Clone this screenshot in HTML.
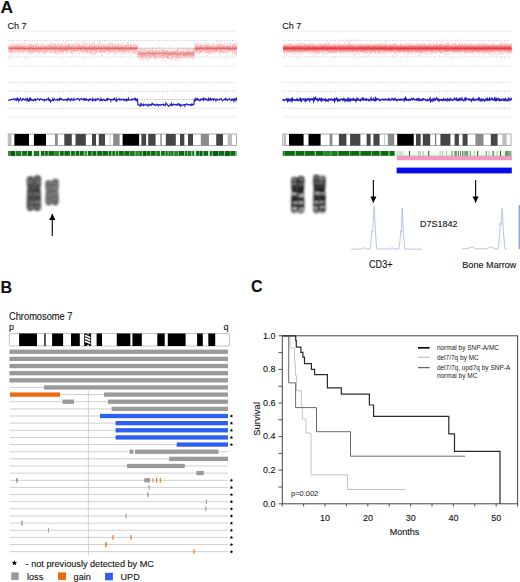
<!DOCTYPE html>
<html><head><meta charset="utf-8"><style>
html,body{margin:0;padding:0;background:#fff;}
svg{display:block;}
text{font-family:"Liberation Sans",sans-serif;stroke:#333;stroke-width:0.12px;paint-order:stroke;}
</style></head><body>
<svg width="520" height="582" viewBox="0 0 520 582">
<defs><linearGradient id="rg" x1="0" y1="0" x2="0" y2="1">
<stop offset="0" stop-color="#f27070" stop-opacity="0"/>
<stop offset="0.2" stop-color="#f29090" stop-opacity="0.12"/>
<stop offset="0.38" stop-color="#ec6060" stop-opacity="0.32"/>
<stop offset="0.5" stop-color="#e0303a" stop-opacity="0.72"/>
<stop offset="0.62" stop-color="#ec6060" stop-opacity="0.32"/>
<stop offset="0.8" stop-color="#f29090" stop-opacity="0.12"/>
<stop offset="1" stop-color="#f27070" stop-opacity="0"/>
</linearGradient>
<linearGradient id="rg2" x1="0" y1="0" x2="0" y2="1">
<stop offset="0" stop-color="#f27070" stop-opacity="0"/>
<stop offset="0.15" stop-color="#f28080" stop-opacity="0.15"/>
<stop offset="0.32" stop-color="#ec5050" stop-opacity="0.5"/>
<stop offset="0.5" stop-color="#e4202a" stop-opacity="0.9"/>
<stop offset="0.68" stop-color="#ec5050" stop-opacity="0.5"/>
<stop offset="0.85" stop-color="#f28080" stop-opacity="0.15"/>
<stop offset="1" stop-color="#f27070" stop-opacity="0"/>
</linearGradient>
<linearGradient id="rg3" x1="0" y1="0" x2="0" y2="1">
<stop offset="0" stop-color="#f27070" stop-opacity="0"/>
<stop offset="0.2" stop-color="#f29090" stop-opacity="0.15"/>
<stop offset="0.4" stop-color="#ec6a6a" stop-opacity="0.35"/>
<stop offset="0.5" stop-color="#e84a50" stop-opacity="0.5"/>
<stop offset="0.6" stop-color="#ec6a6a" stop-opacity="0.35"/>
<stop offset="0.8" stop-color="#f29090" stop-opacity="0.15"/>
<stop offset="1" stop-color="#f27070" stop-opacity="0"/>
</linearGradient>
<filter id="bl" x="-20%" y="-20%" width="140%" height="140%"><feGaussianBlur stdDeviation="0.85"/></filter>
</defs>
<rect width="520" height="582" fill="#fff"/>
<text x="0.5" y="13.3" font-size="17.4" font-weight="700" fill="#111" text-anchor="start" >A</text>
<line x1="8.4" y1="31" x2="237" y2="31" stroke="#e4e4ea" stroke-width="0.8" />
<line x1="8.4" y1="117" x2="237" y2="117" stroke="#e4e4ea" stroke-width="0.8" />
<line x1="8.4" y1="66" x2="237" y2="66" stroke="#dcdce4" stroke-width="0.8" stroke-dasharray="2 1"/>
<line x1="8.4" y1="82.5" x2="237" y2="82.5" stroke="#dcdce4" stroke-width="0.8" stroke-dasharray="2 1"/>
<line x1="8.4" y1="40.3" x2="237" y2="40.3" stroke="#b8b0c4" stroke-width="0.9" stroke-dasharray="1 1.6"/>
<line x1="8.4" y1="57" x2="237" y2="57" stroke="#c4b8c8" stroke-width="0.9" stroke-dasharray="1 1.6"/>
<line x1="8.4" y1="91.2" x2="237" y2="91.2" stroke="#b4b4c4" stroke-width="0.9" stroke-dasharray="1 1.6"/>
<line x1="8.4" y1="108.3" x2="237" y2="108.3" stroke="#c8c0b8" stroke-width="0.9" stroke-dasharray="1 1.6"/>
<rect x="8.4" y="42.3" width="129.1" height="12" fill="url(#rg)"/>
<rect x="137.5" y="47.6" width="56.8" height="12" fill="url(#rg3)"/>
<rect x="194.3" y="42.3" width="42.7" height="12" fill="url(#rg)"/>
<path d="M82.4 50.5h.8v.8h-.8zM25.0 51.4h.8v.8h-.8zM130.9 47.7h.8v.8h-.8zM124.4 49.0h.8v.8h-.8zM17.0 47.4h.8v.8h-.8zM29.1 48.7h.8v.8h-.8zM105.4 48.9h.8v.8h-.8zM59.4 47.1h.8v.8h-.8zM151.8 56.8h.8v.8h-.8zM99.1 47.2h.8v.8h-.8zM231.6 53.2h.8v.8h-.8zM74.6 49.8h.8v.8h-.8zM41.4 49.9h.8v.8h-.8zM195.0 49.8h.8v.8h-.8zM49.7 45.1h.8v.8h-.8zM93.5 46.5h.8v.8h-.8zM133.6 49.1h.8v.8h-.8zM55.5 48.7h.8v.8h-.8zM163.9 51.6h.8v.8h-.8zM142.3 54.6h.8v.8h-.8zM112.0 46.9h.8v.8h-.8zM168.2 58.0h.8v.8h-.8zM64.2 45.5h.8v.8h-.8zM208.5 46.9h.8v.8h-.8zM175.2 51.9h.8v.8h-.8zM35.4 55.4h.8v.8h-.8zM104.0 48.4h.8v.8h-.8zM120.2 46.8h.8v.8h-.8zM17.4 46.1h.8v.8h-.8zM139.4 49.7h.8v.8h-.8zM208.5 46.7h.8v.8h-.8zM144.3 57.3h.8v.8h-.8zM141.0 48.8h.8v.8h-.8zM224.4 49.7h.8v.8h-.8zM116.8 47.8h.8v.8h-.8zM168.8 52.8h.8v.8h-.8zM156.3 58.4h.8v.8h-.8zM73.5 48.1h.8v.8h-.8zM96.6 48.0h.8v.8h-.8zM113.9 47.8h.8v.8h-.8zM46.8 49.0h.8v.8h-.8zM184.0 54.2h.8v.8h-.8zM38.0 48.3h.8v.8h-.8zM207.6 50.9h.8v.8h-.8zM26.8 45.2h.8v.8h-.8zM210.3 49.3h.8v.8h-.8zM195.7 49.7h.8v.8h-.8zM103.3 46.7h.8v.8h-.8zM90.4 53.2h.8v.8h-.8zM42.9 44.0h.8v.8h-.8zM48.7 48.5h.8v.8h-.8zM119.3 50.2h.8v.8h-.8zM143.1 53.6h.8v.8h-.8zM104.2 48.5h.8v.8h-.8zM92.8 42.4h.8v.8h-.8zM166.2 51.0h.8v.8h-.8zM126.2 45.4h.8v.8h-.8zM20.7 45.7h.8v.8h-.8zM214.0 49.3h.8v.8h-.8zM190.8 48.4h.8v.8h-.8zM98.1 47.3h.8v.8h-.8zM153.4 54.3h.8v.8h-.8zM22.6 49.9h.8v.8h-.8zM45.5 49.0h.8v.8h-.8zM86.1 48.4h.8v.8h-.8zM43.0 48.3h.8v.8h-.8zM31.6 47.9h.8v.8h-.8zM208.3 48.7h.8v.8h-.8zM148.8 54.8h.8v.8h-.8zM87.8 49.9h.8v.8h-.8zM91.6 51.9h.8v.8h-.8zM235.4 51.8h.8v.8h-.8zM114.9 47.2h.8v.8h-.8zM31.8 48.4h.8v.8h-.8zM86.7 47.8h.8v.8h-.8zM45.3 53.2h.8v.8h-.8zM13.7 51.3h.8v.8h-.8zM41.9 47.3h.8v.8h-.8zM132.6 51.4h.8v.8h-.8zM232.1 48.8h.8v.8h-.8zM205.8 47.6h.8v.8h-.8zM92.2 46.4h.8v.8h-.8zM46.6 48.7h.8v.8h-.8zM186.5 50.4h.8v.8h-.8zM83.8 49.1h.8v.8h-.8zM233.6 53.0h.8v.8h-.8zM203.3 50.0h.8v.8h-.8zM177.5 49.1h.8v.8h-.8zM60.2 45.9h.8v.8h-.8zM15.0 48.0h.8v.8h-.8zM14.8 47.9h.8v.8h-.8zM166.7 55.6h.8v.8h-.8zM227.1 42.5h.8v.8h-.8zM234.3 50.3h.8v.8h-.8zM226.7 47.1h.8v.8h-.8zM60.3 49.7h.8v.8h-.8zM53.4 49.3h.8v.8h-.8zM214.2 51.8h.8v.8h-.8zM200.5 44.5h.8v.8h-.8zM191.2 54.1h.8v.8h-.8zM27.8 45.3h.8v.8h-.8zM187.2 48.8h.8v.8h-.8zM179.9 52.0h.8v.8h-.8zM188.8 53.8h.8v.8h-.8zM84.4 50.5h.8v.8h-.8zM98.9 41.7h.8v.8h-.8zM100.2 52.2h.8v.8h-.8zM47.3 46.9h.8v.8h-.8zM37.4 51.6h.8v.8h-.8zM192.8 58.2h.8v.8h-.8zM41.8 51.7h.8v.8h-.8zM158.7 47.1h.8v.8h-.8zM88.5 47.0h.8v.8h-.8zM11.7 47.9h.8v.8h-.8zM230.3 46.4h.8v.8h-.8zM221.8 45.7h.8v.8h-.8zM107.6 51.7h.8v.8h-.8zM56.6 44.8h.8v.8h-.8zM66.0 47.8h.8v.8h-.8zM142.5 55.5h.8v.8h-.8zM67.7 47.1h.8v.8h-.8zM216.4 49.0h.8v.8h-.8zM89.3 45.0h.8v.8h-.8zM215.1 49.2h.8v.8h-.8zM104.6 51.0h.8v.8h-.8zM130.0 46.8h.8v.8h-.8zM128.1 51.1h.8v.8h-.8zM50.3 48.6h.8v.8h-.8zM9.3 48.8h.8v.8h-.8zM116.6 46.8h.8v.8h-.8zM174.2 51.4h.8v.8h-.8zM126.9 47.5h.8v.8h-.8zM135.4 48.6h.8v.8h-.8zM136.5 47.1h.8v.8h-.8zM65.2 47.5h.8v.8h-.8zM124.5 52.7h.8v.8h-.8zM136.8 48.7h.8v.8h-.8zM109.7 42.6h.8v.8h-.8zM148.4 50.5h.8v.8h-.8zM166.8 53.5h.8v.8h-.8zM111.8 45.4h.8v.8h-.8zM223.6 47.7h.8v.8h-.8zM168.2 58.0h.8v.8h-.8zM67.7 44.0h.8v.8h-.8zM136.3 53.0h.8v.8h-.8zM39.7 46.6h.8v.8h-.8zM36.2 47.4h.8v.8h-.8zM63.4 48.7h.8v.8h-.8zM25.1 46.1h.8v.8h-.8zM213.5 44.3h.8v.8h-.8zM43.7 47.5h.8v.8h-.8zM41.1 44.6h.8v.8h-.8zM210.2 50.1h.8v.8h-.8zM226.1 47.9h.8v.8h-.8zM99.4 40.4h.8v.8h-.8zM198.7 48.9h.8v.8h-.8zM45.3 45.5h.8v.8h-.8zM85.9 49.6h.8v.8h-.8zM53.1 46.6h.8v.8h-.8zM12.9 52.1h.8v.8h-.8zM135.1 47.8h.8v.8h-.8zM84.2 48.5h.8v.8h-.8zM151.0 52.7h.8v.8h-.8zM233.6 48.2h.8v.8h-.8zM188.6 54.8h.8v.8h-.8zM69.1 48.1h.8v.8h-.8zM17.4 48.7h.8v.8h-.8zM38.0 46.3h.8v.8h-.8zM104.9 52.4h.8v.8h-.8zM67.5 45.8h.8v.8h-.8zM42.5 51.3h.8v.8h-.8zM168.5 52.0h.8v.8h-.8zM28.9 52.0h.8v.8h-.8zM105.6 49.7h.8v.8h-.8zM25.0 51.7h.8v.8h-.8zM191.7 52.2h.8v.8h-.8zM27.5 48.9h.8v.8h-.8zM205.6 47.5h.8v.8h-.8zM112.1 46.5h.8v.8h-.8zM220.2 51.1h.8v.8h-.8zM69.6 50.5h.8v.8h-.8zM62.9 50.6h.8v.8h-.8zM33.4 48.7h.8v.8h-.8zM54.5 49.0h.8v.8h-.8zM79.7 46.8h.8v.8h-.8zM74.7 52.4h.8v.8h-.8zM122.7 49.4h.8v.8h-.8zM12.6 50.5h.8v.8h-.8zM65.7 52.5h.8v.8h-.8zM134.4 48.7h.8v.8h-.8zM51.7 42.3h.8v.8h-.8zM32.7 49.3h.8v.8h-.8zM195.6 45.5h.8v.8h-.8zM199.2 49.6h.8v.8h-.8zM98.3 44.3h.8v.8h-.8zM233.0 48.1h.8v.8h-.8zM86.7 50.3h.8v.8h-.8zM153.8 50.1h.8v.8h-.8zM100.9 47.8h.8v.8h-.8zM38.1 49.0h.8v.8h-.8zM24.6 48.2h.8v.8h-.8zM45.7 46.3h.8v.8h-.8zM27.7 51.2h.8v.8h-.8zM161.7 49.2h.8v.8h-.8zM72.8 48.4h.8v.8h-.8zM113.4 50.5h.8v.8h-.8zM44.4 46.4h.8v.8h-.8zM228.3 49.0h.8v.8h-.8zM230.7 46.4h.8v.8h-.8zM229.2 47.7h.8v.8h-.8zM79.2 48.2h.8v.8h-.8zM95.6 48.4h.8v.8h-.8zM116.9 46.6h.8v.8h-.8zM123.8 48.3h.8v.8h-.8zM9.5 48.2h.8v.8h-.8zM99.7 49.4h.8v.8h-.8zM17.9 50.5h.8v.8h-.8zM61.6 48.6h.8v.8h-.8zM142.3 49.3h.8v.8h-.8zM158.7 52.8h.8v.8h-.8zM172.1 55.5h.8v.8h-.8zM83.0 46.5h.8v.8h-.8zM233.5 50.8h.8v.8h-.8zM155.4 57.0h.8v.8h-.8zM18.4 51.1h.8v.8h-.8zM151.8 48.9h.8v.8h-.8zM176.2 54.1h.8v.8h-.8zM128.1 47.0h.8v.8h-.8zM123.7 50.7h.8v.8h-.8zM197.3 44.3h.8v.8h-.8zM141.9 56.7h.8v.8h-.8zM166.9 51.1h.8v.8h-.8zM61.0 49.7h.8v.8h-.8zM90.9 48.6h.8v.8h-.8zM32.4 50.0h.8v.8h-.8zM151.9 50.7h.8v.8h-.8zM151.6 52.3h.8v.8h-.8zM9.2 45.6h.8v.8h-.8zM190.8 53.6h.8v.8h-.8zM130.7 45.2h.8v.8h-.8zM159.1 57.5h.8v.8h-.8zM66.1 50.0h.8v.8h-.8zM25.4 47.9h.8v.8h-.8zM55.3 52.5h.8v.8h-.8zM177.5 56.6h.8v.8h-.8zM95.9 47.8h.8v.8h-.8zM117.9 46.5h.8v.8h-.8zM149.4 49.5h.8v.8h-.8zM155.3 54.9h.8v.8h-.8zM66.5 49.0h.8v.8h-.8zM178.3 52.5h.8v.8h-.8zM11.3 51.5h.8v.8h-.8zM22.3 47.8h.8v.8h-.8zM166.6 57.5h.8v.8h-.8zM162.9 52.8h.8v.8h-.8zM114.6 51.3h.8v.8h-.8zM115.0 52.3h.8v.8h-.8zM53.9 52.0h.8v.8h-.8zM232.0 48.7h.8v.8h-.8zM113.3 48.1h.8v.8h-.8zM195.8 51.1h.8v.8h-.8zM69.8 47.7h.8v.8h-.8zM56.4 50.0h.8v.8h-.8zM141.3 53.0h.8v.8h-.8zM40.8 41.9h.8v.8h-.8zM38.7 47.3h.8v.8h-.8zM195.9 42.9h.8v.8h-.8zM169.2 53.3h.8v.8h-.8zM61.3 50.7h.8v.8h-.8zM14.1 46.5h.8v.8h-.8zM9.2 45.5h.8v.8h-.8zM77.4 48.4h.8v.8h-.8zM40.6 47.0h.8v.8h-.8zM200.5 50.2h.8v.8h-.8zM8.8 48.3h.8v.8h-.8zM35.8 43.3h.8v.8h-.8zM220.2 47.0h.8v.8h-.8zM74.7 42.9h.8v.8h-.8zM93.5 40.8h.8v.8h-.8zM143.1 59.5h.8v.8h-.8zM90.9 46.4h.8v.8h-.8zM19.4 49.2h.8v.8h-.8zM31.7 49.4h.8v.8h-.8zM222.3 46.5h.8v.8h-.8zM65.4 48.0h.8v.8h-.8zM51.8 51.4h.8v.8h-.8zM93.7 53.5h.8v.8h-.8zM194.0 52.1h.8v.8h-.8zM152.6 58.9h.8v.8h-.8zM134.0 45.1h.8v.8h-.8zM172.9 57.6h.8v.8h-.8zM111.5 49.6h.8v.8h-.8zM180.5 52.3h.8v.8h-.8zM19.6 46.6h.8v.8h-.8zM220.3 50.3h.8v.8h-.8zM87.0 50.4h.8v.8h-.8zM76.5 47.8h.8v.8h-.8zM67.9 41.2h.8v.8h-.8zM158.4 52.6h.8v.8h-.8zM98.6 51.5h.8v.8h-.8zM46.7 49.2h.8v.8h-.8zM215.5 49.8h.8v.8h-.8zM122.0 49.4h.8v.8h-.8zM236.2 53.9h.8v.8h-.8zM111.3 49.4h.8v.8h-.8zM29.1 49.6h.8v.8h-.8zM86.6 49.9h.8v.8h-.8zM67.5 49.3h.8v.8h-.8zM138.6 56.9h.8v.8h-.8zM102.8 45.5h.8v.8h-.8zM103.0 45.8h.8v.8h-.8zM85.7 47.9h.8v.8h-.8zM22.6 47.1h.8v.8h-.8zM37.2 55.0h.8v.8h-.8zM123.5 44.7h.8v.8h-.8zM57.8 44.5h.8v.8h-.8zM70.4 48.3h.8v.8h-.8zM110.3 50.9h.8v.8h-.8zM226.5 51.4h.8v.8h-.8zM13.4 44.0h.8v.8h-.8zM15.8 46.9h.8v.8h-.8zM116.6 42.9h.8v.8h-.8zM142.6 56.2h.8v.8h-.8zM220.3 48.3h.8v.8h-.8zM197.1 52.6h.8v.8h-.8zM65.2 42.8h.8v.8h-.8zM33.3 50.1h.8v.8h-.8zM164.3 56.2h.8v.8h-.8zM223.6 47.6h.8v.8h-.8zM183.2 49.9h.8v.8h-.8zM112.9 47.6h.8v.8h-.8zM187.2 53.4h.8v.8h-.8zM61.6 51.6h.8v.8h-.8zM77.8 46.5h.8v.8h-.8zM37.7 48.3h.8v.8h-.8zM168.1 57.3h.8v.8h-.8zM34.0 51.2h.8v.8h-.8zM141.6 55.0h.8v.8h-.8zM97.1 48.9h.8v.8h-.8zM10.8 51.8h.8v.8h-.8zM77.3 41.9h.8v.8h-.8zM155.7 55.2h.8v.8h-.8zM210.4 46.4h.8v.8h-.8zM64.9 48.6h.8v.8h-.8zM228.0 47.7h.8v.8h-.8zM13.4 46.2h.8v.8h-.8zM122.3 47.1h.8v.8h-.8zM67.2 45.9h.8v.8h-.8zM161.0 55.3h.8v.8h-.8zM16.2 47.5h.8v.8h-.8zM85.7 44.8h.8v.8h-.8zM53.7 50.2h.8v.8h-.8zM190.6 53.4h.8v.8h-.8zM55.3 45.2h.8v.8h-.8zM230.1 46.5h.8v.8h-.8zM61.2 52.8h.8v.8h-.8zM59.0 48.4h.8v.8h-.8zM226.0 46.1h.8v.8h-.8zM121.7 49.0h.8v.8h-.8zM103.7 50.0h.8v.8h-.8zM160.5 55.0h.8v.8h-.8zM98.3 47.8h.8v.8h-.8zM57.1 49.7h.8v.8h-.8zM20.3 48.1h.8v.8h-.8zM22.1 43.9h.8v.8h-.8zM210.4 51.8h.8v.8h-.8zM175.9 59.6h.8v.8h-.8zM83.7 48.2h.8v.8h-.8zM50.8 52.3h.8v.8h-.8zM15.7 46.6h.8v.8h-.8zM160.3 51.8h.8v.8h-.8zM84.2 50.0h.8v.8h-.8zM47.1 50.4h.8v.8h-.8zM88.7 48.3h.8v.8h-.8zM226.8 53.1h.8v.8h-.8zM55.8 53.0h.8v.8h-.8zM89.9 50.4h.8v.8h-.8zM107.3 43.9h.8v.8h-.8zM19.7 45.8h.8v.8h-.8zM218.6 48.7h.8v.8h-.8zM52.5 44.7h.8v.8h-.8zM15.3 52.5h.8v.8h-.8zM102.3 50.0h.8v.8h-.8zM17.7 44.2h.8v.8h-.8zM16.4 53.7h.8v.8h-.8zM67.2 50.5h.8v.8h-.8zM179.2 55.5h.8v.8h-.8zM70.7 46.9h.8v.8h-.8zM227.3 46.8h.8v.8h-.8zM172.2 52.2h.8v.8h-.8zM80.7 48.3h.8v.8h-.8zM181.1 53.8h.8v.8h-.8zM217.9 44.2h.8v.8h-.8zM13.9 43.7h.8v.8h-.8zM61.9 41.9h.8v.8h-.8zM226.5 49.3h.8v.8h-.8zM96.8 48.3h.8v.8h-.8zM121.2 51.1h.8v.8h-.8zM220.6 50.2h.8v.8h-.8zM177.2 57.9h.8v.8h-.8zM196.5 48.8h.8v.8h-.8zM83.3 44.8h.8v.8h-.8zM81.4 45.4h.8v.8h-.8zM26.5 51.8h.8v.8h-.8zM53.5 48.3h.8v.8h-.8zM23.2 46.3h.8v.8h-.8zM16.1 46.1h.8v.8h-.8zM232.5 47.6h.8v.8h-.8zM210.4 50.3h.8v.8h-.8zM27.6 48.1h.8v.8h-.8zM30.4 44.2h.8v.8h-.8zM110.6 48.3h.8v.8h-.8zM61.9 45.2h.8v.8h-.8zM162.5 55.4h.8v.8h-.8zM179.4 55.8h.8v.8h-.8zM36.1 45.1h.8v.8h-.8zM200.6 47.4h.8v.8h-.8zM93.7 51.5h.8v.8h-.8zM177.1 54.2h.8v.8h-.8zM64.5 50.2h.8v.8h-.8zM43.4 50.9h.8v.8h-.8zM83.0 46.0h.8v.8h-.8zM98.9 51.4h.8v.8h-.8zM61.3 48.2h.8v.8h-.8zM193.2 49.0h.8v.8h-.8zM31.8 41.8h.8v.8h-.8zM116.9 50.4h.8v.8h-.8zM217.4 43.8h.8v.8h-.8zM17.6 47.9h.8v.8h-.8zM51.7 49.6h.8v.8h-.8zM230.8 43.1h.8v.8h-.8zM93.5 45.3h.8v.8h-.8zM206.4 46.4h.8v.8h-.8zM186.2 54.2h.8v.8h-.8zM224.6 51.1h.8v.8h-.8zM150.1 55.8h.8v.8h-.8zM58.2 47.3h.8v.8h-.8zM55.0 49.4h.8v.8h-.8zM66.7 45.2h.8v.8h-.8zM54.9 46.1h.8v.8h-.8zM11.0 46.5h.8v.8h-.8zM50.7 51.8h.8v.8h-.8zM79.8 49.6h.8v.8h-.8zM133.7 52.7h.8v.8h-.8zM22.9 50.4h.8v.8h-.8zM134.2 49.9h.8v.8h-.8zM154.5 54.9h.8v.8h-.8zM167.4 54.4h.8v.8h-.8zM102.1 47.8h.8v.8h-.8zM226.3 50.5h.8v.8h-.8zM79.8 46.1h.8v.8h-.8zM103.6 47.3h.8v.8h-.8zM206.0 50.8h.8v.8h-.8zM53.5 48.2h.8v.8h-.8zM174.8 53.7h.8v.8h-.8zM214.5 48.6h.8v.8h-.8zM105.3 49.4h.8v.8h-.8zM210.2 45.9h.8v.8h-.8zM113.8 48.5h.8v.8h-.8zM134.5 48.7h.8v.8h-.8zM154.9 54.5h.8v.8h-.8zM150.6 53.0h.8v.8h-.8zM93.2 46.8h.8v.8h-.8zM73.2 48.3h.8v.8h-.8zM127.5 49.4h.8v.8h-.8zM120.5 47.7h.8v.8h-.8zM192.4 55.3h.8v.8h-.8zM37.4 47.9h.8v.8h-.8zM224.0 51.3h.8v.8h-.8zM20.6 47.8h.8v.8h-.8zM220.1 44.0h.8v.8h-.8zM150.2 57.2h.8v.8h-.8zM196.9 50.7h.8v.8h-.8zM59.2 52.2h.8v.8h-.8zM100.9 51.1h.8v.8h-.8zM50.2 44.3h.8v.8h-.8zM58.3 45.8h.8v.8h-.8zM96.1 50.2h.8v.8h-.8zM36.5 48.4h.8v.8h-.8zM213.5 52.5h.8v.8h-.8zM17.8 44.3h.8v.8h-.8zM17.1 46.6h.8v.8h-.8zM200.0 50.9h.8v.8h-.8zM134.1 50.7h.8v.8h-.8zM151.7 52.7h.8v.8h-.8zM141.6 56.1h.8v.8h-.8zM105.7 46.8h.8v.8h-.8zM108.6 45.9h.8v.8h-.8zM13.7 46.1h.8v.8h-.8zM62.2 46.3h.8v.8h-.8zM183.0 54.1h.8v.8h-.8zM49.4 45.5h.8v.8h-.8zM116.6 49.4h.8v.8h-.8zM106.8 49.1h.8v.8h-.8zM29.4 45.4h.8v.8h-.8zM17.7 49.4h.8v.8h-.8zM153.9 57.3h.8v.8h-.8zM186.2 55.7h.8v.8h-.8zM125.3 51.2h.8v.8h-.8zM94.8 49.3h.8v.8h-.8zM225.8 51.7h.8v.8h-.8zM236.1 52.2h.8v.8h-.8zM175.8 54.3h.8v.8h-.8zM232.8 46.7h.8v.8h-.8zM120.8 53.9h.8v.8h-.8zM46.1 46.7h.8v.8h-.8zM188.6 54.5h.8v.8h-.8zM88.6 47.9h.8v.8h-.8zM181.3 56.6h.8v.8h-.8zM71.3 53.0h.8v.8h-.8zM194.9 50.2h.8v.8h-.8zM218.7 50.7h.8v.8h-.8zM56.0 48.1h.8v.8h-.8zM81.3 51.4h.8v.8h-.8zM16.8 48.9h.8v.8h-.8zM222.5 49.7h.8v.8h-.8zM163.8 54.9h.8v.8h-.8zM187.8 52.6h.8v.8h-.8zM34.7 44.7h.8v.8h-.8zM90.6 47.6h.8v.8h-.8zM208.0 45.1h.8v.8h-.8zM210.1 47.1h.8v.8h-.8zM32.3 52.0h.8v.8h-.8zM98.5 48.1h.8v.8h-.8zM190.7 52.9h.8v.8h-.8zM140.4 61.5h.8v.8h-.8zM90.8 48.6h.8v.8h-.8zM48.8 45.5h.8v.8h-.8zM178.4 58.2h.8v.8h-.8zM66.4 49.7h.8v.8h-.8zM154.5 57.0h.8v.8h-.8zM160.1 53.3h.8v.8h-.8zM79.9 49.0h.8v.8h-.8zM42.5 48.3h.8v.8h-.8zM149.2 50.8h.8v.8h-.8zM213.1 49.6h.8v.8h-.8zM38.6 48.8h.8v.8h-.8zM13.5 52.0h.8v.8h-.8zM9.0 47.5h.8v.8h-.8zM90.0 49.3h.8v.8h-.8zM59.7 45.3h.8v.8h-.8zM55.1 46.6h.8v.8h-.8zM151.0 52.2h.8v.8h-.8zM222.5 48.5h.8v.8h-.8zM64.1 49.0h.8v.8h-.8zM154.3 54.5h.8v.8h-.8zM207.6 48.8h.8v.8h-.8zM68.8 45.7h.8v.8h-.8zM11.0 46.3h.8v.8h-.8zM88.5 45.7h.8v.8h-.8zM156.0 47.9h.8v.8h-.8zM176.1 55.7h.8v.8h-.8zM65.2 48.9h.8v.8h-.8zM129.9 47.9h.8v.8h-.8zM101.2 48.4h.8v.8h-.8zM186.5 54.5h.8v.8h-.8zM11.2 42.4h.8v.8h-.8zM40.9 46.4h.8v.8h-.8zM54.0 45.9h.8v.8h-.8zM155.1 51.7h.8v.8h-.8zM194.3 49.3h.8v.8h-.8zM77.0 50.3h.8v.8h-.8zM19.5 51.8h.8v.8h-.8zM171.9 50.7h.8v.8h-.8zM9.9 50.7h.8v.8h-.8zM114.8 44.7h.8v.8h-.8zM178.0 51.8h.8v.8h-.8zM32.5 48.8h.8v.8h-.8zM61.5 50.6h.8v.8h-.8zM179.8 54.2h.8v.8h-.8zM167.3 55.9h.8v.8h-.8zM69.2 44.9h.8v.8h-.8zM135.0 44.1h.8v.8h-.8zM128.0 50.1h.8v.8h-.8zM69.0 44.1h.8v.8h-.8zM58.0 43.1h.8v.8h-.8zM209.6 50.3h.8v.8h-.8zM62.4 48.5h.8v.8h-.8zM178.5 57.6h.8v.8h-.8zM83.1 46.8h.8v.8h-.8zM209.6 47.4h.8v.8h-.8zM215.9 50.0h.8v.8h-.8zM152.6 52.2h.8v.8h-.8zM232.2 44.7h.8v.8h-.8zM115.7 50.4h.8v.8h-.8zM204.4 44.9h.8v.8h-.8zM108.3 47.8h.8v.8h-.8zM78.8 45.0h.8v.8h-.8zM56.9 47.5h.8v.8h-.8zM216.6 47.6h.8v.8h-.8zM41.5 49.5h.8v.8h-.8zM220.8 48.5h.8v.8h-.8zM87.2 48.7h.8v.8h-.8zM17.9 48.8h.8v.8h-.8zM166.7 50.9h.8v.8h-.8zM176.8 50.6h.8v.8h-.8zM23.4 46.2h.8v.8h-.8zM195.3 47.0h.8v.8h-.8zM195.8 49.0h.8v.8h-.8zM206.8 47.7h.8v.8h-.8zM217.4 49.5h.8v.8h-.8zM55.4 47.9h.8v.8h-.8zM34.0 53.2h.8v.8h-.8zM194.0 54.7h.8v.8h-.8zM153.4 55.3h.8v.8h-.8zM74.1 45.0h.8v.8h-.8zM31.2 51.9h.8v.8h-.8zM55.3 50.8h.8v.8h-.8zM81.4 47.8h.8v.8h-.8zM67.1 48.5h.8v.8h-.8zM73.0 47.8h.8v.8h-.8zM81.7 45.9h.8v.8h-.8zM228.8 43.2h.8v.8h-.8zM149.7 53.5h.8v.8h-.8zM15.5 45.9h.8v.8h-.8zM185.1 55.0h.8v.8h-.8zM87.7 47.4h.8v.8h-.8zM57.9 45.2h.8v.8h-.8zM205.5 52.3h.8v.8h-.8zM47.3 50.9h.8v.8h-.8zM8.7 49.6h.8v.8h-.8zM231.9 52.5h.8v.8h-.8zM9.4 45.3h.8v.8h-.8zM190.5 53.8h.8v.8h-.8zM50.6 45.9h.8v.8h-.8zM198.6 48.4h.8v.8h-.8zM68.0 50.3h.8v.8h-.8zM57.5 47.6h.8v.8h-.8zM168.3 52.3h.8v.8h-.8zM153.9 53.6h.8v.8h-.8zM26.9 49.2h.8v.8h-.8zM188.3 49.7h.8v.8h-.8zM151.9 52.0h.8v.8h-.8zM98.6 50.4h.8v.8h-.8zM211.9 53.0h.8v.8h-.8zM14.2 51.1h.8v.8h-.8zM55.5 47.8h.8v.8h-.8zM123.0 53.9h.8v.8h-.8zM95.1 49.7h.8v.8h-.8zM113.8 47.0h.8v.8h-.8zM129.9 48.4h.8v.8h-.8zM156.1 49.3h.8v.8h-.8zM88.1 47.6h.8v.8h-.8zM201.1 49.6h.8v.8h-.8zM159.8 53.5h.8v.8h-.8zM108.7 46.7h.8v.8h-.8zM185.2 52.4h.8v.8h-.8zM114.0 47.7h.8v.8h-.8zM210.7 48.4h.8v.8h-.8zM77.3 50.0h.8v.8h-.8zM169.1 54.4h.8v.8h-.8zM44.1 47.0h.8v.8h-.8zM65.0 46.8h.8v.8h-.8zM45.2 51.1h.8v.8h-.8zM83.4 50.9h.8v.8h-.8zM175.0 60.2h.8v.8h-.8zM31.7 49.5h.8v.8h-.8zM96.2 48.0h.8v.8h-.8zM233.3 49.5h.8v.8h-.8zM107.8 44.2h.8v.8h-.8zM53.2 47.5h.8v.8h-.8zM55.6 47.4h.8v.8h-.8zM97.2 50.9h.8v.8h-.8zM189.2 54.2h.8v.8h-.8zM166.9 49.9h.8v.8h-.8zM114.3 48.3h.8v.8h-.8zM40.8 46.2h.8v.8h-.8zM177.8 52.0h.8v.8h-.8zM216.0 45.2h.8v.8h-.8zM179.6 55.0h.8v.8h-.8zM104.7 48.9h.8v.8h-.8zM209.6 52.4h.8v.8h-.8zM185.3 52.0h.8v.8h-.8zM163.8 48.8h.8v.8h-.8zM155.1 51.4h.8v.8h-.8zM152.0 54.2h.8v.8h-.8zM30.8 44.3h.8v.8h-.8zM171.4 55.8h.8v.8h-.8zM152.3 53.6h.8v.8h-.8zM112.5 51.0h.8v.8h-.8zM150.5 50.3h.8v.8h-.8zM221.0 50.4h.8v.8h-.8zM50.2 45.8h.8v.8h-.8zM97.3 44.6h.8v.8h-.8zM120.4 49.0h.8v.8h-.8zM132.6 48.2h.8v.8h-.8zM45.2 49.5h.8v.8h-.8zM127.1 42.2h.8v.8h-.8zM31.5 45.4h.8v.8h-.8zM172.4 52.1h.8v.8h-.8zM125.5 45.2h.8v.8h-.8zM127.7 44.5h.8v.8h-.8zM102.2 50.0h.8v.8h-.8zM164.8 53.0h.8v.8h-.8zM98.1 48.4h.8v.8h-.8zM233.4 47.0h.8v.8h-.8zM89.7 50.3h.8v.8h-.8zM99.8 49.0h.8v.8h-.8zM11.4 45.9h.8v.8h-.8zM168.0 54.9h.8v.8h-.8zM88.9 48.1h.8v.8h-.8zM177.9 55.4h.8v.8h-.8zM223.3 46.5h.8v.8h-.8zM191.6 53.3h.8v.8h-.8zM98.0 48.6h.8v.8h-.8zM185.9 54.9h.8v.8h-.8zM193.5 51.7h.8v.8h-.8zM136.9 46.1h.8v.8h-.8zM60.1 50.7h.8v.8h-.8zM154.4 53.1h.8v.8h-.8zM195.6 49.5h.8v.8h-.8zM75.7 45.6h.8v.8h-.8zM133.7 51.8h.8v.8h-.8zM89.5 51.8h.8v.8h-.8zM202.9 48.0h.8v.8h-.8zM66.4 50.8h.8v.8h-.8zM105.8 48.4h.8v.8h-.8zM173.4 53.8h.8v.8h-.8zM72.7 48.4h.8v.8h-.8zM118.0 50.5h.8v.8h-.8zM106.4 45.8h.8v.8h-.8zM91.3 45.4h.8v.8h-.8zM220.7 48.8h.8v.8h-.8zM197.7 47.6h.8v.8h-.8zM215.5 48.6h.8v.8h-.8zM198.4 46.9h.8v.8h-.8zM153.1 54.0h.8v.8h-.8zM226.0 48.3h.8v.8h-.8zM158.4 53.6h.8v.8h-.8zM41.0 49.5h.8v.8h-.8zM61.8 48.7h.8v.8h-.8zM43.3 45.9h.8v.8h-.8zM215.1 48.7h.8v.8h-.8zM212.1 46.8h.8v.8h-.8zM147.5 54.4h.8v.8h-.8zM212.7 44.5h.8v.8h-.8zM188.6 54.5h.8v.8h-.8zM166.8 52.1h.8v.8h-.8zM129.7 48.2h.8v.8h-.8zM210.2 45.5h.8v.8h-.8zM135.3 48.1h.8v.8h-.8zM40.3 50.2h.8v.8h-.8zM121.1 51.0h.8v.8h-.8zM41.4 49.3h.8v.8h-.8zM120.7 45.1h.8v.8h-.8zM205.7 48.3h.8v.8h-.8zM9.9 49.9h.8v.8h-.8zM137.0 45.8h.8v.8h-.8zM160.5 55.0h.8v.8h-.8zM104.1 46.2h.8v.8h-.8zM228.0 51.6h.8v.8h-.8zM153.8 55.3h.8v.8h-.8zM14.9 45.3h.8v.8h-.8zM221.3 45.8h.8v.8h-.8zM83.9 51.4h.8v.8h-.8zM119.2 47.9h.8v.8h-.8zM213.6 52.3h.8v.8h-.8zM151.3 54.5h.8v.8h-.8zM85.8 49.9h.8v.8h-.8zM116.9 46.4h.8v.8h-.8zM128.5 48.5h.8v.8h-.8zM107.9 46.5h.8v.8h-.8zM105.0 43.7h.8v.8h-.8zM75.4 46.7h.8v.8h-.8zM197.6 45.8h.8v.8h-.8zM70.5 50.1h.8v.8h-.8zM124.2 52.0h.8v.8h-.8zM189.4 53.0h.8v.8h-.8zM84.0 47.4h.8v.8h-.8zM142.5 55.6h.8v.8h-.8zM153.5 53.8h.8v.8h-.8zM173.6 52.9h.8v.8h-.8zM210.8 47.5h.8v.8h-.8zM77.1 48.1h.8v.8h-.8zM9.8 50.5h.8v.8h-.8zM147.5 59.1h.8v.8h-.8zM158.8 55.0h.8v.8h-.8zM148.2 48.1h.8v.8h-.8zM149.4 50.8h.8v.8h-.8zM144.7 50.7h.8v.8h-.8zM164.1 54.5h.8v.8h-.8zM113.1 52.0h.8v.8h-.8zM182.7 54.9h.8v.8h-.8zM16.9 49.3h.8v.8h-.8zM185.5 56.9h.8v.8h-.8zM92.7 46.3h.8v.8h-.8zM196.4 49.1h.8v.8h-.8zM67.4 45.0h.8v.8h-.8zM77.4 46.3h.8v.8h-.8zM106.9 49.4h.8v.8h-.8zM155.1 54.4h.8v.8h-.8zM138.1 53.2h.8v.8h-.8zM17.4 51.8h.8v.8h-.8zM139.9 56.8h.8v.8h-.8zM218.4 47.9h.8v.8h-.8zM96.9 48.4h.8v.8h-.8zM143.7 60.4h.8v.8h-.8zM117.1 45.5h.8v.8h-.8zM102.7 51.3h.8v.8h-.8zM56.9 50.5h.8v.8h-.8zM43.1 48.6h.8v.8h-.8zM164.7 53.6h.8v.8h-.8zM36.2 49.4h.8v.8h-.8zM207.2 48.1h.8v.8h-.8zM37.9 52.4h.8v.8h-.8zM63.8 48.8h.8v.8h-.8zM176.1 53.9h.8v.8h-.8zM185.3 54.4h.8v.8h-.8zM171.5 56.2h.8v.8h-.8zM27.7 45.0h.8v.8h-.8zM152.1 52.9h.8v.8h-.8zM221.5 45.5h.8v.8h-.8zM66.5 52.3h.8v.8h-.8zM11.0 47.4h.8v.8h-.8zM11.8 45.5h.8v.8h-.8zM26.6 44.4h.8v.8h-.8zM79.5 48.1h.8v.8h-.8zM205.2 46.7h.8v.8h-.8zM119.6 50.6h.8v.8h-.8zM139.8 54.5h.8v.8h-.8zM108.7 47.7h.8v.8h-.8zM190.7 52.3h.8v.8h-.8zM91.4 46.1h.8v.8h-.8zM103.9 45.4h.8v.8h-.8zM96.6 49.7h.8v.8h-.8zM187.8 47.5h.8v.8h-.8zM138.0 53.4h.8v.8h-.8zM231.0 49.2h.8v.8h-.8zM169.2 54.7h.8v.8h-.8zM146.9 51.5h.8v.8h-.8zM231.8 50.0h.8v.8h-.8zM78.9 45.2h.8v.8h-.8zM106.4 50.2h.8v.8h-.8zM165.0 52.0h.8v.8h-.8zM146.0 57.3h.8v.8h-.8zM73.2 45.4h.8v.8h-.8zM8.8 48.1h.8v.8h-.8zM142.5 56.3h.8v.8h-.8zM194.9 48.9h.8v.8h-.8zM198.9 47.8h.8v.8h-.8zM194.0 55.9h.8v.8h-.8zM71.0 45.8h.8v.8h-.8zM203.0 49.7h.8v.8h-.8zM217.3 44.6h.8v.8h-.8zM87.7 51.1h.8v.8h-.8zM190.7 55.3h.8v.8h-.8zM54.2 48.3h.8v.8h-.8zM61.9 42.3h.8v.8h-.8zM147.1 52.3h.8v.8h-.8zM55.6 45.7h.8v.8h-.8zM66.6 48.3h.8v.8h-.8zM113.5 43.7h.8v.8h-.8zM28.4 49.9h.8v.8h-.8zM61.6 44.1h.8v.8h-.8zM140.9 57.9h.8v.8h-.8zM127.7 45.0h.8v.8h-.8zM117.3 46.9h.8v.8h-.8zM52.4 47.4h.8v.8h-.8zM49.7 47.6h.8v.8h-.8zM137.4 45.9h.8v.8h-.8zM100.4 46.8h.8v.8h-.8zM18.6 48.1h.8v.8h-.8zM236.3 47.4h.8v.8h-.8zM153.0 54.5h.8v.8h-.8zM188.4 55.5h.8v.8h-.8zM87.2 51.2h.8v.8h-.8zM127.1 49.0h.8v.8h-.8zM234.8 48.4h.8v.8h-.8zM206.4 44.9h.8v.8h-.8zM68.2 48.6h.8v.8h-.8zM186.5 48.0h.8v.8h-.8zM183.8 56.4h.8v.8h-.8zM195.6 50.2h.8v.8h-.8zM17.1 47.8h.8v.8h-.8zM54.3 48.8h.8v.8h-.8zM20.1 49.3h.8v.8h-.8zM135.8 50.3h.8v.8h-.8zM224.9 46.2h.8v.8h-.8zM216.4 51.5h.8v.8h-.8zM99.2 49.7h.8v.8h-.8zM35.8 50.2h.8v.8h-.8zM137.4 47.8h.8v.8h-.8zM154.8 57.3h.8v.8h-.8zM98.3 47.3h.8v.8h-.8zM110.9 51.9h.8v.8h-.8zM235.1 54.0h.8v.8h-.8zM59.1 50.2h.8v.8h-.8zM88.9 48.8h.8v.8h-.8zM214.8 52.4h.8v.8h-.8zM19.2 45.5h.8v.8h-.8zM188.2 52.7h.8v.8h-.8zM233.7 44.7h.8v.8h-.8zM21.1 51.0h.8v.8h-.8zM223.1 51.7h.8v.8h-.8zM163.1 52.6h.8v.8h-.8zM181.7 56.9h.8v.8h-.8zM32.5 47.4h.8v.8h-.8zM36.8 50.1h.8v.8h-.8zM118.4 49.2h.8v.8h-.8zM41.1 50.0h.8v.8h-.8zM163.3 57.7h.8v.8h-.8zM53.0 48.6h.8v.8h-.8zM16.6 49.9h.8v.8h-.8zM221.9 47.5h.8v.8h-.8zM206.5 49.4h.8v.8h-.8zM110.6 47.4h.8v.8h-.8zM30.6 52.8h.8v.8h-.8zM152.0 51.4h.8v.8h-.8zM111.8 45.7h.8v.8h-.8zM117.6 52.4h.8v.8h-.8zM152.0 54.7h.8v.8h-.8zM21.4 49.7h.8v.8h-.8zM171.6 52.2h.8v.8h-.8zM207.4 47.8h.8v.8h-.8zM69.3 47.0h.8v.8h-.8zM70.4 49.1h.8v.8h-.8zM200.3 47.5h.8v.8h-.8zM120.6 49.7h.8v.8h-.8zM81.1 49.4h.8v.8h-.8zM232.1 47.6h.8v.8h-.8zM21.4 51.4h.8v.8h-.8zM56.7 45.9h.8v.8h-.8zM117.5 47.8h.8v.8h-.8zM54.5 50.3h.8v.8h-.8zM91.7 57.5h.8v.8h-.8zM219.9 47.8h.8v.8h-.8zM30.7 46.9h.8v.8h-.8zM21.5 53.7h.8v.8h-.8zM174.5 51.7h.8v.8h-.8zM12.1 55.2h.8v.8h-.8zM192.9 52.8h.8v.8h-.8zM8.8 49.5h.8v.8h-.8zM198.7 46.7h.8v.8h-.8zM107.9 48.0h.8v.8h-.8zM216.9 49.0h.8v.8h-.8zM40.0 51.6h.8v.8h-.8zM49.6 48.8h.8v.8h-.8zM53.4 44.2h.8v.8h-.8zM26.5 51.3h.8v.8h-.8zM121.7 50.2h.8v.8h-.8zM71.0 49.3h.8v.8h-.8zM170.2 57.0h.8v.8h-.8zM193.9 52.1h.8v.8h-.8zM23.4 47.4h.8v.8h-.8zM175.9 50.1h.8v.8h-.8zM21.1 50.6h.8v.8h-.8zM193.7 51.1h.8v.8h-.8zM206.0 52.6h.8v.8h-.8zM121.1 54.0h.8v.8h-.8zM117.4 48.9h.8v.8h-.8zM207.7 48.1h.8v.8h-.8zM198.5 50.0h.8v.8h-.8zM92.3 49.6h.8v.8h-.8zM144.4 55.7h.8v.8h-.8zM9.5 45.5h.8v.8h-.8zM126.3 47.9h.8v.8h-.8zM36.0 47.2h.8v.8h-.8zM206.2 43.6h.8v.8h-.8zM81.8 47.7h.8v.8h-.8zM180.2 51.1h.8v.8h-.8zM22.4 52.8h.8v.8h-.8zM121.5 43.7h.8v.8h-.8zM125.7 45.1h.8v.8h-.8zM13.1 47.7h.8v.8h-.8zM229.6 48.6h.8v.8h-.8zM31.9 49.9h.8v.8h-.8zM65.7 48.6h.8v.8h-.8zM30.5 47.7h.8v.8h-.8zM168.2 53.8h.8v.8h-.8zM145.4 54.1h.8v.8h-.8zM140.2 49.6h.8v.8h-.8zM31.9 47.7h.8v.8h-.8zM207.2 48.1h.8v.8h-.8zM36.5 47.5h.8v.8h-.8zM121.2 46.2h.8v.8h-.8zM36.3 48.3h.8v.8h-.8zM101.1 50.6h.8v.8h-.8zM205.2 50.9h.8v.8h-.8zM42.1 44.4h.8v.8h-.8zM46.0 46.4h.8v.8h-.8zM197.2 50.7h.8v.8h-.8zM104.5 47.3h.8v.8h-.8zM200.4 45.7h.8v.8h-.8zM223.6 47.9h.8v.8h-.8zM186.0 52.6h.8v.8h-.8zM85.0 49.9h.8v.8h-.8zM108.0 53.0h.8v.8h-.8zM217.1 47.7h.8v.8h-.8zM194.7 48.8h.8v.8h-.8zM126.7 47.6h.8v.8h-.8zM227.4 50.1h.8v.8h-.8zM104.9 47.5h.8v.8h-.8zM153.0 51.5h.8v.8h-.8zM24.2 50.7h.8v.8h-.8zM107.4 47.8h.8v.8h-.8zM40.3 48.3h.8v.8h-.8zM230.1 49.3h.8v.8h-.8zM153.2 47.6h.8v.8h-.8zM193.4 57.6h.8v.8h-.8zM16.3 44.7h.8v.8h-.8zM155.1 53.2h.8v.8h-.8zM70.9 52.2h.8v.8h-.8zM132.4 51.5h.8v.8h-.8zM65.7 46.6h.8v.8h-.8zM127.3 42.5h.8v.8h-.8zM74.1 50.9h.8v.8h-.8zM78.2 47.5h.8v.8h-.8zM144.3 52.5h.8v.8h-.8zM227.0 46.3h.8v.8h-.8zM115.0 48.1h.8v.8h-.8zM130.4 49.1h.8v.8h-.8zM38.4 49.4h.8v.8h-.8zM75.5 46.5h.8v.8h-.8zM64.0 49.5h.8v.8h-.8zM28.5 43.5h.8v.8h-.8zM147.8 52.2h.8v.8h-.8zM138.7 52.6h.8v.8h-.8zM170.8 52.2h.8v.8h-.8zM113.8 44.9h.8v.8h-.8zM115.6 47.2h.8v.8h-.8zM79.4 48.4h.8v.8h-.8zM125.5 50.1h.8v.8h-.8zM96.0 48.0h.8v.8h-.8zM89.0 48.1h.8v.8h-.8zM205.4 48.5h.8v.8h-.8zM120.7 51.6h.8v.8h-.8zM73.5 50.5h.8v.8h-.8zM184.9 53.4h.8v.8h-.8zM44.6 53.1h.8v.8h-.8zM109.0 50.4h.8v.8h-.8zM22.6 46.2h.8v.8h-.8zM176.5 55.4h.8v.8h-.8zM33.4 49.3h.8v.8h-.8zM177.3 60.1h.8v.8h-.8zM43.7 47.0h.8v.8h-.8zM162.8 55.7h.8v.8h-.8zM149.3 56.4h.8v.8h-.8zM126.8 44.4h.8v.8h-.8zM177.3 53.4h.8v.8h-.8zM117.0 43.9h.8v.8h-.8zM187.8 52.1h.8v.8h-.8zM37.5 42.7h.8v.8h-.8zM207.5 52.7h.8v.8h-.8zM142.3 53.7h.8v.8h-.8zM122.2 51.6h.8v.8h-.8zM103.9 47.5h.8v.8h-.8zM187.6 56.1h.8v.8h-.8zM95.2 45.8h.8v.8h-.8zM111.8 44.3h.8v.8h-.8zM75.4 49.4h.8v.8h-.8zM97.7 45.9h.8v.8h-.8zM82.0 47.4h.8v.8h-.8zM188.3 55.4h.8v.8h-.8zM109.9 45.8h.8v.8h-.8zM50.5 47.8h.8v.8h-.8zM139.9 55.0h.8v.8h-.8zM141.3 58.6h.8v.8h-.8zM82.4 51.4h.8v.8h-.8zM201.2 51.8h.8v.8h-.8zM55.1 42.7h.8v.8h-.8zM105.9 48.6h.8v.8h-.8zM19.2 48.1h.8v.8h-.8zM137.5 47.8h.8v.8h-.8zM185.2 53.7h.8v.8h-.8zM131.5 51.4h.8v.8h-.8zM126.6 48.3h.8v.8h-.8zM165.0 51.7h.8v.8h-.8zM144.4 55.2h.8v.8h-.8zM88.7 52.0h.8v.8h-.8zM128.5 47.0h.8v.8h-.8zM31.0 46.4h.8v.8h-.8zM136.7 50.2h.8v.8h-.8zM139.6 58.5h.8v.8h-.8zM119.7 43.7h.8v.8h-.8zM109.0 42.2h.8v.8h-.8zM86.9 42.2h.8v.8h-.8zM129.6 48.9h.8v.8h-.8zM81.1 46.8h.8v.8h-.8zM232.1 49.7h.8v.8h-.8zM33.7 45.5h.8v.8h-.8zM212.9 46.5h.8v.8h-.8zM234.8 43.8h.8v.8h-.8zM211.4 47.0h.8v.8h-.8zM74.7 49.0h.8v.8h-.8zM125.4 46.6h.8v.8h-.8zM50.1 48.2h.8v.8h-.8zM152.4 51.7h.8v.8h-.8zM235.6 46.8h.8v.8h-.8zM153.9 56.2h.8v.8h-.8zM188.5 54.3h.8v.8h-.8zM78.5 48.2h.8v.8h-.8zM78.0 48.1h.8v.8h-.8zM200.9 45.0h.8v.8h-.8zM53.4 46.3h.8v.8h-.8zM122.2 46.4h.8v.8h-.8zM156.3 52.9h.8v.8h-.8zM129.9 51.7h.8v.8h-.8zM102.4 48.2h.8v.8h-.8zM36.2 50.7h.8v.8h-.8zM32.8 52.0h.8v.8h-.8zM31.3 49.8h.8v.8h-.8zM196.6 51.1h.8v.8h-.8zM148.5 53.9h.8v.8h-.8zM11.3 47.4h.8v.8h-.8zM184.6 51.8h.8v.8h-.8zM89.3 52.0h.8v.8h-.8zM47.1 48.2h.8v.8h-.8zM215.0 49.5h.8v.8h-.8zM141.5 51.9h.8v.8h-.8zM96.6 50.6h.8v.8h-.8zM20.9 51.0h.8v.8h-.8zM227.8 46.1h.8v.8h-.8zM108.9 46.9h.8v.8h-.8zM18.5 47.0h.8v.8h-.8zM221.2 49.7h.8v.8h-.8zM213.9 46.5h.8v.8h-.8zM194.9 47.1h.8v.8h-.8zM227.9 51.6h.8v.8h-.8zM121.7 50.1h.8v.8h-.8zM97.5 47.7h.8v.8h-.8zM172.6 54.0h.8v.8h-.8zM208.5 50.5h.8v.8h-.8zM119.1 48.8h.8v.8h-.8zM48.1 46.4h.8v.8h-.8zM90.3 51.0h.8v.8h-.8zM74.9 54.7h.8v.8h-.8zM136.8 50.7h.8v.8h-.8zM96.5 50.4h.8v.8h-.8zM100.6 49.5h.8v.8h-.8zM197.2 48.8h.8v.8h-.8zM88.7 48.4h.8v.8h-.8zM73.2 50.0h.8v.8h-.8zM62.6 52.0h.8v.8h-.8zM86.4 49.1h.8v.8h-.8zM44.0 48.0h.8v.8h-.8zM70.0 47.2h.8v.8h-.8zM199.3 50.3h.8v.8h-.8zM199.6 50.3h.8v.8h-.8zM192.4 54.9h.8v.8h-.8zM173.6 55.6h.8v.8h-.8zM94.6 50.0h.8v.8h-.8zM225.8 47.8h.8v.8h-.8zM123.8 48.7h.8v.8h-.8zM38.3 51.1h.8v.8h-.8zM169.9 53.2h.8v.8h-.8zM142.7 59.2h.8v.8h-.8zM92.5 48.4h.8v.8h-.8zM57.0 51.9h.8v.8h-.8zM207.8 50.5h.8v.8h-.8zM132.4 50.5h.8v.8h-.8zM70.2 48.6h.8v.8h-.8zM158.7 51.1h.8v.8h-.8zM138.2 52.6h.8v.8h-.8zM28.1 50.7h.8v.8h-.8zM48.9 49.7h.8v.8h-.8zM159.9 51.8h.8v.8h-.8zM33.3 46.0h.8v.8h-.8zM122.8 47.4h.8v.8h-.8zM76.3 50.4h.8v.8h-.8zM60.2 49.2h.8v.8h-.8zM37.2 47.9h.8v.8h-.8zM100.6 46.2h.8v.8h-.8zM216.2 49.1h.8v.8h-.8zM205.3 43.0h.8v.8h-.8zM38.6 48.2h.8v.8h-.8zM163.8 54.2h.8v.8h-.8zM160.1 52.0h.8v.8h-.8zM159.1 55.8h.8v.8h-.8zM168.2 53.6h.8v.8h-.8zM88.9 53.3h.8v.8h-.8zM152.1 54.1h.8v.8h-.8zM217.0 49.5h.8v.8h-.8zM176.2 53.4h.8v.8h-.8zM17.5 47.6h.8v.8h-.8zM45.4 49.0h.8v.8h-.8zM95.4 50.4h.8v.8h-.8zM17.4 46.9h.8v.8h-.8zM49.5 51.7h.8v.8h-.8zM200.3 44.6h.8v.8h-.8zM66.6 46.5h.8v.8h-.8zM107.8 47.3h.8v.8h-.8zM8.6 46.1h.8v.8h-.8zM199.1 48.7h.8v.8h-.8zM18.2 46.2h.8v.8h-.8zM203.7 47.7h.8v.8h-.8zM64.3 47.8h.8v.8h-.8zM33.8 48.8h.8v.8h-.8zM217.5 46.6h.8v.8h-.8zM179.7 57.0h.8v.8h-.8zM98.4 50.4h.8v.8h-.8zM179.3 54.6h.8v.8h-.8zM29.0 46.4h.8v.8h-.8zM224.7 43.0h.8v.8h-.8zM166.5 56.4h.8v.8h-.8zM177.2 55.4h.8v.8h-.8zM111.9 45.1h.8v.8h-.8zM20.8 47.4h.8v.8h-.8zM125.4 45.7h.8v.8h-.8zM220.6 51.4h.8v.8h-.8zM18.4 51.5h.8v.8h-.8zM169.0 54.3h.8v.8h-.8zM133.3 46.4h.8v.8h-.8zM230.0 46.2h.8v.8h-.8zM65.5 45.8h.8v.8h-.8zM22.0 46.6h.8v.8h-.8zM54.4 50.4h.8v.8h-.8zM79.4 51.0h.8v.8h-.8zM161.6 56.7h.8v.8h-.8zM62.8 48.5h.8v.8h-.8zM110.1 51.4h.8v.8h-.8zM222.3 47.0h.8v.8h-.8zM210.6 50.1h.8v.8h-.8zM40.8 46.1h.8v.8h-.8zM194.8 47.4h.8v.8h-.8zM133.7 48.4h.8v.8h-.8zM160.8 52.0h.8v.8h-.8zM145.3 49.3h.8v.8h-.8zM198.4 49.4h.8v.8h-.8zM34.6 47.7h.8v.8h-.8zM55.6 50.7h.8v.8h-.8zM22.2 48.0h.8v.8h-.8zM168.8 55.3h.8v.8h-.8zM110.8 50.0h.8v.8h-.8zM115.5 49.8h.8v.8h-.8zM91.4 48.8h.8v.8h-.8zM10.9 49.2h.8v.8h-.8zM235.2 48.3h.8v.8h-.8zM172.3 52.5h.8v.8h-.8zM232.5 47.2h.8v.8h-.8zM120.2 47.8h.8v.8h-.8zM107.7 49.5h.8v.8h-.8zM10.3 51.3h.8v.8h-.8zM218.6 46.1h.8v.8h-.8zM222.2 45.4h.8v.8h-.8zM157.6 53.6h.8v.8h-.8zM40.1 50.3h.8v.8h-.8zM14.7 49.1h.8v.8h-.8zM76.1 43.4h.8v.8h-.8zM50.9 45.0h.8v.8h-.8zM220.2 44.5h.8v.8h-.8zM46.9 49.4h.8v.8h-.8zM178.1 48.8h.8v.8h-.8zM83.1 50.2h.8v.8h-.8zM81.6 52.8h.8v.8h-.8zM92.6 45.9h.8v.8h-.8zM198.5 47.5h.8v.8h-.8zM63.1 51.6h.8v.8h-.8zM152.0 54.5h.8v.8h-.8zM195.8 46.7h.8v.8h-.8zM224.4 42.9h.8v.8h-.8zM121.4 46.8h.8v.8h-.8zM76.9 48.3h.8v.8h-.8zM141.2 57.1h.8v.8h-.8zM45.8 50.2h.8v.8h-.8zM109.7 49.4h.8v.8h-.8zM17.5 48.1h.8v.8h-.8zM108.9 49.8h.8v.8h-.8zM9.0 52.2h.8v.8h-.8zM200.6 51.1h.8v.8h-.8zM105.7 44.7h.8v.8h-.8zM73.2 46.7h.8v.8h-.8zM104.7 45.6h.8v.8h-.8zM85.8 44.7h.8v.8h-.8zM197.2 49.7h.8v.8h-.8zM215.1 49.4h.8v.8h-.8zM109.7 50.2h.8v.8h-.8zM137.2 47.3h.8v.8h-.8zM27.8 49.7h.8v.8h-.8zM82.4 41.6h.8v.8h-.8zM216.1 50.0h.8v.8h-.8zM206.2 54.9h.8v.8h-.8zM150.1 52.5h.8v.8h-.8zM193.8 57.2h.8v.8h-.8zM147.7 55.0h.8v.8h-.8zM76.3 42.5h.8v.8h-.8zM118.3 45.5h.8v.8h-.8zM156.4 52.9h.8v.8h-.8zM210.7 50.6h.8v.8h-.8zM14.8 49.8h.8v.8h-.8zM110.7 51.9h.8v.8h-.8zM27.9 47.0h.8v.8h-.8zM141.2 51.5h.8v.8h-.8zM103.6 45.0h.8v.8h-.8zM99.0 47.7h.8v.8h-.8zM34.5 50.6h.8v.8h-.8zM133.7 53.3h.8v.8h-.8zM34.1 49.6h.8v.8h-.8zM30.1 46.8h.8v.8h-.8zM129.7 48.3h.8v.8h-.8zM135.0 51.3h.8v.8h-.8zM60.2 47.2h.8v.8h-.8zM125.7 47.7h.8v.8h-.8zM142.9 55.9h.8v.8h-.8zM25.2 49.6h.8v.8h-.8zM108.9 50.5h.8v.8h-.8zM171.8 51.1h.8v.8h-.8zM181.4 59.6h.8v.8h-.8zM173.4 58.8h.8v.8h-.8zM31.7 49.6h.8v.8h-.8zM47.5 46.0h.8v.8h-.8zM227.9 44.2h.8v.8h-.8zM39.7 46.6h.8v.8h-.8zM185.8 55.4h.8v.8h-.8zM93.5 49.0h.8v.8h-.8zM11.9 46.8h.8v.8h-.8zM77.0 47.3h.8v.8h-.8zM170.1 48.7h.8v.8h-.8zM150.4 56.0h.8v.8h-.8zM207.8 42.9h.8v.8h-.8zM207.5 46.1h.8v.8h-.8zM46.8 48.2h.8v.8h-.8zM183.0 51.2h.8v.8h-.8zM164.0 54.2h.8v.8h-.8zM93.7 47.1h.8v.8h-.8zM176.9 57.5h.8v.8h-.8zM18.3 47.0h.8v.8h-.8zM146.4 56.3h.8v.8h-.8zM192.0 55.5h.8v.8h-.8zM34.2 51.8h.8v.8h-.8zM66.6 46.5h.8v.8h-.8zM52.6 43.6h.8v.8h-.8zM141.3 55.2h.8v.8h-.8zM34.4 49.5h.8v.8h-.8zM191.4 53.8h.8v.8h-.8zM50.8 46.3h.8v.8h-.8zM165.5 52.9h.8v.8h-.8zM95.5 51.6h.8v.8h-.8zM131.5 52.5h.8v.8h-.8zM166.0 55.9h.8v.8h-.8zM11.6 42.4h.8v.8h-.8zM86.7 50.1h.8v.8h-.8zM208.0 50.8h.8v.8h-.8zM191.4 55.2h.8v.8h-.8zM195.5 48.7h.8v.8h-.8zM163.7 51.3h.8v.8h-.8zM44.6 50.1h.8v.8h-.8zM201.6 44.2h.8v.8h-.8zM148.0 56.9h.8v.8h-.8zM25.7 47.4h.8v.8h-.8zM212.8 49.9h.8v.8h-.8zM143.1 55.1h.8v.8h-.8zM90.9 48.7h.8v.8h-.8zM115.3 46.0h.8v.8h-.8zM89.3 47.1h.8v.8h-.8zM9.8 46.2h.8v.8h-.8zM13.1 47.2h.8v.8h-.8zM113.4 49.1h.8v.8h-.8zM41.7 48.2h.8v.8h-.8zM161.8 53.3h.8v.8h-.8zM122.7 50.4h.8v.8h-.8zM68.3 45.4h.8v.8h-.8zM227.2 47.0h.8v.8h-.8zM235.2 51.6h.8v.8h-.8zM184.6 54.3h.8v.8h-.8zM207.8 48.9h.8v.8h-.8zM153.5 50.0h.8v.8h-.8zM91.4 47.4h.8v.8h-.8zM207.9 52.8h.8v.8h-.8zM223.0 47.4h.8v.8h-.8zM182.9 51.6h.8v.8h-.8zM177.5 49.9h.8v.8h-.8zM88.5 48.1h.8v.8h-.8zM134.3 47.5h.8v.8h-.8zM85.5 48.8h.8v.8h-.8zM82.3 51.3h.8v.8h-.8zM92.4 48.1h.8v.8h-.8zM64.0 48.5h.8v.8h-.8zM39.4 50.7h.8v.8h-.8zM10.1 50.3h.8v.8h-.8zM110.2 46.2h.8v.8h-.8zM138.4 53.1h.8v.8h-.8zM23.6 49.8h.8v.8h-.8zM77.3 46.8h.8v.8h-.8zM134.4 52.2h.8v.8h-.8zM222.7 45.1h.8v.8h-.8zM141.8 58.5h.8v.8h-.8zM26.7 49.8h.8v.8h-.8zM234.1 51.4h.8v.8h-.8zM90.0 48.7h.8v.8h-.8zM206.9 45.6h.8v.8h-.8zM23.9 42.8h.8v.8h-.8zM71.5 48.8h.8v.8h-.8zM67.3 49.8h.8v.8h-.8zM69.7 48.5h.8v.8h-.8zM169.4 54.1h.8v.8h-.8zM54.2 50.9h.8v.8h-.8zM146.2 56.1h.8v.8h-.8zM53.4 45.5h.8v.8h-.8zM176.2 57.0h.8v.8h-.8zM26.5 47.5h.8v.8h-.8zM193.4 55.3h.8v.8h-.8zM39.6 46.6h.8v.8h-.8zM51.4 43.1h.8v.8h-.8zM154.7 52.4h.8v.8h-.8zM219.4 48.8h.8v.8h-.8zM179.7 55.8h.8v.8h-.8zM156.7 50.4h.8v.8h-.8zM85.6 50.5h.8v.8h-.8zM21.5 47.6h.8v.8h-.8zM151.6 54.0h.8v.8h-.8zM84.9 44.8h.8v.8h-.8zM67.2 48.4h.8v.8h-.8zM114.3 54.2h.8v.8h-.8zM137.4 48.8h.8v.8h-.8zM234.1 51.7h.8v.8h-.8zM173.9 54.8h.8v.8h-.8zM83.6 49.6h.8v.8h-.8zM41.0 49.1h.8v.8h-.8zM183.8 57.6h.8v.8h-.8zM105.2 50.9h.8v.8h-.8zM131.5 45.5h.8v.8h-.8zM158.7 51.9h.8v.8h-.8zM145.9 51.5h.8v.8h-.8zM67.3 52.0h.8v.8h-.8zM171.0 54.0h.8v.8h-.8zM79.1 43.8h.8v.8h-.8zM185.0 56.4h.8v.8h-.8zM72.0 47.9h.8v.8h-.8zM128.0 49.6h.8v.8h-.8zM10.5 47.8h.8v.8h-.8zM117.2 45.8h.8v.8h-.8zM91.3 44.6h.8v.8h-.8zM234.6 48.9h.8v.8h-.8zM29.0 52.6h.8v.8h-.8zM14.8 48.9h.8v.8h-.8zM123.1 49.0h.8v.8h-.8zM135.3 50.9h.8v.8h-.8zM92.0 53.9h.8v.8h-.8zM42.5 50.2h.8v.8h-.8zM219.0 52.1h.8v.8h-.8zM45.5 52.7h.8v.8h-.8zM63.9 49.1h.8v.8h-.8zM233.0 44.6h.8v.8h-.8zM87.1 48.3h.8v.8h-.8zM191.4 51.4h.8v.8h-.8zM214.9 48.9h.8v.8h-.8zM33.0 48.2h.8v.8h-.8zM156.0 52.6h.8v.8h-.8zM100.3 48.9h.8v.8h-.8zM137.4 47.6h.8v.8h-.8zM102.1 53.8h.8v.8h-.8zM151.8 50.6h.8v.8h-.8zM59.6 48.3h.8v.8h-.8zM107.6 50.3h.8v.8h-.8zM61.3 49.6h.8v.8h-.8zM155.3 57.8h.8v.8h-.8zM76.6 50.1h.8v.8h-.8zM138.6 53.5h.8v.8h-.8zM44.2 51.7h.8v.8h-.8zM69.5 44.3h.8v.8h-.8zM180.2 54.5h.8v.8h-.8zM84.2 46.4h.8v.8h-.8zM119.4 49.5h.8v.8h-.8zM164.5 52.6h.8v.8h-.8zM145.0 50.3h.8v.8h-.8zM210.2 49.3h.8v.8h-.8zM56.4 50.1h.8v.8h-.8zM186.7 52.0h.8v.8h-.8zM205.8 50.4h.8v.8h-.8zM235.8 53.0h.8v.8h-.8zM76.4 49.5h.8v.8h-.8zM231.1 48.5h.8v.8h-.8zM10.6 49.6h.8v.8h-.8zM176.7 52.8h.8v.8h-.8zM30.7 50.2h.8v.8h-.8zM29.0 51.7h.8v.8h-.8zM86.0 51.9h.8v.8h-.8zM210.0 46.3h.8v.8h-.8zM232.3 50.2h.8v.8h-.8zM189.5 54.0h.8v.8h-.8zM166.0 56.6h.8v.8h-.8zM61.4 49.0h.8v.8h-.8zM106.8 48.7h.8v.8h-.8zM234.9 48.6h.8v.8h-.8zM80.7 49.3h.8v.8h-.8zM119.8 47.4h.8v.8h-.8zM39.4 46.8h.8v.8h-.8zM165.1 54.3h.8v.8h-.8zM42.2 48.1h.8v.8h-.8zM34.1 45.2h.8v.8h-.8zM89.2 42.5h.8v.8h-.8zM88.3 48.4h.8v.8h-.8zM57.6 53.6h.8v.8h-.8zM175.6 52.5h.8v.8h-.8zM70.8 49.2h.8v.8h-.8zM24.2 50.1h.8v.8h-.8zM18.3 45.6h.8v.8h-.8zM135.6 48.2h.8v.8h-.8zM91.3 52.3h.8v.8h-.8zM157.7 53.9h.8v.8h-.8zM132.8 44.5h.8v.8h-.8zM233.0 47.1h.8v.8h-.8zM208.2 47.8h.8v.8h-.8zM81.2 45.7h.8v.8h-.8zM104.2 50.8h.8v.8h-.8zM96.5 47.9h.8v.8h-.8zM102.1 54.1h.8v.8h-.8zM9.6 55.6h.8v.8h-.8zM147.3 55.4h.8v.8h-.8zM148.1 52.7h.8v.8h-.8zM94.6 48.4h.8v.8h-.8zM35.0 50.0h.8v.8h-.8zM201.1 49.5h.8v.8h-.8zM19.7 42.7h.8v.8h-.8zM167.1 51.9h.8v.8h-.8zM133.9 51.6h.8v.8h-.8zM80.5 48.4h.8v.8h-.8zM179.0 53.6h.8v.8h-.8zM203.5 44.8h.8v.8h-.8zM235.8 48.1h.8v.8h-.8zM62.0 45.4h.8v.8h-.8zM95.0 45.2h.8v.8h-.8zM171.2 51.1h.8v.8h-.8zM148.5 55.6h.8v.8h-.8zM163.2 52.0h.8v.8h-.8zM132.5 51.6h.8v.8h-.8zM59.4 46.7h.8v.8h-.8zM216.1 47.0h.8v.8h-.8zM116.6 47.7h.8v.8h-.8zM117.4 45.2h.8v.8h-.8zM59.0 52.0h.8v.8h-.8zM129.3 52.9h.8v.8h-.8zM128.2 43.6h.8v.8h-.8zM63.0 47.5h.8v.8h-.8zM47.8 49.6h.8v.8h-.8zM154.8 51.0h.8v.8h-.8zM197.6 52.4h.8v.8h-.8zM18.3 45.1h.8v.8h-.8zM95.6 50.7h.8v.8h-.8zM36.5 44.1h.8v.8h-.8zM43.6 48.3h.8v.8h-.8zM89.9 49.5h.8v.8h-.8zM192.0 50.8h.8v.8h-.8zM28.5 47.9h.8v.8h-.8zM98.8 52.3h.8v.8h-.8zM111.1 48.2h.8v.8h-.8zM117.7 49.6h.8v.8h-.8zM42.7 44.1h.8v.8h-.8zM163.9 51.5h.8v.8h-.8zM62.7 50.6h.8v.8h-.8zM93.2 46.9h.8v.8h-.8zM12.5 50.4h.8v.8h-.8zM54.3 47.5h.8v.8h-.8zM49.2 47.9h.8v.8h-.8zM172.6 53.2h.8v.8h-.8zM63.7 50.6h.8v.8h-.8zM199.1 51.4h.8v.8h-.8zM204.7 50.3h.8v.8h-.8zM54.5 44.2h.8v.8h-.8zM149.6 55.7h.8v.8h-.8zM93.4 51.0h.8v.8h-.8zM92.3 49.1h.8v.8h-.8zM171.3 52.9h.8v.8h-.8zM156.6 56.2h.8v.8h-.8zM193.8 52.1h.8v.8h-.8zM140.7 55.7h.8v.8h-.8zM219.8 50.8h.8v.8h-.8zM171.1 60.1h.8v.8h-.8zM93.5 47.1h.8v.8h-.8zM24.6 46.3h.8v.8h-.8zM181.2 51.3h.8v.8h-.8zM121.9 50.5h.8v.8h-.8zM214.4 48.3h.8v.8h-.8zM143.9 53.0h.8v.8h-.8zM114.1 43.5h.8v.8h-.8zM103.2 49.5h.8v.8h-.8zM116.7 50.5h.8v.8h-.8zM120.7 46.5h.8v.8h-.8zM125.4 50.1h.8v.8h-.8zM177.7 50.1h.8v.8h-.8zM100.2 52.1h.8v.8h-.8zM135.0 49.3h.8v.8h-.8zM184.2 53.8h.8v.8h-.8zM58.9 47.0h.8v.8h-.8zM26.0 48.8h.8v.8h-.8zM28.6 47.2h.8v.8h-.8zM180.6 52.8h.8v.8h-.8zM164.1 53.3h.8v.8h-.8zM170.9 52.7h.8v.8h-.8zM166.4 53.7h.8v.8h-.8zM103.9 40.3h.8v.8h-.8zM195.1 43.7h.8v.8h-.8zM207.7 49.7h.8v.8h-.8zM126.9 50.2h.8v.8h-.8zM9.8 50.4h.8v.8h-.8zM68.4 48.2h.8v.8h-.8zM80.0 48.1h.8v.8h-.8zM135.4 53.4h.8v.8h-.8zM125.2 47.6h.8v.8h-.8zM78.0 48.7h.8v.8h-.8zM206.5 49.9h.8v.8h-.8zM67.2 43.4h.8v.8h-.8zM54.6 51.4h.8v.8h-.8zM93.9 49.3h.8v.8h-.8zM114.5 44.9h.8v.8h-.8zM92.0 48.5h.8v.8h-.8zM191.6 55.4h.8v.8h-.8zM135.5 53.9h.8v.8h-.8zM20.1 47.0h.8v.8h-.8zM101.9 51.3h.8v.8h-.8zM137.5 52.7h.8v.8h-.8zM190.4 55.5h.8v.8h-.8zM75.0 47.2h.8v.8h-.8zM143.8 49.1h.8v.8h-.8zM112.3 50.9h.8v.8h-.8zM209.1 47.2h.8v.8h-.8zM21.6 44.9h.8v.8h-.8zM19.6 49.8h.8v.8h-.8zM205.6 51.5h.8v.8h-.8zM49.6 49.8h.8v.8h-.8zM219.3 44.0h.8v.8h-.8zM122.3 46.6h.8v.8h-.8zM162.4 52.6h.8v.8h-.8zM56.6 46.4h.8v.8h-.8zM200.0 51.8h.8v.8h-.8zM55.7 52.9h.8v.8h-.8zM31.5 52.1h.8v.8h-.8zM225.8 50.9h.8v.8h-.8zM103.2 47.2h.8v.8h-.8zM215.5 46.6h.8v.8h-.8zM165.2 54.1h.8v.8h-.8zM167.4 54.3h.8v.8h-.8zM17.9 49.4h.8v.8h-.8zM61.6 46.4h.8v.8h-.8zM141.5 52.2h.8v.8h-.8zM43.6 51.3h.8v.8h-.8zM216.9 46.1h.8v.8h-.8zM43.1 52.8h.8v.8h-.8zM191.1 56.2h.8v.8h-.8zM15.9 48.0h.8v.8h-.8zM95.3 47.1h.8v.8h-.8zM133.2 46.9h.8v.8h-.8zM29.8 44.2h.8v.8h-.8zM106.7 49.2h.8v.8h-.8zM163.6 57.3h.8v.8h-.8zM36.3 51.5h.8v.8h-.8zM219.5 54.5h.8v.8h-.8zM128.7 48.2h.8v.8h-.8zM74.9 45.8h.8v.8h-.8zM121.9 51.8h.8v.8h-.8zM221.0 50.8h.8v.8h-.8zM205.9 50.0h.8v.8h-.8zM145.1 52.5h.8v.8h-.8zM40.3 48.0h.8v.8h-.8zM70.4 52.2h.8v.8h-.8zM60.3 45.2h.8v.8h-.8zM219.8 51.7h.8v.8h-.8zM229.5 49.0h.8v.8h-.8zM87.1 51.9h.8v.8h-.8zM19.8 47.0h.8v.8h-.8zM84.6 46.4h.8v.8h-.8zM178.1 54.2h.8v.8h-.8zM49.3 48.8h.8v.8h-.8zM24.3 46.2h.8v.8h-.8zM136.2 51.0h.8v.8h-.8zM188.5 55.5h.8v.8h-.8zM144.6 52.9h.8v.8h-.8zM125.8 48.5h.8v.8h-.8zM30.6 47.5h.8v.8h-.8zM140.5 52.5h.8v.8h-.8zM89.1 45.6h.8v.8h-.8zM45.9 51.0h.8v.8h-.8zM47.2 50.5h.8v.8h-.8zM200.9 47.5h.8v.8h-.8zM208.1 46.8h.8v.8h-.8zM29.9 48.5h.8v.8h-.8zM209.4 50.6h.8v.8h-.8zM130.9 50.3h.8v.8h-.8zM35.3 46.8h.8v.8h-.8zM130.8 48.6h.8v.8h-.8zM124.3 47.1h.8v.8h-.8zM100.7 49.6h.8v.8h-.8zM54.9 49.6h.8v.8h-.8zM207.6 49.7h.8v.8h-.8zM123.1 48.7h.8v.8h-.8zM224.0 48.0h.8v.8h-.8zM120.0 49.2h.8v.8h-.8zM165.9 50.3h.8v.8h-.8zM60.8 48.3h.8v.8h-.8zM68.8 46.8h.8v.8h-.8zM15.5 45.8h.8v.8h-.8zM75.1 50.3h.8v.8h-.8zM212.0 51.2h.8v.8h-.8zM61.9 50.0h.8v.8h-.8zM144.5 54.5h.8v.8h-.8zM22.6 44.3h.8v.8h-.8zM64.6 42.3h.8v.8h-.8zM17.8 44.0h.8v.8h-.8zM149.7 51.9h.8v.8h-.8zM86.6 43.8h.8v.8h-.8zM193.7 47.9h.8v.8h-.8zM10.9 49.7h.8v.8h-.8zM223.4 46.0h.8v.8h-.8zM28.5 49.7h.8v.8h-.8zM64.4 47.9h.8v.8h-.8zM43.0 44.4h.8v.8h-.8zM87.1 49.4h.8v.8h-.8zM58.6 49.6h.8v.8h-.8zM84.1 57.1h.8v.8h-.8zM189.4 52.3h.8v.8h-.8zM118.1 43.8h.8v.8h-.8zM216.0 48.4h.8v.8h-.8zM180.2 52.5h.8v.8h-.8zM151.3 52.3h.8v.8h-.8zM201.7 48.6h.8v.8h-.8zM172.4 52.5h.8v.8h-.8zM88.2 51.8h.8v.8h-.8zM162.2 59.4h.8v.8h-.8zM178.8 56.8h.8v.8h-.8zM222.6 52.0h.8v.8h-.8zM215.2 48.1h.8v.8h-.8zM191.8 48.7h.8v.8h-.8zM143.4 49.1h.8v.8h-.8zM187.7 55.5h.8v.8h-.8zM207.5 46.3h.8v.8h-.8zM129.9 54.6h.8v.8h-.8zM224.6 53.4h.8v.8h-.8zM188.4 58.1h.8v.8h-.8zM66.0 49.3h.8v.8h-.8zM53.7 46.7h.8v.8h-.8zM113.1 48.6h.8v.8h-.8zM216.0 51.3h.8v.8h-.8zM165.1 53.0h.8v.8h-.8zM187.6 51.1h.8v.8h-.8zM189.8 51.1h.8v.8h-.8zM197.2 42.6h.8v.8h-.8zM101.3 51.5h.8v.8h-.8zM199.6 50.3h.8v.8h-.8zM86.0 44.2h.8v.8h-.8zM189.7 50.8h.8v.8h-.8zM9.4 47.8h.8v.8h-.8zM33.7 48.3h.8v.8h-.8zM194.1 50.5h.8v.8h-.8zM113.0 50.0h.8v.8h-.8zM85.1 48.8h.8v.8h-.8zM201.5 50.7h.8v.8h-.8zM150.0 53.3h.8v.8h-.8zM70.4 49.4h.8v.8h-.8zM168.7 50.0h.8v.8h-.8zM192.9 55.0h.8v.8h-.8zM36.0 48.0h.8v.8h-.8zM196.5 47.6h.8v.8h-.8zM50.5 47.4h.8v.8h-.8zM91.2 54.8h.8v.8h-.8zM59.7 51.0h.8v.8h-.8zM212.7 46.0h.8v.8h-.8zM98.5 41.8h.8v.8h-.8zM124.2 48.3h.8v.8h-.8zM234.4 50.1h.8v.8h-.8zM45.5 52.8h.8v.8h-.8zM128.9 49.9h.8v.8h-.8zM224.4 48.3h.8v.8h-.8zM112.3 49.0h.8v.8h-.8zM88.9 46.5h.8v.8h-.8zM31.5 43.4h.8v.8h-.8zM125.9 46.6h.8v.8h-.8zM94.5 53.3h.8v.8h-.8zM160.7 51.2h.8v.8h-.8zM25.8 46.3h.8v.8h-.8zM227.4 46.3h.8v.8h-.8zM91.1 46.4h.8v.8h-.8zM94.3 45.2h.8v.8h-.8zM127.8 45.8h.8v.8h-.8zM122.3 43.2h.8v.8h-.8zM91.5 49.2h.8v.8h-.8zM199.2 48.2h.8v.8h-.8zM164.7 50.9h.8v.8h-.8zM180.1 52.6h.8v.8h-.8zM212.1 47.7h.8v.8h-.8zM16.4 44.0h.8v.8h-.8zM82.7 52.5h.8v.8h-.8zM212.2 53.2h.8v.8h-.8zM41.4 45.4h.8v.8h-.8zM19.1 46.5h.8v.8h-.8zM98.1 48.2h.8v.8h-.8zM72.6 44.6h.8v.8h-.8zM182.7 52.8h.8v.8h-.8zM104.6 51.5h.8v.8h-.8zM232.0 45.5h.8v.8h-.8zM163.0 49.8h.8v.8h-.8zM95.4 52.3h.8v.8h-.8zM166.3 52.7h.8v.8h-.8zM71.8 50.1h.8v.8h-.8zM197.2 51.2h.8v.8h-.8zM189.8 52.8h.8v.8h-.8zM126.4 49.5h.8v.8h-.8zM209.0 50.5h.8v.8h-.8zM47.4 51.9h.8v.8h-.8zM79.7 50.4h.8v.8h-.8zM95.9 49.0h.8v.8h-.8zM229.4 49.9h.8v.8h-.8zM79.1 47.9h.8v.8h-.8zM224.1 49.0h.8v.8h-.8zM108.6 50.5h.8v.8h-.8zM33.2 48.1h.8v.8h-.8zM96.5 50.9h.8v.8h-.8zM228.7 48.1h.8v.8h-.8zM216.1 50.0h.8v.8h-.8zM111.3 50.2h.8v.8h-.8zM186.4 50.4h.8v.8h-.8zM80.4 50.8h.8v.8h-.8zM115.9 51.9h.8v.8h-.8zM136.1 46.2h.8v.8h-.8zM71.4 44.5h.8v.8h-.8zM91.3 51.1h.8v.8h-.8zM74.3 46.7h.8v.8h-.8zM152.5 53.3h.8v.8h-.8zM17.8 52.8h.8v.8h-.8zM197.4 46.1h.8v.8h-.8zM223.3 47.3h.8v.8h-.8zM69.1 48.3h.8v.8h-.8zM133.8 49.3h.8v.8h-.8zM180.7 52.4h.8v.8h-.8zM193.1 51.2h.8v.8h-.8zM33.8 47.0h.8v.8h-.8zM229.5 51.8h.8v.8h-.8zM153.3 52.0h.8v.8h-.8zM98.6 44.1h.8v.8h-.8zM223.4 48.2h.8v.8h-.8zM98.1 45.9h.8v.8h-.8zM192.6 52.6h.8v.8h-.8zM207.7 49.7h.8v.8h-.8zM130.0 44.5h.8v.8h-.8zM214.5 47.8h.8v.8h-.8zM38.9 47.8h.8v.8h-.8zM102.9 49.1h.8v.8h-.8zM123.2 50.6h.8v.8h-.8zM140.5 50.5h.8v.8h-.8zM100.7 46.4h.8v.8h-.8zM201.5 47.4h.8v.8h-.8zM188.6 54.4h.8v.8h-.8zM161.9 52.3h.8v.8h-.8zM180.8 48.0h.8v.8h-.8zM213.9 48.3h.8v.8h-.8zM178.3 55.2h.8v.8h-.8zM209.3 44.9h.8v.8h-.8zM38.4 47.1h.8v.8h-.8zM148.4 49.7h.8v.8h-.8zM71.3 51.5h.8v.8h-.8zM196.8 49.8h.8v.8h-.8zM70.8 48.7h.8v.8h-.8zM29.9 50.1h.8v.8h-.8zM162.9 58.2h.8v.8h-.8zM90.6 47.6h.8v.8h-.8zM168.3 58.1h.8v.8h-.8zM82.7 50.5h.8v.8h-.8zM9.2 47.3h.8v.8h-.8zM71.3 47.3h.8v.8h-.8zM21.9 45.2h.8v.8h-.8zM193.0 54.7h.8v.8h-.8zM17.5 48.9h.8v.8h-.8zM59.7 47.2h.8v.8h-.8zM152.3 52.3h.8v.8h-.8zM138.3 55.6h.8v.8h-.8zM58.2 48.8h.8v.8h-.8zM200.3 46.6h.8v.8h-.8zM193.3 53.0h.8v.8h-.8zM186.3 53.5h.8v.8h-.8zM14.9 45.6h.8v.8h-.8zM22.8 48.2h.8v.8h-.8zM152.4 53.1h.8v.8h-.8zM99.9 44.9h.8v.8h-.8zM125.5 46.7h.8v.8h-.8zM206.7 47.3h.8v.8h-.8zM236.0 50.5h.8v.8h-.8zM83.7 42.0h.8v.8h-.8zM233.9 51.0h.8v.8h-.8zM39.0 49.6h.8v.8h-.8zM112.2 46.6h.8v.8h-.8zM112.3 44.6h.8v.8h-.8zM86.5 49.3h.8v.8h-.8zM73.0 50.8h.8v.8h-.8zM52.8 48.0h.8v.8h-.8zM108.7 45.2h.8v.8h-.8zM53.6 47.8h.8v.8h-.8zM69.1 46.7h.8v.8h-.8zM136.5 46.2h.8v.8h-.8zM179.3 46.9h.8v.8h-.8zM225.2 51.9h.8v.8h-.8zM172.9 51.6h.8v.8h-.8zM22.7 48.4h.8v.8h-.8zM205.8 48.7h.8v.8h-.8zM173.4 52.2h.8v.8h-.8zM89.6 46.8h.8v.8h-.8zM45.8 42.9h.8v.8h-.8zM78.3 42.4h.8v.8h-.8zM18.5 49.4h.8v.8h-.8zM213.9 50.5h.8v.8h-.8zM192.3 52.4h.8v.8h-.8zM32.8 48.6h.8v.8h-.8zM43.6 48.8h.8v.8h-.8zM234.8 45.4h.8v.8h-.8zM216.8 49.1h.8v.8h-.8zM196.3 45.5h.8v.8h-.8zM37.7 50.9h.8v.8h-.8zM124.5 50.4h.8v.8h-.8zM56.2 48.3h.8v.8h-.8zM216.2 48.8h.8v.8h-.8zM170.8 60.5h.8v.8h-.8zM108.2 45.8h.8v.8h-.8zM175.8 50.1h.8v.8h-.8zM200.7 51.5h.8v.8h-.8zM39.0 50.1h.8v.8h-.8zM142.2 53.7h.8v.8h-.8zM95.0 53.2h.8v.8h-.8zM188.1 53.9h.8v.8h-.8zM114.4 53.6h.8v.8h-.8zM130.5 49.8h.8v.8h-.8zM24.6 46.7h.8v.8h-.8zM210.8 51.6h.8v.8h-.8zM119.2 47.2h.8v.8h-.8zM64.0 46.9h.8v.8h-.8zM215.5 47.4h.8v.8h-.8zM143.6 54.4h.8v.8h-.8zM37.3 49.2h.8v.8h-.8zM142.3 56.3h.8v.8h-.8zM153.9 52.9h.8v.8h-.8zM23.8 45.6h.8v.8h-.8zM174.0 56.4h.8v.8h-.8zM99.9 49.3h.8v.8h-.8zM162.2 53.2h.8v.8h-.8zM156.9 51.7h.8v.8h-.8zM166.6 52.2h.8v.8h-.8zM216.2 48.6h.8v.8h-.8zM145.3 55.4h.8v.8h-.8zM234.0 49.0h.8v.8h-.8zM60.7 44.7h.8v.8h-.8zM196.7 51.2h.8v.8h-.8zM153.3 53.6h.8v.8h-.8zM29.8 47.6h.8v.8h-.8zM231.5 48.5h.8v.8h-.8zM19.5 47.6h.8v.8h-.8zM63.4 50.0h.8v.8h-.8zM162.0 52.8h.8v.8h-.8zM221.1 44.5h.8v.8h-.8zM68.5 43.8h.8v.8h-.8zM43.5 52.6h.8v.8h-.8zM32.1 48.8h.8v.8h-.8zM230.9 47.9h.8v.8h-.8zM192.9 52.0h.8v.8h-.8zM45.6 47.1h.8v.8h-.8zM188.3 53.5h.8v.8h-.8zM211.8 48.5h.8v.8h-.8zM203.0 48.2h.8v.8h-.8zM135.5 49.6h.8v.8h-.8zM150.1 50.8h.8v.8h-.8zM144.3 53.9h.8v.8h-.8zM20.8 47.3h.8v.8h-.8zM133.1 47.6h.8v.8h-.8zM10.1 50.8h.8v.8h-.8zM178.7 58.4h.8v.8h-.8zM193.9 54.3h.8v.8h-.8zM113.1 51.0h.8v.8h-.8zM55.8 50.9h.8v.8h-.8zM106.5 53.8h.8v.8h-.8zM133.2 52.9h.8v.8h-.8zM89.0 51.8h.8v.8h-.8zM202.6 50.6h.8v.8h-.8zM202.3 50.3h.8v.8h-.8zM77.6 49.8h.8v.8h-.8zM182.7 55.7h.8v.8h-.8zM232.1 51.1h.8v.8h-.8zM184.1 54.6h.8v.8h-.8zM34.4 48.3h.8v.8h-.8zM166.7 51.0h.8v.8h-.8zM112.6 46.5h.8v.8h-.8zM101.5 45.4h.8v.8h-.8zM217.9 45.9h.8v.8h-.8zM175.9 55.3h.8v.8h-.8zM199.8 42.8h.8v.8h-.8zM172.2 57.5h.8v.8h-.8zM202.7 49.1h.8v.8h-.8zM106.9 49.5h.8v.8h-.8zM223.9 47.2h.8v.8h-.8zM109.4 47.8h.8v.8h-.8zM77.1 46.4h.8v.8h-.8zM88.1 47.8h.8v.8h-.8zM109.6 49.3h.8v.8h-.8zM232.6 44.9h.8v.8h-.8zM182.7 48.6h.8v.8h-.8zM199.7 52.6h.8v.8h-.8zM71.1 48.1h.8v.8h-.8zM65.5 47.8h.8v.8h-.8zM61.2 48.6h.8v.8h-.8zM211.0 50.3h.8v.8h-.8zM184.5 52.5h.8v.8h-.8zM185.6 57.2h.8v.8h-.8zM130.0 45.3h.8v.8h-.8zM32.4 49.3h.8v.8h-.8zM151.7 51.6h.8v.8h-.8zM92.3 41.7h.8v.8h-.8zM45.2 46.7h.8v.8h-.8zM129.8 46.4h.8v.8h-.8zM222.8 45.7h.8v.8h-.8zM101.6 51.7h.8v.8h-.8zM229.6 46.2h.8v.8h-.8zM28.9 48.8h.8v.8h-.8zM215.6 50.4h.8v.8h-.8zM11.5 48.0h.8v.8h-.8zM234.6 52.4h.8v.8h-.8zM48.7 44.6h.8v.8h-.8zM166.3 55.1h.8v.8h-.8zM178.9 53.6h.8v.8h-.8zM67.2 46.3h.8v.8h-.8zM14.7 47.7h.8v.8h-.8zM67.7 46.6h.8v.8h-.8zM228.8 46.1h.8v.8h-.8zM158.4 50.9h.8v.8h-.8zM145.1 52.8h.8v.8h-.8zM23.0 46.2h.8v.8h-.8zM23.7 50.8h.8v.8h-.8zM40.9 48.5h.8v.8h-.8zM34.2 41.4h.8v.8h-.8zM165.6 53.9h.8v.8h-.8zM70.9 48.5h.8v.8h-.8zM31.3 46.7h.8v.8h-.8zM77.7 45.0h.8v.8h-.8zM110.1 50.5h.8v.8h-.8zM174.9 58.6h.8v.8h-.8zM86.7 51.7h.8v.8h-.8zM198.7 53.1h.8v.8h-.8zM60.1 49.2h.8v.8h-.8zM203.9 49.6h.8v.8h-.8zM71.9 44.6h.8v.8h-.8zM10.6 50.4h.8v.8h-.8zM44.5 53.5h.8v.8h-.8zM159.1 50.3h.8v.8h-.8zM49.7 46.3h.8v.8h-.8zM41.2 54.4h.8v.8h-.8zM96.0 52.5h.8v.8h-.8zM157.5 51.9h.8v.8h-.8zM23.2 47.5h.8v.8h-.8zM11.8 49.1h.8v.8h-.8zM228.6 47.2h.8v.8h-.8zM91.5 48.1h.8v.8h-.8zM188.5 52.2h.8v.8h-.8zM65.9 46.2h.8v.8h-.8zM33.9 50.7h.8v.8h-.8zM65.2 48.9h.8v.8h-.8zM95.4 46.3h.8v.8h-.8zM183.2 53.9h.8v.8h-.8zM58.5 50.0h.8v.8h-.8zM96.2 45.8h.8v.8h-.8zM116.3 51.1h.8v.8h-.8zM207.2 51.9h.8v.8h-.8zM199.6 49.5h.8v.8h-.8zM62.1 51.0h.8v.8h-.8zM34.9 48.8h.8v.8h-.8zM113.5 48.0h.8v.8h-.8zM35.3 47.2h.8v.8h-.8zM118.0 49.2h.8v.8h-.8zM109.0 50.0h.8v.8h-.8zM35.4 50.5h.8v.8h-.8zM115.7 49.3h.8v.8h-.8zM222.5 47.4h.8v.8h-.8zM59.2 48.0h.8v.8h-.8zM178.5 48.8h.8v.8h-.8zM228.4 46.3h.8v.8h-.8zM204.5 53.1h.8v.8h-.8zM128.4 52.3h.8v.8h-.8zM63.2 50.8h.8v.8h-.8zM57.0 52.9h.8v.8h-.8zM27.4 47.7h.8v.8h-.8zM113.8 54.2h.8v.8h-.8zM175.6 56.1h.8v.8h-.8zM81.1 49.6h.8v.8h-.8zM55.3 47.0h.8v.8h-.8zM35.8 46.2h.8v.8h-.8zM233.4 46.7h.8v.8h-.8zM10.9 48.5h.8v.8h-.8zM157.7 53.0h.8v.8h-.8zM115.9 48.2h.8v.8h-.8zM177.7 51.8h.8v.8h-.8zM122.5 47.9h.8v.8h-.8zM146.7 52.8h.8v.8h-.8zM192.1 52.4h.8v.8h-.8zM224.6 48.0h.8v.8h-.8zM92.5 43.2h.8v.8h-.8zM214.8 49.1h.8v.8h-.8zM145.1 55.3h.8v.8h-.8zM214.5 49.9h.8v.8h-.8zM16.6 49.2h.8v.8h-.8zM108.8 49.4h.8v.8h-.8zM179.6 54.9h.8v.8h-.8zM141.7 56.0h.8v.8h-.8zM163.6 52.6h.8v.8h-.8zM11.3 50.1h.8v.8h-.8zM117.5 47.7h.8v.8h-.8zM125.4 51.2h.8v.8h-.8zM235.1 47.3h.8v.8h-.8zM150.4 54.6h.8v.8h-.8zM54.6 53.1h.8v.8h-.8zM236.9 46.5h.8v.8h-.8zM228.1 48.8h.8v.8h-.8zM82.0 46.3h.8v.8h-.8zM161.3 54.9h.8v.8h-.8zM13.6 47.2h.8v.8h-.8zM197.7 49.4h.8v.8h-.8zM8.4 46.7h.8v.8h-.8zM112.2 47.0h.8v.8h-.8zM136.8 48.0h.8v.8h-.8zM63.4 46.9h.8v.8h-.8zM36.0 49.7h.8v.8h-.8zM39.7 47.9h.8v.8h-.8zM127.8 43.6h.8v.8h-.8zM21.4 45.6h.8v.8h-.8zM62.0 50.0h.8v.8h-.8zM111.8 51.3h.8v.8h-.8zM101.9 51.2h.8v.8h-.8zM205.0 45.8h.8v.8h-.8zM227.2 47.6h.8v.8h-.8zM101.6 54.5h.8v.8h-.8zM20.2 49.3h.8v.8h-.8zM12.4 47.7h.8v.8h-.8zM74.6 46.7h.8v.8h-.8zM207.4 54.9h.8v.8h-.8zM104.4 43.3h.8v.8h-.8zM192.9 52.7h.8v.8h-.8zM157.8 52.3h.8v.8h-.8zM64.1 48.2h.8v.8h-.8zM158.8 49.6h.8v.8h-.8zM213.9 45.9h.8v.8h-.8zM228.4 48.7h.8v.8h-.8zM213.6 49.3h.8v.8h-.8zM138.8 55.3h.8v.8h-.8zM66.8 51.9h.8v.8h-.8zM62.5 46.2h.8v.8h-.8zM163.3 56.0h.8v.8h-.8zM25.2 48.1h.8v.8h-.8zM116.2 44.7h.8v.8h-.8zM162.0 53.7h.8v.8h-.8zM117.1 48.0h.8v.8h-.8zM163.4 52.6h.8v.8h-.8zM49.6 44.7h.8v.8h-.8zM227.5 48.7h.8v.8h-.8zM106.8 46.5h.8v.8h-.8zM227.4 49.0h.8v.8h-.8zM228.2 50.9h.8v.8h-.8zM214.2 48.8h.8v.8h-.8zM90.6 52.5h.8v.8h-.8zM160.0 53.7h.8v.8h-.8zM59.3 46.9h.8v.8h-.8zM57.5 48.2h.8v.8h-.8zM39.5 49.0h.8v.8h-.8zM101.2 47.4h.8v.8h-.8zM141.5 54.1h.8v.8h-.8zM223.8 46.1h.8v.8h-.8zM169.4 52.5h.8v.8h-.8zM108.3 49.6h.8v.8h-.8zM12.4 51.0h.8v.8h-.8zM162.9 54.9h.8v.8h-.8zM228.4 50.4h.8v.8h-.8zM183.7 55.5h.8v.8h-.8zM153.5 50.4h.8v.8h-.8zM169.5 55.3h.8v.8h-.8zM183.6 53.2h.8v.8h-.8zM77.2 48.1h.8v.8h-.8zM145.8 58.4h.8v.8h-.8zM202.6 50.8h.8v.8h-.8zM53.7 45.9h.8v.8h-.8zM11.8 44.2h.8v.8h-.8zM70.7 47.4h.8v.8h-.8zM24.4 49.9h.8v.8h-.8zM167.5 53.6h.8v.8h-.8zM9.3 48.6h.8v.8h-.8zM171.0 55.6h.8v.8h-.8zM234.1 49.6h.8v.8h-.8zM222.1 48.5h.8v.8h-.8zM230.1 49.7h.8v.8h-.8zM127.8 50.2h.8v.8h-.8zM81.6 45.7h.8v.8h-.8zM67.5 49.8h.8v.8h-.8zM21.0 49.6h.8v.8h-.8zM29.3 49.1h.8v.8h-.8zM151.1 52.9h.8v.8h-.8zM189.4 51.7h.8v.8h-.8zM175.0 52.0h.8v.8h-.8zM51.5 50.8h.8v.8h-.8zM220.8 47.5h.8v.8h-.8zM43.6 48.0h.8v.8h-.8zM166.7 50.5h.8v.8h-.8zM60.8 51.0h.8v.8h-.8zM190.6 54.0h.8v.8h-.8zM142.4 52.5h.8v.8h-.8zM52.1 47.1h.8v.8h-.8zM189.3 49.1h.8v.8h-.8zM61.3 51.5h.8v.8h-.8zM137.6 55.7h.8v.8h-.8zM40.0 49.5h.8v.8h-.8zM33.1 51.5h.8v.8h-.8zM153.3 53.7h.8v.8h-.8zM105.2 50.3h.8v.8h-.8zM130.3 48.2h.8v.8h-.8zM174.0 53.0h.8v.8h-.8zM58.9 47.4h.8v.8h-.8zM166.4 57.2h.8v.8h-.8zM148.9 55.0h.8v.8h-.8zM79.5 47.3h.8v.8h-.8zM159.9 53.5h.8v.8h-.8zM60.1 49.8h.8v.8h-.8zM184.7 55.5h.8v.8h-.8zM227.6 44.6h.8v.8h-.8zM190.0 52.8h.8v.8h-.8zM173.3 55.7h.8v.8h-.8zM21.1 47.4h.8v.8h-.8zM19.6 47.6h.8v.8h-.8zM125.8 51.8h.8v.8h-.8zM208.9 53.2h.8v.8h-.8zM114.0 48.7h.8v.8h-.8zM124.3 49.5h.8v.8h-.8zM127.6 45.6h.8v.8h-.8zM129.4 51.4h.8v.8h-.8zM185.7 54.4h.8v.8h-.8zM96.9 48.9h.8v.8h-.8zM118.9 48.2h.8v.8h-.8zM59.1 52.2h.8v.8h-.8zM81.1 44.2h.8v.8h-.8zM184.5 54.2h.8v.8h-.8zM93.4 42.7h.8v.8h-.8zM221.9 50.3h.8v.8h-.8zM149.8 55.9h.8v.8h-.8zM154.0 55.4h.8v.8h-.8zM72.1 55.4h.8v.8h-.8zM216.3 50.0h.8v.8h-.8zM37.9 44.8h.8v.8h-.8zM77.0 49.1h.8v.8h-.8zM24.1 48.3h.8v.8h-.8zM108.4 43.8h.8v.8h-.8zM28.0 47.4h.8v.8h-.8zM228.7 49.0h.8v.8h-.8zM20.1 47.2h.8v.8h-.8zM39.3 52.6h.8v.8h-.8zM32.8 49.7h.8v.8h-.8zM130.0 49.0h.8v.8h-.8zM198.8 49.1h.8v.8h-.8zM183.3 55.0h.8v.8h-.8zM105.7 47.6h.8v.8h-.8zM63.9 49.4h.8v.8h-.8zM230.5 49.8h.8v.8h-.8zM177.7 55.0h.8v.8h-.8zM212.3 50.7h.8v.8h-.8zM227.0 46.6h.8v.8h-.8zM146.5 52.9h.8v.8h-.8zM172.1 56.4h.8v.8h-.8zM176.2 54.8h.8v.8h-.8zM227.5 49.5h.8v.8h-.8zM32.9 49.2h.8v.8h-.8zM65.1 46.1h.8v.8h-.8zM66.7 40.5h.8v.8h-.8zM42.4 49.8h.8v.8h-.8zM203.7 47.6h.8v.8h-.8zM178.6 55.0h.8v.8h-.8zM86.5 49.3h.8v.8h-.8zM196.2 50.8h.8v.8h-.8zM205.7 48.0h.8v.8h-.8zM182.9 53.4h.8v.8h-.8zM147.1 58.8h.8v.8h-.8zM83.2 44.5h.8v.8h-.8zM202.4 49.2h.8v.8h-.8zM92.0 46.4h.8v.8h-.8zM94.0 46.8h.8v.8h-.8zM33.6 50.3h.8v.8h-.8zM60.3 50.6h.8v.8h-.8zM153.7 52.2h.8v.8h-.8zM211.2 48.4h.8v.8h-.8zM218.6 46.4h.8v.8h-.8zM192.2 57.8h.8v.8h-.8zM181.0 53.4h.8v.8h-.8zM194.3 53.5h.8v.8h-.8zM95.4 52.1h.8v.8h-.8zM200.4 50.5h.8v.8h-.8zM85.3 50.7h.8v.8h-.8zM196.0 45.5h.8v.8h-.8zM202.2 52.4h.8v.8h-.8zM209.3 52.2h.8v.8h-.8zM178.5 58.3h.8v.8h-.8zM163.1 53.1h.8v.8h-.8zM207.3 47.6h.8v.8h-.8zM133.6 46.0h.8v.8h-.8zM187.4 54.3h.8v.8h-.8zM187.2 54.8h.8v.8h-.8zM86.2 47.0h.8v.8h-.8zM65.4 50.2h.8v.8h-.8zM14.3 49.7h.8v.8h-.8zM190.5 53.7h.8v.8h-.8zM23.9 49.3h.8v.8h-.8zM177.8 54.5h.8v.8h-.8zM100.3 51.0h.8v.8h-.8zM191.8 55.7h.8v.8h-.8zM152.9 53.0h.8v.8h-.8zM212.9 42.8h.8v.8h-.8zM176.1 54.6h.8v.8h-.8zM79.6 50.7h.8v.8h-.8zM32.6 45.9h.8v.8h-.8zM142.7 55.1h.8v.8h-.8zM119.0 45.5h.8v.8h-.8zM103.6 51.1h.8v.8h-.8zM55.9 45.7h.8v.8h-.8zM91.2 44.0h.8v.8h-.8zM167.5 58.6h.8v.8h-.8zM36.9 48.9h.8v.8h-.8zM143.5 53.2h.8v.8h-.8zM107.2 47.7h.8v.8h-.8zM29.5 45.6h.8v.8h-.8zM128.1 50.3h.8v.8h-.8zM89.9 44.2h.8v.8h-.8zM59.2 48.1h.8v.8h-.8zM58.5 43.6h.8v.8h-.8zM210.3 51.1h.8v.8h-.8zM95.4 48.2h.8v.8h-.8zM170.7 55.2h.8v.8h-.8zM77.4 47.6h.8v.8h-.8zM83.6 48.1h.8v.8h-.8zM133.4 46.6h.8v.8h-.8zM122.8 47.6h.8v.8h-.8zM227.1 47.0h.8v.8h-.8zM237.0 44.0h.8v.8h-.8zM50.3 46.6h.8v.8h-.8zM216.5 44.1h.8v.8h-.8zM206.9 46.9h.8v.8h-.8zM91.1 49.9h.8v.8h-.8zM13.8 47.5h.8v.8h-.8zM123.2 52.8h.8v.8h-.8zM226.7 45.0h.8v.8h-.8zM125.2 51.3h.8v.8h-.8zM41.2 46.9h.8v.8h-.8zM152.7 54.5h.8v.8h-.8zM146.0 51.0h.8v.8h-.8zM67.6 47.9h.8v.8h-.8zM125.7 51.0h.8v.8h-.8zM115.5 48.5h.8v.8h-.8zM86.2 48.5h.8v.8h-.8zM172.3 53.6h.8v.8h-.8zM66.8 46.4h.8v.8h-.8zM126.5 49.9h.8v.8h-.8zM215.1 51.5h.8v.8h-.8zM54.6 44.7h.8v.8h-.8zM179.7 51.5h.8v.8h-.8zM171.2 53.1h.8v.8h-.8zM200.0 46.3h.8v.8h-.8zM219.9 54.2h.8v.8h-.8zM109.6 50.3h.8v.8h-.8zM28.1 52.5h.8v.8h-.8zM163.3 55.6h.8v.8h-.8zM40.9 44.7h.8v.8h-.8zM236.5 49.2h.8v.8h-.8zM85.2 48.5h.8v.8h-.8zM53.9 46.4h.8v.8h-.8zM45.3 45.3h.8v.8h-.8zM77.7 50.2h.8v.8h-.8zM45.4 48.5h.8v.8h-.8zM52.5 49.4h.8v.8h-.8zM80.6 46.6h.8v.8h-.8zM118.1 48.3h.8v.8h-.8zM108.9 51.3h.8v.8h-.8zM224.4 47.8h.8v.8h-.8zM116.2 49.4h.8v.8h-.8zM41.5 51.6h.8v.8h-.8zM47.1 51.9h.8v.8h-.8zM229.5 50.1h.8v.8h-.8zM100.6 46.6h.8v.8h-.8zM88.9 50.5h.8v.8h-.8zM166.3 52.4h.8v.8h-.8zM206.0 49.2h.8v.8h-.8zM139.3 58.7h.8v.8h-.8zM174.9 53.8h.8v.8h-.8zM89.4 44.3h.8v.8h-.8zM100.2 44.0h.8v.8h-.8zM107.3 47.3h.8v.8h-.8zM159.9 56.8h.8v.8h-.8zM176.4 55.0h.8v.8h-.8zM92.0 47.8h.8v.8h-.8zM203.1 49.2h.8v.8h-.8zM163.2 50.2h.8v.8h-.8zM86.1 51.4h.8v.8h-.8zM100.4 47.2h.8v.8h-.8zM50.1 52.5h.8v.8h-.8zM191.4 57.3h.8v.8h-.8zM14.5 47.0h.8v.8h-.8zM121.7 51.0h.8v.8h-.8zM91.5 50.2h.8v.8h-.8zM130.0 46.8h.8v.8h-.8zM220.9 46.4h.8v.8h-.8zM84.4 46.0h.8v.8h-.8zM96.9 44.8h.8v.8h-.8zM68.0 45.4h.8v.8h-.8zM93.1 46.4h.8v.8h-.8zM217.1 49.9h.8v.8h-.8zM131.6 47.9h.8v.8h-.8zM196.2 50.6h.8v.8h-.8zM45.0 48.1h.8v.8h-.8zM52.6 47.8h.8v.8h-.8zM22.0 48.8h.8v.8h-.8zM60.5 46.9h.8v.8h-.8zM21.6 47.9h.8v.8h-.8zM173.0 57.8h.8v.8h-.8zM216.5 51.4h.8v.8h-.8zM219.2 47.2h.8v.8h-.8zM28.9 50.8h.8v.8h-.8zM52.5 47.0h.8v.8h-.8zM179.4 55.2h.8v.8h-.8zM29.7 46.3h.8v.8h-.8zM208.0 48.4h.8v.8h-.8zM231.7 44.8h.8v.8h-.8zM17.1 49.6h.8v.8h-.8zM13.4 48.8h.8v.8h-.8zM170.3 52.7h.8v.8h-.8zM45.4 47.4h.8v.8h-.8zM49.8 45.3h.8v.8h-.8zM230.0 45.8h.8v.8h-.8zM90.8 51.1h.8v.8h-.8zM97.8 47.9h.8v.8h-.8zM66.3 49.1h.8v.8h-.8zM235.8 55.3h.8v.8h-.8zM169.8 54.3h.8v.8h-.8zM43.2 49.8h.8v.8h-.8zM88.6 48.2h.8v.8h-.8zM129.6 47.4h.8v.8h-.8zM164.0 56.3h.8v.8h-.8zM189.2 54.2h.8v.8h-.8zM140.0 48.5h.8v.8h-.8zM145.8 55.2h.8v.8h-.8zM85.4 43.4h.8v.8h-.8zM204.9 52.1h.8v.8h-.8zM217.5 47.0h.8v.8h-.8zM48.4 47.8h.8v.8h-.8zM96.0 48.2h.8v.8h-.8zM191.8 53.4h.8v.8h-.8zM188.1 53.3h.8v.8h-.8zM190.8 53.6h.8v.8h-.8zM103.1 46.7h.8v.8h-.8zM174.9 50.6h.8v.8h-.8zM101.8 54.6h.8v.8h-.8zM220.8 46.7h.8v.8h-.8zM149.0 52.6h.8v.8h-.8zM69.9 50.6h.8v.8h-.8zM215.0 49.5h.8v.8h-.8zM196.1 43.9h.8v.8h-.8zM234.9 47.4h.8v.8h-.8zM181.6 51.5h.8v.8h-.8zM68.4 47.1h.8v.8h-.8zM204.5 47.3h.8v.8h-.8zM120.1 47.4h.8v.8h-.8zM27.4 54.1h.8v.8h-.8zM221.0 48.4h.8v.8h-.8zM182.4 52.1h.8v.8h-.8zM139.5 56.5h.8v.8h-.8zM106.1 46.4h.8v.8h-.8zM221.8 52.1h.8v.8h-.8zM31.9 50.6h.8v.8h-.8zM71.6 52.3h.8v.8h-.8zM109.4 51.7h.8v.8h-.8zM174.4 53.4h.8v.8h-.8zM156.7 57.8h.8v.8h-.8zM30.7 44.1h.8v.8h-.8zM57.4 48.5h.8v.8h-.8zM158.0 53.2h.8v.8h-.8zM218.7 50.8h.8v.8h-.8zM224.0 51.0h.8v.8h-.8zM139.1 53.6h.8v.8h-.8zM193.2 53.8h.8v.8h-.8zM205.8 45.4h.8v.8h-.8zM100.1 51.1h.8v.8h-.8zM35.5 47.4h.8v.8h-.8zM179.6 56.0h.8v.8h-.8zM20.6 51.4h.8v.8h-.8zM234.3 44.2h.8v.8h-.8zM38.4 47.2h.8v.8h-.8zM154.0 52.2h.8v.8h-.8zM194.7 49.7h.8v.8h-.8zM16.0 47.2h.8v.8h-.8zM203.0 48.5h.8v.8h-.8zM212.6 51.1h.8v.8h-.8zM115.6 48.9h.8v.8h-.8zM172.7 53.3h.8v.8h-.8zM221.6 45.9h.8v.8h-.8zM50.8 51.4h.8v.8h-.8zM35.9 51.9h.8v.8h-.8zM50.9 45.9h.8v.8h-.8zM45.8 48.3h.8v.8h-.8zM221.0 43.8h.8v.8h-.8zM65.6 49.0h.8v.8h-.8zM217.0 49.3h.8v.8h-.8zM148.5 59.2h.8v.8h-.8zM230.4 48.8h.8v.8h-.8zM130.2 44.7h.8v.8h-.8zM203.8 47.2h.8v.8h-.8zM217.3 48.7h.8v.8h-.8zM192.6 51.8h.8v.8h-.8zM61.4 44.4h.8v.8h-.8zM114.3 51.2h.8v.8h-.8zM219.5 42.3h.8v.8h-.8zM45.1 47.0h.8v.8h-.8zM101.0 45.3h.8v.8h-.8zM46.7 50.2h.8v.8h-.8zM121.1 50.5h.8v.8h-.8zM69.6 46.1h.8v.8h-.8zM182.6 56.0h.8v.8h-.8zM143.1 56.4h.8v.8h-.8zM92.5 52.9h.8v.8h-.8zM227.8 49.7h.8v.8h-.8zM141.5 53.4h.8v.8h-.8zM229.4 45.8h.8v.8h-.8zM80.1 50.5h.8v.8h-.8zM15.0 48.7h.8v.8h-.8zM73.4 49.6h.8v.8h-.8zM152.3 47.8h.8v.8h-.8zM165.1 51.2h.8v.8h-.8zM91.2 51.8h.8v.8h-.8zM132.6 47.1h.8v.8h-.8zM205.6 47.1h.8v.8h-.8zM146.7 51.4h.8v.8h-.8zM77.0 50.2h.8v.8h-.8zM230.8 47.9h.8v.8h-.8zM23.1 51.6h.8v.8h-.8zM55.4 48.5h.8v.8h-.8zM124.4 51.9h.8v.8h-.8zM161.3 56.9h.8v.8h-.8zM164.8 60.8h.8v.8h-.8zM163.4 50.0h.8v.8h-.8zM171.4 54.4h.8v.8h-.8zM105.9 48.3h.8v.8h-.8zM229.9 47.0h.8v.8h-.8zM10.4 51.4h.8v.8h-.8zM103.4 51.1h.8v.8h-.8zM196.8 46.3h.8v.8h-.8zM11.4 48.8h.8v.8h-.8zM198.7 49.9h.8v.8h-.8zM31.6 50.2h.8v.8h-.8zM209.7 47.5h.8v.8h-.8zM126.3 45.3h.8v.8h-.8zM101.0 54.4h.8v.8h-.8zM167.8 58.1h.8v.8h-.8zM232.7 50.3h.8v.8h-.8zM33.7 48.3h.8v.8h-.8zM42.2 46.2h.8v.8h-.8zM91.7 44.9h.8v.8h-.8zM235.6 42.8h.8v.8h-.8zM235.5 45.6h.8v.8h-.8zM45.2 45.7h.8v.8h-.8zM174.4 51.3h.8v.8h-.8zM214.2 47.5h.8v.8h-.8zM66.7 49.3h.8v.8h-.8zM42.5 49.5h.8v.8h-.8zM142.9 54.1h.8v.8h-.8zM123.3 46.8h.8v.8h-.8zM139.7 51.1h.8v.8h-.8zM132.7 47.3h.8v.8h-.8zM11.9 50.8h.8v.8h-.8zM62.5 49.3h.8v.8h-.8zM181.4 53.8h.8v.8h-.8zM63.6 53.1h.8v.8h-.8zM29.6 45.8h.8v.8h-.8zM85.1 48.7h.8v.8h-.8zM183.3 54.3h.8v.8h-.8zM199.2 52.1h.8v.8h-.8zM111.9 42.4h.8v.8h-.8zM146.5 53.5h.8v.8h-.8zM49.8 49.3h.8v.8h-.8zM84.2 48.8h.8v.8h-.8zM28.7 46.7h.8v.8h-.8zM78.9 46.1h.8v.8h-.8zM125.5 50.1h.8v.8h-.8zM43.8 47.5h.8v.8h-.8zM78.2 45.7h.8v.8h-.8zM169.8 58.7h.8v.8h-.8zM106.4 48.7h.8v.8h-.8zM36.4 49.0h.8v.8h-.8zM202.1 47.4h.8v.8h-.8zM151.3 52.4h.8v.8h-.8zM21.7 46.0h.8v.8h-.8zM31.8 48.2h.8v.8h-.8zM178.1 53.0h.8v.8h-.8zM46.8 45.3h.8v.8h-.8zM161.5 50.1h.8v.8h-.8zM29.3 49.9h.8v.8h-.8zM214.7 50.1h.8v.8h-.8zM99.5 48.3h.8v.8h-.8zM53.8 51.7h.8v.8h-.8zM235.6 50.4h.8v.8h-.8zM85.0 47.9h.8v.8h-.8zM59.3 52.2h.8v.8h-.8zM100.0 47.3h.8v.8h-.8zM44.0 45.7h.8v.8h-.8zM24.5 40.6h.8v.8h-.8zM218.7 46.2h.8v.8h-.8zM31.2 45.3h.8v.8h-.8zM52.8 48.3h.8v.8h-.8zM161.5 48.9h.8v.8h-.8zM75.1 48.4h.8v.8h-.8zM221.9 49.5h.8v.8h-.8zM40.7 45.6h.8v.8h-.8zM119.0 51.1h.8v.8h-.8zM167.8 56.4h.8v.8h-.8zM140.6 54.4h.8v.8h-.8zM171.9 53.5h.8v.8h-.8zM191.5 55.3h.8v.8h-.8zM20.7 49.8h.8v.8h-.8zM141.7 53.2h.8v.8h-.8zM167.4 51.2h.8v.8h-.8zM92.2 47.8h.8v.8h-.8zM232.0 46.3h.8v.8h-.8zM108.5 49.4h.8v.8h-.8zM174.4 53.6h.8v.8h-.8zM206.1 47.3h.8v.8h-.8zM207.8 47.2h.8v.8h-.8zM172.3 55.5h.8v.8h-.8zM161.9 55.3h.8v.8h-.8zM9.2 50.6h.8v.8h-.8zM208.3 48.9h.8v.8h-.8zM236.2 45.9h.8v.8h-.8zM188.1 58.8h.8v.8h-.8zM206.2 42.5h.8v.8h-.8zM155.6 50.0h.8v.8h-.8zM225.1 46.7h.8v.8h-.8zM127.0 47.6h.8v.8h-.8zM118.8 47.0h.8v.8h-.8zM125.1 50.4h.8v.8h-.8zM142.8 54.0h.8v.8h-.8zM123.4 50.4h.8v.8h-.8zM123.6 44.9h.8v.8h-.8zM50.8 50.2h.8v.8h-.8zM130.0 47.6h.8v.8h-.8zM169.3 58.0h.8v.8h-.8zM186.9 51.6h.8v.8h-.8zM220.0 48.1h.8v.8h-.8zM125.2 46.8h.8v.8h-.8zM100.3 49.8h.8v.8h-.8zM170.4 54.8h.8v.8h-.8zM175.5 50.9h.8v.8h-.8zM57.1 46.0h.8v.8h-.8zM78.4 49.0h.8v.8h-.8zM90.6 48.4h.8v.8h-.8zM55.8 44.1h.8v.8h-.8zM61.8 49.1h.8v.8h-.8zM163.0 49.9h.8v.8h-.8zM153.6 52.9h.8v.8h-.8zM22.3 46.4h.8v.8h-.8zM90.8 54.8h.8v.8h-.8zM128.4 49.6h.8v.8h-.8zM161.6 58.2h.8v.8h-.8zM60.8 47.3h.8v.8h-.8zM85.4 51.9h.8v.8h-.8zM176.9 56.5h.8v.8h-.8zM119.9 46.9h.8v.8h-.8zM119.8 49.8h.8v.8h-.8zM171.2 57.6h.8v.8h-.8zM206.7 45.2h.8v.8h-.8zM108.8 46.3h.8v.8h-.8zM231.1 49.4h.8v.8h-.8zM50.3 49.5h.8v.8h-.8zM219.2 50.1h.8v.8h-.8zM203.3 45.8h.8v.8h-.8zM212.0 52.7h.8v.8h-.8zM106.1 49.9h.8v.8h-.8zM94.0 52.5h.8v.8h-.8zM35.7 50.6h.8v.8h-.8zM99.3 46.7h.8v.8h-.8zM144.5 53.6h.8v.8h-.8zM97.6 48.8h.8v.8h-.8zM95.1 50.8h.8v.8h-.8zM182.4 53.8h.8v.8h-.8zM84.5 46.7h.8v.8h-.8zM51.5 45.0h.8v.8h-.8zM13.1 46.7h.8v.8h-.8zM75.6 45.1h.8v.8h-.8zM54.2 51.8h.8v.8h-.8zM61.7 43.8h.8v.8h-.8zM142.4 51.6h.8v.8h-.8zM16.7 47.3h.8v.8h-.8zM82.8 46.1h.8v.8h-.8zM125.0 45.5h.8v.8h-.8zM36.4 48.8h.8v.8h-.8zM103.6 50.5h.8v.8h-.8zM91.4 49.4h.8v.8h-.8zM233.9 47.6h.8v.8h-.8zM63.4 49.5h.8v.8h-.8zM142.6 52.1h.8v.8h-.8zM94.6 52.8h.8v.8h-.8zM193.7 54.7h.8v.8h-.8zM69.9 48.8h.8v.8h-.8zM234.0 45.4h.8v.8h-.8zM20.8 46.9h.8v.8h-.8zM151.3 54.9h.8v.8h-.8zM186.2 55.4h.8v.8h-.8zM96.9 45.6h.8v.8h-.8zM191.2 55.2h.8v.8h-.8zM180.5 54.8h.8v.8h-.8zM109.1 49.4h.8v.8h-.8zM114.0 48.3h.8v.8h-.8zM57.0 49.5h.8v.8h-.8zM29.2 48.3h.8v.8h-.8zM92.7 45.5h.8v.8h-.8zM74.5 49.6h.8v.8h-.8zM168.9 46.3h.8v.8h-.8zM47.1 47.6h.8v.8h-.8zM125.1 45.8h.8v.8h-.8zM205.3 48.4h.8v.8h-.8zM56.3 50.1h.8v.8h-.8zM85.1 46.6h.8v.8h-.8zM148.9 51.6h.8v.8h-.8zM27.7 47.5h.8v.8h-.8zM226.8 47.4h.8v.8h-.8zM158.5 54.5h.8v.8h-.8zM130.0 47.2h.8v.8h-.8zM201.6 50.4h.8v.8h-.8zM85.8 42.6h.8v.8h-.8zM90.9 51.5h.8v.8h-.8zM100.3 50.3h.8v.8h-.8zM160.4 56.9h.8v.8h-.8zM110.4 46.7h.8v.8h-.8zM189.0 54.7h.8v.8h-.8zM112.9 49.5h.8v.8h-.8zM176.1 51.4h.8v.8h-.8zM15.0 49.6h.8v.8h-.8zM164.4 60.1h.8v.8h-.8zM162.9 50.7h.8v.8h-.8zM53.6 48.4h.8v.8h-.8zM47.9 45.9h.8v.8h-.8zM67.5 45.1h.8v.8h-.8zM155.7 55.9h.8v.8h-.8zM47.6 51.0h.8v.8h-.8zM124.9 47.0h.8v.8h-.8zM39.0 51.3h.8v.8h-.8zM118.9 47.3h.8v.8h-.8zM79.0 47.4h.8v.8h-.8zM163.5 50.1h.8v.8h-.8zM186.7 52.6h.8v.8h-.8zM139.0 54.1h.8v.8h-.8zM198.2 51.1h.8v.8h-.8zM137.9 53.6h.8v.8h-.8zM110.9 45.8h.8v.8h-.8zM230.1 50.0h.8v.8h-.8zM32.7 44.9h.8v.8h-.8zM148.3 59.5h.8v.8h-.8zM230.6 49.6h.8v.8h-.8zM174.8 53.0h.8v.8h-.8zM48.9 53.3h.8v.8h-.8zM197.7 47.8h.8v.8h-.8zM211.9 48.2h.8v.8h-.8zM109.0 50.2h.8v.8h-.8zM130.2 44.8h.8v.8h-.8zM205.6 49.9h.8v.8h-.8zM85.9 53.6h.8v.8h-.8zM14.4 47.8h.8v.8h-.8zM24.9 49.1h.8v.8h-.8zM151.1 54.7h.8v.8h-.8zM75.3 49.4h.8v.8h-.8zM72.1 53.2h.8v.8h-.8zM207.3 45.6h.8v.8h-.8zM234.7 44.0h.8v.8h-.8zM72.6 50.0h.8v.8h-.8zM220.2 49.9h.8v.8h-.8zM60.4 44.4h.8v.8h-.8zM29.3 51.2h.8v.8h-.8zM148.4 52.1h.8v.8h-.8zM205.4 50.8h.8v.8h-.8zM114.5 51.5h.8v.8h-.8zM188.1 51.9h.8v.8h-.8zM227.0 48.8h.8v.8h-.8zM72.7 48.1h.8v.8h-.8zM65.0 43.4h.8v.8h-.8zM167.3 52.1h.8v.8h-.8zM58.1 49.4h.8v.8h-.8zM226.5 46.2h.8v.8h-.8zM123.0 50.6h.8v.8h-.8zM14.5 48.4h.8v.8h-.8zM208.6 44.0h.8v.8h-.8zM90.0 48.9h.8v.8h-.8zM175.8 55.9h.8v.8h-.8zM158.8 51.0h.8v.8h-.8zM43.6 50.1h.8v.8h-.8zM218.4 45.3h.8v.8h-.8zM188.3 54.1h.8v.8h-.8zM53.6 47.9h.8v.8h-.8zM194.1 51.2h.8v.8h-.8zM30.0 47.7h.8v.8h-.8zM118.7 51.9h.8v.8h-.8zM94.6 46.7h.8v.8h-.8zM108.4 47.4h.8v.8h-.8zM8.8 48.9h.8v.8h-.8zM198.3 46.4h.8v.8h-.8zM134.6 45.4h.8v.8h-.8zM37.1 46.1h.8v.8h-.8zM186.1 52.2h.8v.8h-.8zM188.2 58.6h.8v.8h-.8zM163.4 54.7h.8v.8h-.8zM162.3 51.0h.8v.8h-.8zM226.2 48.7h.8v.8h-.8zM102.6 49.4h.8v.8h-.8zM124.9 49.4h.8v.8h-.8zM206.5 49.8h.8v.8h-.8zM97.1 49.3h.8v.8h-.8zM140.4 54.9h.8v.8h-.8zM51.8 45.1h.8v.8h-.8zM108.9 48.8h.8v.8h-.8zM123.5 48.5h.8v.8h-.8zM221.0 47.9h.8v.8h-.8zM53.9 52.6h.8v.8h-.8zM138.7 54.7h.8v.8h-.8zM131.4 49.2h.8v.8h-.8zM78.4 52.7h.8v.8h-.8zM174.6 54.1h.8v.8h-.8zM156.6 57.0h.8v.8h-.8zM93.4 47.4h.8v.8h-.8zM155.5 53.7h.8v.8h-.8zM166.4 55.5h.8v.8h-.8zM176.0 56.3h.8v.8h-.8zM31.5 51.1h.8v.8h-.8zM19.9 43.8h.8v.8h-.8zM65.2 50.0h.8v.8h-.8zM28.1 49.3h.8v.8h-.8zM120.3 48.3h.8v.8h-.8zM113.9 50.5h.8v.8h-.8zM93.3 49.3h.8v.8h-.8zM34.5 44.3h.8v.8h-.8zM59.5 50.6h.8v.8h-.8zM33.1 48.4h.8v.8h-.8zM167.8 55.2h.8v.8h-.8zM56.2 39.9h.8v.8h-.8zM16.8 48.4h.8v.8h-.8zM221.2 45.6h.8v.8h-.8zM98.1 47.9h.8v.8h-.8zM225.1 49.2h.8v.8h-.8zM125.5 45.7h.8v.8h-.8zM184.1 54.6h.8v.8h-.8zM198.3 46.7h.8v.8h-.8zM101.3 48.5h.8v.8h-.8zM212.2 45.1h.8v.8h-.8zM136.3 50.4h.8v.8h-.8zM113.9 46.6h.8v.8h-.8zM135.8 47.4h.8v.8h-.8zM206.1 50.5h.8v.8h-.8zM209.7 49.5h.8v.8h-.8zM232.0 51.9h.8v.8h-.8zM152.9 53.9h.8v.8h-.8zM201.1 46.9h.8v.8h-.8zM77.0 48.6h.8v.8h-.8zM171.3 53.4h.8v.8h-.8zM155.3 51.9h.8v.8h-.8zM158.5 53.3h.8v.8h-.8zM109.4 47.8h.8v.8h-.8zM82.7 46.4h.8v.8h-.8zM37.7 46.9h.8v.8h-.8zM161.6 52.5h.8v.8h-.8zM78.3 52.8h.8v.8h-.8zM133.2 48.8h.8v.8h-.8zM175.5 52.4h.8v.8h-.8zM24.0 48.8h.8v.8h-.8zM173.9 53.4h.8v.8h-.8zM92.7 49.4h.8v.8h-.8zM123.0 50.7h.8v.8h-.8zM103.3 50.6h.8v.8h-.8zM77.0 50.5h.8v.8h-.8zM229.5 46.2h.8v.8h-.8zM60.5 50.2h.8v.8h-.8zM229.9 46.7h.8v.8h-.8zM198.7 51.7h.8v.8h-.8zM98.3 48.4h.8v.8h-.8zM33.4 46.2h.8v.8h-.8zM18.0 43.3h.8v.8h-.8zM54.8 50.0h.8v.8h-.8zM109.1 48.5h.8v.8h-.8zM43.3 46.2h.8v.8h-.8zM127.1 42.8h.8v.8h-.8zM213.5 51.1h.8v.8h-.8zM62.8 45.8h.8v.8h-.8zM16.1 47.3h.8v.8h-.8zM110.0 50.2h.8v.8h-.8zM142.4 52.5h.8v.8h-.8zM170.8 59.0h.8v.8h-.8zM33.4 50.6h.8v.8h-.8zM77.3 48.2h.8v.8h-.8zM94.2 47.8h.8v.8h-.8zM37.4 47.8h.8v.8h-.8zM42.9 48.4h.8v.8h-.8zM59.3 49.3h.8v.8h-.8zM52.9 48.9h.8v.8h-.8zM126.7 51.4h.8v.8h-.8zM103.7 52.0h.8v.8h-.8zM66.0 48.6h.8v.8h-.8zM19.1 53.3h.8v.8h-.8zM178.1 58.7h.8v.8h-.8zM101.7 51.9h.8v.8h-.8zM145.0 54.4h.8v.8h-.8zM23.0 47.4h.8v.8h-.8zM166.9 50.1h.8v.8h-.8zM71.9 46.1h.8v.8h-.8zM122.0 49.4h.8v.8h-.8zM72.8 50.9h.8v.8h-.8zM142.3 53.0h.8v.8h-.8zM155.3 55.6h.8v.8h-.8zM28.0 49.3h.8v.8h-.8zM60.7 45.4h.8v.8h-.8zM34.7 45.2h.8v.8h-.8zM172.9 53.4h.8v.8h-.8zM93.9 43.6h.8v.8h-.8zM71.0 51.2h.8v.8h-.8zM232.7 54.5h.8v.8h-.8zM224.0 43.4h.8v.8h-.8zM67.2 49.7h.8v.8h-.8zM55.0 45.0h.8v.8h-.8zM236.4 45.5h.8v.8h-.8zM136.0 44.5h.8v.8h-.8zM26.6 49.4h.8v.8h-.8zM67.6 47.1h.8v.8h-.8zM149.3 54.6h.8v.8h-.8zM171.5 56.3h.8v.8h-.8zM30.3 47.6h.8v.8h-.8zM117.1 47.3h.8v.8h-.8zM156.9 53.3h.8v.8h-.8zM52.1 47.6h.8v.8h-.8zM227.9 46.2h.8v.8h-.8zM94.0 50.0h.8v.8h-.8zM167.5 53.4h.8v.8h-.8zM100.4 44.5h.8v.8h-.8zM138.6 51.9h.8v.8h-.8zM225.4 48.1h.8v.8h-.8zM229.0 49.7h.8v.8h-.8zM114.8 40.3h.8v.8h-.8zM200.2 48.6h.8v.8h-.8zM171.8 57.9h.8v.8h-.8zM223.0 51.0h.8v.8h-.8zM69.6 43.7h.8v.8h-.8zM188.4 51.4h.8v.8h-.8zM92.6 48.6h.8v.8h-.8zM191.0 56.4h.8v.8h-.8zM161.4 49.4h.8v.8h-.8zM47.3 50.2h.8v.8h-.8zM56.9 51.1h.8v.8h-.8zM85.3 49.5h.8v.8h-.8zM172.3 54.5h.8v.8h-.8zM59.5 49.6h.8v.8h-.8zM202.4 46.4h.8v.8h-.8zM77.6 48.0h.8v.8h-.8zM11.2 50.9h.8v.8h-.8zM108.0 48.0h.8v.8h-.8zM205.3 48.6h.8v.8h-.8zM94.2 54.9h.8v.8h-.8zM60.6 48.3h.8v.8h-.8zM66.2 49.5h.8v.8h-.8zM170.7 53.8h.8v.8h-.8zM141.4 51.6h.8v.8h-.8zM73.9 48.3h.8v.8h-.8zM230.2 42.9h.8v.8h-.8zM211.1 53.9h.8v.8h-.8zM36.9 48.6h.8v.8h-.8zM170.9 53.2h.8v.8h-.8zM193.5 52.5h.8v.8h-.8zM194.2 50.5h.8v.8h-.8zM43.7 46.3h.8v.8h-.8zM99.6 47.8h.8v.8h-.8zM52.1 47.4h.8v.8h-.8zM186.5 50.3h.8v.8h-.8zM152.0 48.8h.8v.8h-.8zM194.1 50.2h.8v.8h-.8zM138.0 50.9h.8v.8h-.8zM93.2 53.6h.8v.8h-.8zM31.7 46.3h.8v.8h-.8zM221.3 51.8h.8v.8h-.8zM156.0 50.4h.8v.8h-.8zM186.2 48.4h.8v.8h-.8zM110.2 44.0h.8v.8h-.8zM81.0 49.3h.8v.8h-.8zM33.5 44.8h.8v.8h-.8zM65.1 45.1h.8v.8h-.8zM164.7 54.7h.8v.8h-.8zM39.4 47.5h.8v.8h-.8zM121.1 45.1h.8v.8h-.8zM236.2 53.8h.8v.8h-.8zM110.3 49.3h.8v.8h-.8zM48.0 44.8h.8v.8h-.8zM230.6 48.8h.8v.8h-.8zM111.9 49.2h.8v.8h-.8zM12.5 45.6h.8v.8h-.8zM226.6 48.6h.8v.8h-.8zM103.0 51.0h.8v.8h-.8zM142.4 49.9h.8v.8h-.8zM62.8 47.3h.8v.8h-.8zM98.7 51.1h.8v.8h-.8zM156.0 51.3h.8v.8h-.8zM147.1 53.5h.8v.8h-.8zM236.2 49.0h.8v.8h-.8zM11.2 50.5h.8v.8h-.8zM29.8 50.9h.8v.8h-.8zM199.6 49.2h.8v.8h-.8zM167.9 58.4h.8v.8h-.8zM142.3 52.6h.8v.8h-.8zM141.1 56.1h.8v.8h-.8zM68.2 48.5h.8v.8h-.8zM150.3 56.6h.8v.8h-.8zM94.3 49.6h.8v.8h-.8zM120.9 47.3h.8v.8h-.8zM175.6 54.3h.8v.8h-.8zM191.4 52.5h.8v.8h-.8zM145.4 52.9h.8v.8h-.8zM207.5 52.7h.8v.8h-.8zM18.9 47.9h.8v.8h-.8zM209.2 47.2h.8v.8h-.8zM218.7 46.5h.8v.8h-.8zM197.2 49.9h.8v.8h-.8zM140.3 52.4h.8v.8h-.8zM95.0 47.0h.8v.8h-.8zM149.3 57.8h.8v.8h-.8zM84.3 42.5h.8v.8h-.8zM138.0 52.0h.8v.8h-.8zM217.2 40.9h.8v.8h-.8zM15.1 45.0h.8v.8h-.8zM113.6 44.3h.8v.8h-.8zM229.9 46.9h.8v.8h-.8zM150.9 49.9h.8v.8h-.8zM130.3 48.8h.8v.8h-.8zM169.6 54.0h.8v.8h-.8zM81.6 48.2h.8v.8h-.8zM208.7 52.6h.8v.8h-.8zM15.5 50.0h.8v.8h-.8zM156.6 54.2h.8v.8h-.8zM95.5 46.5h.8v.8h-.8zM60.2 47.4h.8v.8h-.8zM146.8 50.5h.8v.8h-.8zM82.8 42.8h.8v.8h-.8zM186.5 50.3h.8v.8h-.8zM226.0 48.4h.8v.8h-.8zM96.6 51.4h.8v.8h-.8zM87.5 48.8h.8v.8h-.8zM136.1 46.8h.8v.8h-.8zM185.3 54.1h.8v.8h-.8zM70.3 48.1h.8v.8h-.8zM121.1 49.7h.8v.8h-.8zM200.6 47.7h.8v.8h-.8zM99.2 42.6h.8v.8h-.8zM23.1 46.5h.8v.8h-.8zM83.7 49.1h.8v.8h-.8zM77.8 49.5h.8v.8h-.8zM168.6 52.4h.8v.8h-.8zM191.6 53.0h.8v.8h-.8zM124.4 51.3h.8v.8h-.8zM196.0 52.1h.8v.8h-.8zM58.0 52.7h.8v.8h-.8zM60.8 46.5h.8v.8h-.8zM8.6 51.6h.8v.8h-.8zM30.7 44.7h.8v.8h-.8zM183.6 54.1h.8v.8h-.8zM198.7 44.7h.8v.8h-.8zM233.5 46.0h.8v.8h-.8zM218.9 52.7h.8v.8h-.8zM80.1 46.7h.8v.8h-.8zM202.4 44.7h.8v.8h-.8zM138.0 53.3h.8v.8h-.8zM132.5 50.3h.8v.8h-.8zM39.3 51.8h.8v.8h-.8zM63.8 44.1h.8v.8h-.8zM167.8 53.0h.8v.8h-.8zM186.3 52.4h.8v.8h-.8zM183.6 53.2h.8v.8h-.8zM72.8 49.4h.8v.8h-.8zM184.8 48.9h.8v.8h-.8zM44.9 49.3h.8v.8h-.8zM32.7 45.2h.8v.8h-.8zM45.4 52.6h.8v.8h-.8zM25.2 48.3h.8v.8h-.8zM161.1 52.5h.8v.8h-.8zM27.5 48.4h.8v.8h-.8zM208.1 52.1h.8v.8h-.8zM101.9 47.7h.8v.8h-.8zM86.3 48.5h.8v.8h-.8zM63.7 49.3h.8v.8h-.8zM187.7 49.6h.8v.8h-.8zM130.0 47.9h.8v.8h-.8zM96.4 47.0h.8v.8h-.8zM75.4 47.4h.8v.8h-.8zM57.4 52.5h.8v.8h-.8zM82.8 47.2h.8v.8h-.8zM154.4 58.7h.8v.8h-.8zM118.3 44.0h.8v.8h-.8zM223.1 52.3h.8v.8h-.8zM111.2 43.6h.8v.8h-.8zM67.0 46.2h.8v.8h-.8zM67.5 50.7h.8v.8h-.8zM184.1 55.5h.8v.8h-.8zM44.2 41.1h.8v.8h-.8zM118.4 51.6h.8v.8h-.8zM95.8 51.2h.8v.8h-.8zM94.4 43.7h.8v.8h-.8zM36.6 45.5h.8v.8h-.8zM219.4 45.1h.8v.8h-.8zM159.3 52.5h.8v.8h-.8zM74.2 51.2h.8v.8h-.8zM110.4 42.7h.8v.8h-.8zM215.5 49.4h.8v.8h-.8zM220.2 41.6h.8v.8h-.8zM40.2 49.2h.8v.8h-.8zM219.0 44.9h.8v.8h-.8zM102.9 44.2h.8v.8h-.8zM234.9 53.3h.8v.8h-.8zM195.7 49.1h.8v.8h-.8zM93.9 49.2h.8v.8h-.8zM180.4 52.0h.8v.8h-.8zM115.5 46.8h.8v.8h-.8zM191.3 54.5h.8v.8h-.8zM175.5 59.7h.8v.8h-.8zM59.0 52.1h.8v.8h-.8zM94.2 45.4h.8v.8h-.8zM211.9 50.0h.8v.8h-.8zM224.5 46.6h.8v.8h-.8zM33.0 46.5h.8v.8h-.8zM24.1 44.9h.8v.8h-.8zM110.6 47.9h.8v.8h-.8zM233.0 46.2h.8v.8h-.8zM104.0 49.5h.8v.8h-.8zM47.7 51.5h.8v.8h-.8zM132.5 47.0h.8v.8h-.8zM105.7 48.3h.8v.8h-.8zM121.2 50.6h.8v.8h-.8zM110.4 51.6h.8v.8h-.8zM55.7 47.9h.8v.8h-.8zM20.7 49.6h.8v.8h-.8zM187.3 55.6h.8v.8h-.8zM211.7 48.7h.8v.8h-.8zM109.4 52.8h.8v.8h-.8zM131.3 47.5h.8v.8h-.8zM23.5 48.1h.8v.8h-.8zM161.0 52.7h.8v.8h-.8zM218.5 45.9h.8v.8h-.8zM195.8 48.0h.8v.8h-.8zM134.9 49.2h.8v.8h-.8zM158.0 53.7h.8v.8h-.8zM119.7 49.1h.8v.8h-.8zM16.2 48.0h.8v.8h-.8zM72.2 44.7h.8v.8h-.8zM110.3 48.5h.8v.8h-.8zM49.9 50.0h.8v.8h-.8zM194.9 44.4h.8v.8h-.8zM87.9 49.5h.8v.8h-.8zM192.8 50.5h.8v.8h-.8zM98.2 46.2h.8v.8h-.8zM136.8 50.9h.8v.8h-.8zM162.1 60.1h.8v.8h-.8zM130.1 47.5h.8v.8h-.8zM84.9 47.4h.8v.8h-.8zM61.1 48.5h.8v.8h-.8zM110.0 48.0h.8v.8h-.8zM207.0 49.1h.8v.8h-.8zM77.3 44.2h.8v.8h-.8zM61.5 47.7h.8v.8h-.8zM173.7 51.5h.8v.8h-.8zM88.4 48.5h.8v.8h-.8zM194.8 44.9h.8v.8h-.8zM233.7 42.8h.8v.8h-.8zM10.7 53.6h.8v.8h-.8zM208.9 51.5h.8v.8h-.8zM97.2 48.9h.8v.8h-.8zM184.4 52.9h.8v.8h-.8zM187.6 55.2h.8v.8h-.8zM134.2 48.4h.8v.8h-.8zM16.8 45.3h.8v.8h-.8zM184.7 54.2h.8v.8h-.8zM8.5 51.2h.8v.8h-.8zM67.6 46.1h.8v.8h-.8zM153.9 49.8h.8v.8h-.8zM109.7 47.9h.8v.8h-.8zM55.5 44.5h.8v.8h-.8zM130.7 44.9h.8v.8h-.8zM53.6 45.9h.8v.8h-.8zM79.4 47.7h.8v.8h-.8zM88.1 49.3h.8v.8h-.8zM175.2 52.2h.8v.8h-.8zM175.7 52.8h.8v.8h-.8zM35.1 48.3h.8v.8h-.8zM30.4 46.8h.8v.8h-.8zM65.9 46.2h.8v.8h-.8zM210.5 48.1h.8v.8h-.8zM222.9 47.4h.8v.8h-.8zM167.4 57.8h.8v.8h-.8zM136.7 48.1h.8v.8h-.8zM227.1 54.7h.8v.8h-.8zM11.4 47.2h.8v.8h-.8zM53.8 50.3h.8v.8h-.8zM106.8 48.8h.8v.8h-.8zM199.5 48.0h.8v.8h-.8zM79.0 53.9h.8v.8h-.8zM70.7 48.8h.8v.8h-.8zM56.9 50.1h.8v.8h-.8zM35.7 50.0h.8v.8h-.8zM49.5 48.3h.8v.8h-.8zM110.4 51.7h.8v.8h-.8zM78.1 43.9h.8v.8h-.8zM173.9 52.9h.8v.8h-.8zM86.9 52.3h.8v.8h-.8zM136.8 46.0h.8v.8h-.8zM117.1 47.6h.8v.8h-.8zM210.8 49.5h.8v.8h-.8zM147.5 58.4h.8v.8h-.8zM211.2 51.7h.8v.8h-.8zM16.1 47.7h.8v.8h-.8zM130.8 46.5h.8v.8h-.8zM199.1 46.5h.8v.8h-.8zM160.5 56.1h.8v.8h-.8zM52.4 46.4h.8v.8h-.8zM233.0 46.3h.8v.8h-.8z" fill="#e02828" fill-opacity="0.3"/>
<line x1="137.5" y1="48.2" x2="194.3" y2="48.2" stroke="#999" stroke-width="0.7" stroke-dasharray="2 1"/>
<line x1="137.5" y1="99.6" x2="194.3" y2="99.6" stroke="#aaa" stroke-width="0.7" stroke-dasharray="2 1"/>
<path d="M8.4 99.99 L8.9 100.55 L9.4 100.10 L9.9 99.73 L10.4 99.87 L10.9 99.85 L11.4 99.20 L11.9 99.53 L12.4 99.68 L12.9 99.32 L13.4 98.68 L13.9 98.70 L14.4 99.92 L14.9 99.93 L15.4 99.67 L15.9 98.87 L16.4 100.14 L16.9 99.36 L17.4 98.29 L17.9 100.58 L18.4 98.66 L18.9 101.01 L19.4 99.94 L19.9 99.33 L20.4 98.12 L20.9 99.16 L21.4 100.54 L21.9 100.45 L22.4 99.76 L22.9 98.53 L23.4 99.36 L23.9 99.42 L24.4 99.89 L24.9 99.52 L25.4 99.82 L25.9 98.58 L26.4 99.19 L26.9 100.50 L27.4 98.68 L27.9 100.18 L28.4 101.06 L28.9 100.01 L29.4 98.72 L29.9 100.38 L30.4 98.43 L30.9 99.81 L31.4 99.34 L31.9 100.37 L32.4 100.34 L32.9 99.72 L33.4 100.73 L33.9 100.21 L34.4 99.30 L34.9 98.99 L35.4 101.15 L35.9 99.35 L36.4 99.86 L36.9 99.53 L37.4 99.30 L37.9 98.60 L38.4 99.51 L38.9 99.53 L39.4 100.22 L39.9 99.28 L40.4 98.61 L40.9 98.93 L41.4 99.58 L41.9 99.76 L42.4 100.06 L42.9 99.36 L43.4 99.94 L43.9 99.69 L44.4 100.67 L44.9 99.57 L45.4 99.69 L45.9 99.95 L46.4 100.37 L46.9 99.02 L47.4 99.30 L47.9 99.43 L48.4 98.25 L48.9 100.42 L49.4 100.28 L49.9 99.61 L50.4 101.73 L50.9 100.40 L51.4 100.88 L51.9 100.58 L52.4 100.17 L52.9 98.71 L53.4 100.57 L53.9 99.86 L54.4 98.85 L54.9 99.63 L55.4 100.08 L55.9 100.22 L56.4 99.71 L56.9 99.27 L57.4 100.08 L57.9 99.12 L58.4 99.55 L58.9 100.08 L59.4 98.69 L59.9 99.83 L60.4 98.36 L60.9 99.02 L61.4 98.82 L61.9 99.54 L62.4 100.05 L62.9 99.57 L63.4 100.18 L63.9 99.66 L64.4 99.47 L64.9 99.91 L65.4 99.45 L65.9 99.68 L66.4 100.26 L66.9 99.24 L67.4 100.33 L67.9 98.91 L68.4 99.46 L68.9 98.51 L69.4 99.27 L69.9 100.60 L70.4 99.83 L70.9 100.40 L71.4 98.67 L71.9 98.97 L72.4 99.89 L72.9 100.12 L73.4 100.13 L73.9 98.55 L74.4 99.92 L74.9 99.55 L75.4 99.68 L75.9 99.90 L76.4 99.42 L76.9 98.54 L77.4 98.92 L77.9 98.69 L78.4 98.77 L78.9 99.52 L79.4 100.43 L79.9 99.15 L80.4 99.12 L80.9 98.88 L81.4 98.51 L81.9 99.64 L82.4 99.29 L82.9 99.45 L83.4 98.99 L83.9 99.91 L84.4 98.84 L84.9 99.94 L85.4 99.18 L85.9 100.09 L86.4 99.04 L86.9 99.88 L87.4 99.88 L87.9 99.55 L88.4 100.63 L88.9 99.71 L89.4 99.04 L89.9 100.03 L90.4 99.08 L90.9 99.26 L91.4 99.61 L91.9 99.71 L92.4 100.68 L92.9 98.50 L93.4 99.44 L93.9 100.31 L94.4 99.50 L94.9 99.80 L95.4 100.57 L95.9 98.83 L96.4 99.63 L96.9 100.10 L97.4 99.23 L97.9 98.50 L98.4 98.97 L98.9 99.72 L99.4 99.72 L99.9 100.76 L100.4 100.44 L100.9 98.63 L101.4 100.26 L101.9 100.17 L102.4 100.63 L102.9 99.50 L103.4 99.25 L103.9 99.69 L104.4 100.58 L104.9 99.99 L105.4 100.67 L105.9 100.09 L106.4 99.23 L106.9 98.96 L107.4 100.77 L107.9 98.65 L108.4 99.38 L108.9 99.40 L109.4 99.02 L109.9 99.24 L110.4 99.60 L110.9 101.09 L111.4 99.56 L111.9 99.27 L112.4 99.68 L112.9 100.19 L113.4 99.08 L113.9 99.35 L114.4 98.49 L114.9 100.04 L115.4 100.03 L115.9 100.54 L116.4 98.84 L116.9 100.97 L117.4 100.15 L117.9 99.43 L118.4 99.35 L118.9 99.41 L119.4 98.83 L119.9 100.08 L120.4 99.22 L120.9 99.15 L121.4 99.93 L121.9 99.67 L122.4 99.23 L122.9 99.45 L123.4 99.29 L123.9 100.45 L124.4 100.23 L124.9 99.14 L125.4 99.57 L125.9 100.46 L126.4 99.42 L126.9 100.72 L127.4 99.88 L127.9 100.02 L128.4 98.28 L128.9 100.13 L129.4 99.82 L129.9 99.97 L130.4 99.91 L130.9 99.93 L131.4 99.28 L131.9 100.17 L132.4 99.64 L132.9 98.94 L133.4 98.95 L133.9 99.70 L134.4 99.81 L134.9 98.21 L135.4 98.29 L135.9 100.26 L136.4 99.59 L136.9 101.39 L137.4 98.63 L137.9 104.64 L138.4 104.42 L138.9 105.15 L139.4 105.69 L139.9 105.82 L140.4 104.16 L140.9 105.58 L141.4 104.03 L141.9 104.99 L142.4 104.91 L142.9 105.19 L143.4 104.29 L143.9 105.64 L144.4 104.76 L144.9 104.79 L145.4 104.63 L145.9 104.13 L146.4 105.26 L146.9 105.01 L147.4 105.09 L147.9 105.97 L148.4 104.25 L148.9 104.62 L149.4 104.80 L149.9 105.34 L150.4 104.69 L150.9 105.39 L151.4 105.09 L151.9 103.69 L152.4 104.37 L152.9 103.52 L153.4 104.62 L153.9 104.54 L154.4 105.17 L154.9 104.91 L155.4 104.76 L155.9 105.60 L156.4 105.18 L156.9 104.02 L157.4 104.36 L157.9 105.01 L158.4 105.88 L158.9 104.68 L159.4 104.69 L159.9 104.97 L160.4 105.30 L160.9 104.74 L161.4 104.99 L161.9 104.53 L162.4 104.45 L162.9 104.30 L163.4 105.22 L163.9 104.45 L164.4 105.15 L164.9 105.06 L165.4 105.42 L165.9 103.11 L166.4 104.19 L166.9 104.03 L167.4 104.70 L167.9 105.31 L168.4 106.41 L168.9 105.77 L169.4 105.66 L169.9 105.04 L170.4 104.55 L170.9 105.14 L171.4 103.42 L171.9 105.39 L172.4 104.81 L172.9 105.19 L173.4 104.15 L173.9 104.11 L174.4 104.39 L174.9 104.77 L175.4 105.02 L175.9 104.58 L176.4 105.02 L176.9 105.23 L177.4 104.06 L177.9 104.74 L178.4 103.81 L178.9 104.45 L179.4 105.37 L179.9 104.35 L180.4 105.98 L180.9 105.12 L181.4 105.36 L181.9 104.87 L182.4 105.35 L182.9 105.49 L183.4 104.87 L183.9 104.47 L184.4 104.45 L184.9 106.02 L185.4 104.68 L185.9 104.51 L186.4 104.35 L186.9 103.74 L187.4 104.48 L187.9 105.01 L188.4 104.49 L188.9 104.32 L189.4 105.06 L189.9 105.09 L190.4 104.52 L190.9 104.99 L191.4 104.18 L191.9 105.34 L192.4 104.17 L192.9 104.59 L193.4 104.89 L193.9 104.54 L194.4 98.87 L194.9 100.93 L195.4 100.56 L195.9 98.50 L196.4 99.68 L196.9 98.80 L197.4 99.80 L197.9 98.78 L198.4 99.97 L198.9 99.94 L199.4 100.69 L199.9 100.36 L200.4 99.31 L200.9 100.20 L201.4 99.31 L201.9 99.53 L202.4 99.28 L202.9 98.49 L203.4 99.98 L203.9 98.31 L204.4 99.45 L204.9 99.93 L205.4 99.67 L205.9 98.60 L206.4 99.19 L206.9 100.03 L207.4 100.30 L207.9 100.61 L208.4 98.45 L208.9 99.89 L209.4 99.29 L209.9 100.08 L210.4 98.53 L210.9 99.51 L211.4 100.05 L211.9 99.19 L212.4 99.37 L212.9 98.98 L213.4 100.31 L213.9 98.76 L214.4 99.02 L214.9 99.39 L215.4 99.40 L215.9 100.94 L216.4 99.77 L216.9 99.07 L217.4 99.97 L217.9 99.82 L218.4 99.78 L218.9 99.56 L219.4 99.89 L219.9 98.86 L220.4 98.84 L220.9 99.33 L221.4 98.90 L221.9 100.04 L222.4 100.83 L222.9 100.38 L223.4 99.88 L223.9 99.81 L224.4 99.16 L224.9 98.78 L225.4 99.95 L225.9 98.66 L226.4 99.79 L226.9 99.51 L227.4 100.08 L227.9 99.63 L228.4 99.67 L228.9 99.23 L229.4 98.51 L229.9 99.38 L230.4 100.04 L230.9 100.26 L231.4 100.48 L231.9 98.97 L232.4 99.01 L232.9 100.04 L233.4 99.31 L233.9 101.23 L234.4 99.80 L234.9 98.64 L235.4 99.25 L235.9 100.59 L236.4 98.44 L236.9 99.70" fill="none" stroke="#2222c4" stroke-width="1.15"/>
<line x1="283" y1="31" x2="511.6" y2="31" stroke="#e4e4ea" stroke-width="0.8" />
<line x1="283" y1="117" x2="511.6" y2="117" stroke="#e4e4ea" stroke-width="0.8" />
<line x1="283" y1="66" x2="511.6" y2="66" stroke="#dcdce4" stroke-width="0.8" stroke-dasharray="2 1"/>
<line x1="283" y1="82.5" x2="511.6" y2="82.5" stroke="#dcdce4" stroke-width="0.8" stroke-dasharray="2 1"/>
<line x1="283" y1="40.3" x2="511.6" y2="40.3" stroke="#b8b0c4" stroke-width="0.9" stroke-dasharray="1 1.6"/>
<line x1="283" y1="57" x2="511.6" y2="57" stroke="#c4b8c8" stroke-width="0.9" stroke-dasharray="1 1.6"/>
<line x1="283" y1="91.2" x2="511.6" y2="91.2" stroke="#b4b4c4" stroke-width="0.9" stroke-dasharray="1 1.6"/>
<line x1="283" y1="108.3" x2="511.6" y2="108.3" stroke="#c8c0b8" stroke-width="0.9" stroke-dasharray="1 1.6"/>
<rect x="283.0" y="42.3" width="228.6" height="12" fill="url(#rg2)"/>
<path d="M366.2 51.2h.8v.8h-.8zM386.0 45.6h.8v.8h-.8zM411.6 49.4h.8v.8h-.8zM502.5 45.3h.8v.8h-.8zM284.6 51.6h.8v.8h-.8zM394.9 45.8h.8v.8h-.8zM477.3 49.7h.8v.8h-.8zM446.2 50.2h.8v.8h-.8zM471.2 42.5h.8v.8h-.8zM431.3 54.3h.8v.8h-.8zM293.4 49.0h.8v.8h-.8zM413.3 49.0h.8v.8h-.8zM356.6 48.1h.8v.8h-.8zM300.9 51.1h.8v.8h-.8zM490.8 50.1h.8v.8h-.8zM384.6 45.5h.8v.8h-.8zM353.5 46.4h.8v.8h-.8zM506.0 46.9h.8v.8h-.8zM501.6 47.6h.8v.8h-.8zM300.2 43.5h.8v.8h-.8zM311.3 47.5h.8v.8h-.8zM379.6 49.4h.8v.8h-.8zM508.4 51.6h.8v.8h-.8zM333.7 42.6h.8v.8h-.8zM333.7 50.4h.8v.8h-.8zM295.9 48.6h.8v.8h-.8zM403.7 47.1h.8v.8h-.8zM411.3 52.0h.8v.8h-.8zM419.6 47.0h.8v.8h-.8zM440.5 52.3h.8v.8h-.8zM446.3 45.4h.8v.8h-.8zM348.4 48.8h.8v.8h-.8zM292.2 44.8h.8v.8h-.8zM325.5 49.1h.8v.8h-.8zM479.6 52.0h.8v.8h-.8zM469.6 44.8h.8v.8h-.8zM394.6 49.2h.8v.8h-.8zM451.6 50.1h.8v.8h-.8zM508.1 48.5h.8v.8h-.8zM363.8 48.5h.8v.8h-.8zM362.8 47.3h.8v.8h-.8zM475.9 47.6h.8v.8h-.8zM360.3 50.3h.8v.8h-.8zM352.8 47.0h.8v.8h-.8zM323.2 51.7h.8v.8h-.8zM471.7 47.6h.8v.8h-.8zM297.4 44.2h.8v.8h-.8zM507.9 47.2h.8v.8h-.8zM497.1 50.3h.8v.8h-.8zM511.3 49.8h.8v.8h-.8zM405.3 50.2h.8v.8h-.8zM288.8 47.8h.8v.8h-.8zM499.3 48.0h.8v.8h-.8zM365.4 51.6h.8v.8h-.8zM415.0 54.1h.8v.8h-.8zM483.5 45.8h.8v.8h-.8zM341.7 48.5h.8v.8h-.8zM378.2 47.8h.8v.8h-.8zM498.8 48.2h.8v.8h-.8zM416.0 50.8h.8v.8h-.8zM337.1 47.3h.8v.8h-.8zM304.7 44.6h.8v.8h-.8zM493.3 51.9h.8v.8h-.8zM362.6 50.0h.8v.8h-.8zM315.8 56.3h.8v.8h-.8zM465.8 52.6h.8v.8h-.8zM387.9 50.2h.8v.8h-.8zM494.8 41.7h.8v.8h-.8zM404.7 47.8h.8v.8h-.8zM507.3 51.4h.8v.8h-.8zM449.9 45.9h.8v.8h-.8zM376.5 43.9h.8v.8h-.8zM410.8 49.3h.8v.8h-.8zM479.3 46.9h.8v.8h-.8zM288.6 45.0h.8v.8h-.8zM316.4 47.5h.8v.8h-.8zM493.8 46.8h.8v.8h-.8zM377.1 48.9h.8v.8h-.8zM418.2 48.1h.8v.8h-.8zM304.1 48.4h.8v.8h-.8zM446.0 49.6h.8v.8h-.8zM467.6 49.8h.8v.8h-.8zM480.0 49.5h.8v.8h-.8zM284.2 47.2h.8v.8h-.8zM455.4 46.3h.8v.8h-.8zM287.2 46.9h.8v.8h-.8zM381.6 48.6h.8v.8h-.8zM507.2 51.8h.8v.8h-.8zM330.9 51.9h.8v.8h-.8zM307.6 50.1h.8v.8h-.8zM334.0 41.2h.8v.8h-.8zM357.1 51.1h.8v.8h-.8zM355.2 46.8h.8v.8h-.8zM375.0 48.5h.8v.8h-.8zM443.1 46.2h.8v.8h-.8zM325.1 52.4h.8v.8h-.8zM306.2 46.3h.8v.8h-.8zM492.9 46.3h.8v.8h-.8zM307.0 48.2h.8v.8h-.8zM367.7 44.4h.8v.8h-.8zM312.3 45.0h.8v.8h-.8zM391.0 45.5h.8v.8h-.8zM391.0 46.9h.8v.8h-.8zM379.8 45.0h.8v.8h-.8zM325.5 45.1h.8v.8h-.8zM487.9 49.0h.8v.8h-.8zM510.4 46.1h.8v.8h-.8zM333.9 47.5h.8v.8h-.8zM427.1 48.2h.8v.8h-.8zM440.8 46.3h.8v.8h-.8zM511.4 43.5h.8v.8h-.8zM382.8 52.2h.8v.8h-.8zM432.1 49.5h.8v.8h-.8zM362.0 47.0h.8v.8h-.8zM508.0 50.3h.8v.8h-.8zM391.9 49.2h.8v.8h-.8zM453.3 44.2h.8v.8h-.8zM436.1 43.9h.8v.8h-.8zM283.3 48.9h.8v.8h-.8zM381.7 48.6h.8v.8h-.8zM289.2 44.7h.8v.8h-.8zM329.2 47.7h.8v.8h-.8zM478.7 42.7h.8v.8h-.8zM364.8 51.7h.8v.8h-.8zM424.7 46.3h.8v.8h-.8zM461.3 47.8h.8v.8h-.8zM283.9 48.3h.8v.8h-.8zM484.7 50.6h.8v.8h-.8zM397.4 50.4h.8v.8h-.8zM422.3 48.8h.8v.8h-.8zM467.9 51.8h.8v.8h-.8zM372.3 51.2h.8v.8h-.8zM402.8 45.8h.8v.8h-.8zM509.4 49.6h.8v.8h-.8zM493.1 52.0h.8v.8h-.8zM443.1 46.2h.8v.8h-.8zM315.4 53.1h.8v.8h-.8zM436.9 49.4h.8v.8h-.8zM427.2 47.5h.8v.8h-.8zM493.5 50.2h.8v.8h-.8zM404.6 50.7h.8v.8h-.8zM362.8 48.6h.8v.8h-.8zM298.5 53.9h.8v.8h-.8zM469.3 47.5h.8v.8h-.8zM284.0 47.2h.8v.8h-.8zM448.9 48.9h.8v.8h-.8zM468.0 49.4h.8v.8h-.8zM310.6 43.8h.8v.8h-.8zM286.1 52.5h.8v.8h-.8zM472.6 51.1h.8v.8h-.8zM401.0 48.8h.8v.8h-.8zM310.5 53.4h.8v.8h-.8zM357.3 55.7h.8v.8h-.8zM377.9 48.4h.8v.8h-.8zM459.3 49.4h.8v.8h-.8zM508.6 45.0h.8v.8h-.8zM460.1 54.3h.8v.8h-.8zM301.8 45.3h.8v.8h-.8zM454.6 48.6h.8v.8h-.8zM361.1 50.6h.8v.8h-.8zM509.0 50.9h.8v.8h-.8zM312.3 49.3h.8v.8h-.8zM511.0 44.3h.8v.8h-.8zM401.9 48.4h.8v.8h-.8zM458.4 46.9h.8v.8h-.8zM453.2 50.6h.8v.8h-.8zM443.6 50.0h.8v.8h-.8zM476.9 46.8h.8v.8h-.8zM451.5 45.9h.8v.8h-.8zM412.6 47.1h.8v.8h-.8zM300.6 50.1h.8v.8h-.8zM311.2 49.6h.8v.8h-.8zM294.1 47.4h.8v.8h-.8zM423.8 44.2h.8v.8h-.8zM330.1 47.4h.8v.8h-.8zM424.5 43.5h.8v.8h-.8zM335.0 45.9h.8v.8h-.8zM344.5 47.3h.8v.8h-.8zM317.0 50.7h.8v.8h-.8zM496.2 45.5h.8v.8h-.8zM322.3 48.0h.8v.8h-.8zM296.5 51.4h.8v.8h-.8zM352.1 45.4h.8v.8h-.8zM490.9 47.6h.8v.8h-.8zM415.0 46.1h.8v.8h-.8zM462.5 45.7h.8v.8h-.8zM366.8 55.6h.8v.8h-.8zM464.1 48.3h.8v.8h-.8zM312.0 49.7h.8v.8h-.8zM433.4 49.5h.8v.8h-.8zM313.0 51.3h.8v.8h-.8zM284.4 48.7h.8v.8h-.8zM342.2 47.0h.8v.8h-.8zM283.6 49.5h.8v.8h-.8zM342.4 48.4h.8v.8h-.8zM377.8 50.6h.8v.8h-.8zM365.3 48.1h.8v.8h-.8zM474.4 48.8h.8v.8h-.8zM451.8 48.1h.8v.8h-.8zM336.3 48.3h.8v.8h-.8zM488.9 46.6h.8v.8h-.8zM470.4 48.8h.8v.8h-.8zM486.8 50.5h.8v.8h-.8zM411.3 50.4h.8v.8h-.8zM309.8 46.8h.8v.8h-.8zM437.0 51.6h.8v.8h-.8zM426.7 46.5h.8v.8h-.8zM298.7 46.6h.8v.8h-.8zM286.7 51.0h.8v.8h-.8zM489.9 43.9h.8v.8h-.8zM300.4 48.5h.8v.8h-.8zM362.2 46.7h.8v.8h-.8zM328.8 51.4h.8v.8h-.8zM473.3 44.6h.8v.8h-.8zM370.2 50.2h.8v.8h-.8zM414.3 47.5h.8v.8h-.8zM436.9 48.6h.8v.8h-.8zM305.9 50.8h.8v.8h-.8zM465.1 48.9h.8v.8h-.8zM346.5 49.6h.8v.8h-.8zM429.4 46.2h.8v.8h-.8zM478.1 45.9h.8v.8h-.8zM455.0 49.1h.8v.8h-.8zM321.7 51.4h.8v.8h-.8zM338.3 48.9h.8v.8h-.8zM363.1 49.1h.8v.8h-.8zM485.6 47.7h.8v.8h-.8zM333.1 47.4h.8v.8h-.8zM418.2 47.7h.8v.8h-.8zM304.5 48.2h.8v.8h-.8zM412.4 47.4h.8v.8h-.8zM459.7 47.7h.8v.8h-.8zM337.9 45.6h.8v.8h-.8zM360.7 46.6h.8v.8h-.8zM499.3 46.1h.8v.8h-.8zM406.5 50.0h.8v.8h-.8zM474.9 52.7h.8v.8h-.8zM406.1 48.0h.8v.8h-.8zM446.9 44.0h.8v.8h-.8zM504.9 43.3h.8v.8h-.8zM456.7 49.0h.8v.8h-.8zM383.5 51.6h.8v.8h-.8zM335.9 48.7h.8v.8h-.8zM445.2 46.5h.8v.8h-.8zM394.9 44.6h.8v.8h-.8zM448.7 50.1h.8v.8h-.8zM509.2 53.0h.8v.8h-.8zM343.3 48.3h.8v.8h-.8zM436.0 42.1h.8v.8h-.8zM385.2 48.5h.8v.8h-.8zM364.7 51.2h.8v.8h-.8zM404.7 48.8h.8v.8h-.8zM353.5 50.7h.8v.8h-.8zM299.1 50.1h.8v.8h-.8zM322.2 46.0h.8v.8h-.8zM397.3 49.1h.8v.8h-.8zM404.2 47.2h.8v.8h-.8zM287.2 49.2h.8v.8h-.8zM410.9 50.4h.8v.8h-.8zM363.4 47.9h.8v.8h-.8zM356.0 48.2h.8v.8h-.8zM465.0 45.3h.8v.8h-.8zM284.2 49.5h.8v.8h-.8zM367.3 49.6h.8v.8h-.8zM374.3 43.2h.8v.8h-.8zM383.4 52.8h.8v.8h-.8zM414.6 51.9h.8v.8h-.8zM418.9 47.5h.8v.8h-.8zM472.3 47.9h.8v.8h-.8zM501.9 48.9h.8v.8h-.8zM405.2 47.5h.8v.8h-.8zM453.3 47.8h.8v.8h-.8zM368.4 47.0h.8v.8h-.8zM492.9 46.6h.8v.8h-.8zM367.3 47.4h.8v.8h-.8zM333.9 53.7h.8v.8h-.8zM344.9 41.0h.8v.8h-.8zM309.4 48.9h.8v.8h-.8zM331.1 48.6h.8v.8h-.8zM377.7 47.3h.8v.8h-.8zM462.0 47.2h.8v.8h-.8zM309.8 43.8h.8v.8h-.8zM486.4 45.3h.8v.8h-.8zM390.8 52.0h.8v.8h-.8zM486.8 46.3h.8v.8h-.8zM317.4 48.6h.8v.8h-.8zM396.5 49.8h.8v.8h-.8zM482.9 48.8h.8v.8h-.8zM414.2 49.3h.8v.8h-.8zM392.8 47.2h.8v.8h-.8zM390.1 49.9h.8v.8h-.8zM493.7 49.6h.8v.8h-.8zM448.4 44.7h.8v.8h-.8zM479.8 48.1h.8v.8h-.8zM501.0 47.6h.8v.8h-.8zM482.3 47.8h.8v.8h-.8zM320.6 48.4h.8v.8h-.8zM400.1 49.7h.8v.8h-.8zM416.2 45.5h.8v.8h-.8zM315.2 49.0h.8v.8h-.8zM447.1 46.1h.8v.8h-.8zM473.6 47.8h.8v.8h-.8zM497.7 55.0h.8v.8h-.8zM298.8 44.8h.8v.8h-.8zM371.8 46.4h.8v.8h-.8zM453.0 48.9h.8v.8h-.8zM489.9 50.3h.8v.8h-.8zM504.2 50.7h.8v.8h-.8zM486.2 47.1h.8v.8h-.8zM387.3 48.7h.8v.8h-.8zM401.3 48.7h.8v.8h-.8zM346.9 46.7h.8v.8h-.8zM508.1 51.9h.8v.8h-.8zM304.7 48.6h.8v.8h-.8zM454.6 43.0h.8v.8h-.8zM334.1 51.0h.8v.8h-.8zM483.6 48.4h.8v.8h-.8zM302.7 49.1h.8v.8h-.8zM300.4 43.0h.8v.8h-.8zM364.1 52.8h.8v.8h-.8zM446.8 51.4h.8v.8h-.8zM406.3 49.0h.8v.8h-.8zM305.4 45.8h.8v.8h-.8zM357.9 46.9h.8v.8h-.8zM472.8 47.8h.8v.8h-.8zM307.3 47.1h.8v.8h-.8zM295.0 48.0h.8v.8h-.8zM504.4 52.0h.8v.8h-.8zM504.5 49.2h.8v.8h-.8zM464.0 47.3h.8v.8h-.8zM457.2 39.8h.8v.8h-.8zM419.9 49.8h.8v.8h-.8zM310.1 48.6h.8v.8h-.8zM422.6 49.6h.8v.8h-.8zM425.7 48.5h.8v.8h-.8zM285.2 48.0h.8v.8h-.8zM505.4 48.1h.8v.8h-.8zM481.1 50.3h.8v.8h-.8zM308.5 49.8h.8v.8h-.8zM411.5 43.0h.8v.8h-.8zM422.1 51.8h.8v.8h-.8zM423.3 48.4h.8v.8h-.8zM459.3 47.0h.8v.8h-.8zM333.9 48.2h.8v.8h-.8zM432.3 49.4h.8v.8h-.8zM340.3 48.9h.8v.8h-.8zM465.0 46.0h.8v.8h-.8zM503.3 47.6h.8v.8h-.8zM415.8 48.5h.8v.8h-.8zM478.6 51.6h.8v.8h-.8zM367.2 45.2h.8v.8h-.8zM508.7 49.7h.8v.8h-.8zM429.0 49.7h.8v.8h-.8zM356.5 51.4h.8v.8h-.8zM391.2 48.2h.8v.8h-.8zM399.0 47.8h.8v.8h-.8zM354.8 44.4h.8v.8h-.8zM389.8 45.5h.8v.8h-.8zM427.0 47.8h.8v.8h-.8zM399.6 50.2h.8v.8h-.8zM404.7 49.0h.8v.8h-.8zM397.2 52.7h.8v.8h-.8zM364.3 48.2h.8v.8h-.8zM489.2 53.2h.8v.8h-.8zM497.5 48.3h.8v.8h-.8zM427.4 49.3h.8v.8h-.8zM288.7 50.7h.8v.8h-.8zM360.0 45.2h.8v.8h-.8zM383.9 47.7h.8v.8h-.8zM366.4 46.9h.8v.8h-.8zM462.9 46.8h.8v.8h-.8zM306.6 45.2h.8v.8h-.8zM332.6 48.3h.8v.8h-.8zM429.3 49.0h.8v.8h-.8zM413.9 51.2h.8v.8h-.8zM492.9 46.8h.8v.8h-.8zM390.2 46.2h.8v.8h-.8zM389.1 48.1h.8v.8h-.8zM497.2 48.1h.8v.8h-.8zM363.9 48.3h.8v.8h-.8zM328.2 46.1h.8v.8h-.8zM391.7 46.1h.8v.8h-.8zM494.9 48.4h.8v.8h-.8zM290.0 47.2h.8v.8h-.8zM443.2 45.2h.8v.8h-.8zM397.4 46.1h.8v.8h-.8zM291.2 43.6h.8v.8h-.8zM420.6 49.8h.8v.8h-.8zM293.1 52.3h.8v.8h-.8zM407.6 52.3h.8v.8h-.8zM320.6 46.7h.8v.8h-.8zM480.8 42.6h.8v.8h-.8zM430.5 48.7h.8v.8h-.8zM388.9 47.3h.8v.8h-.8zM468.2 47.5h.8v.8h-.8zM480.9 49.5h.8v.8h-.8zM444.1 49.2h.8v.8h-.8zM410.4 48.3h.8v.8h-.8zM501.1 44.4h.8v.8h-.8zM307.0 44.7h.8v.8h-.8zM414.7 49.3h.8v.8h-.8zM317.1 50.4h.8v.8h-.8zM389.0 51.9h.8v.8h-.8zM430.8 49.4h.8v.8h-.8zM489.8 48.4h.8v.8h-.8zM481.6 47.3h.8v.8h-.8zM407.1 51.1h.8v.8h-.8zM301.6 47.1h.8v.8h-.8zM444.0 51.8h.8v.8h-.8zM406.3 54.9h.8v.8h-.8zM489.3 46.0h.8v.8h-.8zM434.4 48.4h.8v.8h-.8zM445.3 46.3h.8v.8h-.8zM379.1 48.8h.8v.8h-.8zM446.4 48.5h.8v.8h-.8zM393.6 49.8h.8v.8h-.8zM433.4 50.2h.8v.8h-.8zM505.1 49.1h.8v.8h-.8zM344.1 48.6h.8v.8h-.8zM302.6 46.1h.8v.8h-.8zM394.2 51.4h.8v.8h-.8zM294.0 45.0h.8v.8h-.8zM443.8 46.1h.8v.8h-.8zM435.0 46.2h.8v.8h-.8zM402.3 49.9h.8v.8h-.8zM312.5 52.0h.8v.8h-.8zM353.8 50.3h.8v.8h-.8zM399.8 45.6h.8v.8h-.8zM445.3 45.7h.8v.8h-.8zM409.2 48.4h.8v.8h-.8zM288.1 47.9h.8v.8h-.8zM510.6 48.9h.8v.8h-.8zM490.5 47.4h.8v.8h-.8zM478.5 47.0h.8v.8h-.8zM347.7 49.6h.8v.8h-.8zM421.3 44.7h.8v.8h-.8zM452.5 47.8h.8v.8h-.8zM407.0 53.2h.8v.8h-.8zM456.1 49.4h.8v.8h-.8zM376.9 46.6h.8v.8h-.8zM365.7 53.0h.8v.8h-.8zM439.7 50.8h.8v.8h-.8zM395.0 43.2h.8v.8h-.8zM299.0 46.8h.8v.8h-.8zM364.8 47.0h.8v.8h-.8zM396.7 45.3h.8v.8h-.8zM342.1 49.0h.8v.8h-.8zM360.9 52.1h.8v.8h-.8zM497.3 53.9h.8v.8h-.8zM346.2 44.3h.8v.8h-.8zM400.6 50.2h.8v.8h-.8zM300.0 49.8h.8v.8h-.8zM397.7 52.5h.8v.8h-.8zM366.2 47.1h.8v.8h-.8zM346.1 49.1h.8v.8h-.8zM476.2 47.9h.8v.8h-.8zM478.7 54.1h.8v.8h-.8zM430.7 51.0h.8v.8h-.8zM371.9 45.1h.8v.8h-.8zM403.5 49.9h.8v.8h-.8zM481.4 50.1h.8v.8h-.8zM285.0 46.9h.8v.8h-.8zM461.0 46.0h.8v.8h-.8zM300.0 45.3h.8v.8h-.8zM300.3 50.3h.8v.8h-.8zM391.1 46.8h.8v.8h-.8zM505.5 49.5h.8v.8h-.8zM297.1 51.8h.8v.8h-.8zM411.3 48.2h.8v.8h-.8zM456.7 46.8h.8v.8h-.8zM504.4 50.4h.8v.8h-.8zM499.6 44.2h.8v.8h-.8zM446.8 43.7h.8v.8h-.8zM467.3 46.9h.8v.8h-.8zM426.8 47.5h.8v.8h-.8zM360.4 46.9h.8v.8h-.8zM357.4 51.2h.8v.8h-.8zM349.4 44.8h.8v.8h-.8zM510.2 49.2h.8v.8h-.8zM357.9 48.6h.8v.8h-.8zM300.7 50.6h.8v.8h-.8zM371.8 47.5h.8v.8h-.8zM478.4 44.7h.8v.8h-.8zM383.6 47.5h.8v.8h-.8zM388.2 50.3h.8v.8h-.8zM403.1 47.7h.8v.8h-.8zM392.4 49.2h.8v.8h-.8zM398.8 49.4h.8v.8h-.8zM465.6 47.5h.8v.8h-.8zM496.7 48.7h.8v.8h-.8zM314.4 48.9h.8v.8h-.8zM431.5 47.8h.8v.8h-.8zM316.4 48.1h.8v.8h-.8zM455.7 51.0h.8v.8h-.8zM382.5 46.0h.8v.8h-.8zM402.0 49.6h.8v.8h-.8zM347.2 49.9h.8v.8h-.8zM313.3 47.8h.8v.8h-.8zM408.4 45.8h.8v.8h-.8zM292.0 51.6h.8v.8h-.8zM437.7 44.4h.8v.8h-.8zM351.6 52.8h.8v.8h-.8zM382.0 47.0h.8v.8h-.8zM347.2 51.2h.8v.8h-.8zM436.1 44.8h.8v.8h-.8zM349.6 50.5h.8v.8h-.8zM387.4 44.4h.8v.8h-.8zM432.1 46.8h.8v.8h-.8zM381.1 49.4h.8v.8h-.8zM316.5 49.0h.8v.8h-.8zM325.0 49.9h.8v.8h-.8zM360.9 51.8h.8v.8h-.8zM490.6 48.5h.8v.8h-.8zM324.8 50.2h.8v.8h-.8zM316.0 46.9h.8v.8h-.8zM340.4 45.2h.8v.8h-.8zM468.2 47.1h.8v.8h-.8zM421.9 45.8h.8v.8h-.8zM433.1 47.2h.8v.8h-.8zM366.3 48.7h.8v.8h-.8zM499.3 45.7h.8v.8h-.8zM303.2 50.9h.8v.8h-.8zM459.9 50.0h.8v.8h-.8zM368.0 46.4h.8v.8h-.8zM400.2 48.3h.8v.8h-.8zM312.4 50.1h.8v.8h-.8zM440.1 41.8h.8v.8h-.8zM503.0 47.9h.8v.8h-.8zM482.8 53.0h.8v.8h-.8zM288.6 46.6h.8v.8h-.8zM312.6 53.5h.8v.8h-.8zM423.8 47.5h.8v.8h-.8zM424.6 45.8h.8v.8h-.8zM316.3 49.4h.8v.8h-.8zM408.3 48.1h.8v.8h-.8zM482.0 49.6h.8v.8h-.8zM414.4 49.8h.8v.8h-.8zM414.9 46.8h.8v.8h-.8zM346.3 49.2h.8v.8h-.8zM431.1 46.7h.8v.8h-.8zM409.9 47.8h.8v.8h-.8zM394.3 49.2h.8v.8h-.8zM402.6 49.0h.8v.8h-.8zM325.4 46.7h.8v.8h-.8zM352.8 48.9h.8v.8h-.8zM427.9 46.5h.8v.8h-.8zM290.3 51.8h.8v.8h-.8zM396.6 50.3h.8v.8h-.8zM308.8 42.2h.8v.8h-.8zM372.4 49.3h.8v.8h-.8zM410.3 45.6h.8v.8h-.8zM292.9 49.8h.8v.8h-.8zM484.8 46.2h.8v.8h-.8zM348.0 47.1h.8v.8h-.8zM325.8 52.9h.8v.8h-.8zM369.5 46.3h.8v.8h-.8zM420.9 46.7h.8v.8h-.8zM290.6 47.7h.8v.8h-.8zM451.1 50.0h.8v.8h-.8zM286.9 51.2h.8v.8h-.8zM288.0 50.2h.8v.8h-.8zM423.1 51.5h.8v.8h-.8zM509.6 46.6h.8v.8h-.8zM286.0 45.6h.8v.8h-.8zM502.0 43.2h.8v.8h-.8zM292.6 48.7h.8v.8h-.8zM473.9 46.5h.8v.8h-.8zM375.8 48.6h.8v.8h-.8zM300.2 46.7h.8v.8h-.8zM443.4 47.4h.8v.8h-.8zM322.7 47.0h.8v.8h-.8zM445.7 44.9h.8v.8h-.8zM500.3 47.2h.8v.8h-.8zM373.8 52.1h.8v.8h-.8zM487.4 50.3h.8v.8h-.8zM420.2 44.4h.8v.8h-.8zM342.8 54.0h.8v.8h-.8zM500.2 44.6h.8v.8h-.8zM360.3 50.0h.8v.8h-.8zM475.0 44.8h.8v.8h-.8zM466.4 45.8h.8v.8h-.8zM464.9 49.0h.8v.8h-.8zM432.6 43.2h.8v.8h-.8zM290.3 47.0h.8v.8h-.8zM286.1 47.2h.8v.8h-.8zM475.5 48.6h.8v.8h-.8zM303.2 49.7h.8v.8h-.8zM313.6 47.0h.8v.8h-.8zM455.3 47.1h.8v.8h-.8zM419.3 45.9h.8v.8h-.8zM409.4 51.2h.8v.8h-.8zM406.4 47.3h.8v.8h-.8zM388.6 44.9h.8v.8h-.8zM308.5 50.4h.8v.8h-.8zM441.3 52.3h.8v.8h-.8zM407.1 46.4h.8v.8h-.8zM363.8 49.2h.8v.8h-.8zM406.3 49.0h.8v.8h-.8zM484.2 49.4h.8v.8h-.8zM454.3 47.1h.8v.8h-.8zM467.5 43.2h.8v.8h-.8zM325.7 48.9h.8v.8h-.8zM359.7 44.1h.8v.8h-.8zM385.6 47.9h.8v.8h-.8zM352.1 50.0h.8v.8h-.8zM378.9 46.4h.8v.8h-.8zM334.1 44.3h.8v.8h-.8zM365.7 48.7h.8v.8h-.8zM434.4 47.9h.8v.8h-.8zM503.0 48.3h.8v.8h-.8zM348.9 42.0h.8v.8h-.8zM330.3 46.4h.8v.8h-.8zM297.6 48.7h.8v.8h-.8zM477.6 49.7h.8v.8h-.8zM401.2 50.3h.8v.8h-.8zM399.8 48.8h.8v.8h-.8zM322.9 46.3h.8v.8h-.8zM384.6 53.6h.8v.8h-.8zM336.3 47.3h.8v.8h-.8zM401.9 47.6h.8v.8h-.8zM431.1 51.1h.8v.8h-.8zM353.7 50.0h.8v.8h-.8zM453.2 44.0h.8v.8h-.8zM421.8 44.5h.8v.8h-.8zM324.8 49.9h.8v.8h-.8zM468.2 52.0h.8v.8h-.8zM297.3 46.5h.8v.8h-.8zM389.8 49.4h.8v.8h-.8zM482.4 44.3h.8v.8h-.8zM457.8 46.7h.8v.8h-.8zM346.5 46.4h.8v.8h-.8zM391.4 46.6h.8v.8h-.8zM404.3 47.5h.8v.8h-.8zM474.6 46.9h.8v.8h-.8zM319.8 46.3h.8v.8h-.8zM508.2 53.0h.8v.8h-.8zM366.8 49.0h.8v.8h-.8zM501.4 48.1h.8v.8h-.8zM328.9 52.6h.8v.8h-.8zM319.9 49.3h.8v.8h-.8zM454.9 49.6h.8v.8h-.8zM364.7 48.4h.8v.8h-.8zM302.3 45.9h.8v.8h-.8zM451.8 48.7h.8v.8h-.8zM395.7 53.2h.8v.8h-.8zM322.1 47.2h.8v.8h-.8zM492.7 50.9h.8v.8h-.8zM403.4 46.2h.8v.8h-.8zM321.8 47.5h.8v.8h-.8zM327.8 50.0h.8v.8h-.8zM423.4 46.3h.8v.8h-.8zM414.0 52.3h.8v.8h-.8zM472.1 52.6h.8v.8h-.8zM399.1 50.9h.8v.8h-.8zM427.5 48.6h.8v.8h-.8zM375.8 52.3h.8v.8h-.8zM447.9 47.1h.8v.8h-.8zM351.7 47.6h.8v.8h-.8zM454.9 52.0h.8v.8h-.8zM407.7 48.7h.8v.8h-.8zM446.4 46.9h.8v.8h-.8zM392.0 50.9h.8v.8h-.8zM454.3 51.1h.8v.8h-.8zM342.3 49.7h.8v.8h-.8zM417.7 48.2h.8v.8h-.8zM335.9 50.1h.8v.8h-.8zM487.6 44.8h.8v.8h-.8zM451.1 52.3h.8v.8h-.8zM344.5 48.0h.8v.8h-.8zM496.3 48.2h.8v.8h-.8zM427.2 50.7h.8v.8h-.8zM396.2 50.3h.8v.8h-.8zM436.3 46.9h.8v.8h-.8zM425.3 53.8h.8v.8h-.8zM299.6 50.6h.8v.8h-.8zM352.6 43.4h.8v.8h-.8zM445.6 51.7h.8v.8h-.8zM299.1 44.2h.8v.8h-.8zM474.3 48.3h.8v.8h-.8zM440.0 53.0h.8v.8h-.8zM389.4 52.1h.8v.8h-.8zM510.3 45.6h.8v.8h-.8zM502.2 44.5h.8v.8h-.8zM436.3 46.4h.8v.8h-.8zM374.5 45.2h.8v.8h-.8zM332.3 48.3h.8v.8h-.8zM342.7 51.1h.8v.8h-.8zM442.4 44.1h.8v.8h-.8zM440.4 44.9h.8v.8h-.8zM435.3 48.1h.8v.8h-.8zM284.7 41.8h.8v.8h-.8zM330.0 50.7h.8v.8h-.8zM389.9 50.1h.8v.8h-.8zM471.4 49.2h.8v.8h-.8zM290.5 49.7h.8v.8h-.8zM481.5 43.9h.8v.8h-.8zM341.8 50.6h.8v.8h-.8zM386.0 47.3h.8v.8h-.8zM500.3 44.5h.8v.8h-.8zM308.2 47.2h.8v.8h-.8zM284.1 48.2h.8v.8h-.8zM471.4 49.5h.8v.8h-.8zM340.1 52.1h.8v.8h-.8zM326.8 47.3h.8v.8h-.8zM445.5 47.0h.8v.8h-.8zM300.4 51.2h.8v.8h-.8zM473.4 49.1h.8v.8h-.8zM440.9 45.0h.8v.8h-.8zM360.7 49.9h.8v.8h-.8zM452.1 50.0h.8v.8h-.8zM411.7 49.6h.8v.8h-.8zM391.6 49.7h.8v.8h-.8zM286.3 51.0h.8v.8h-.8zM313.6 49.1h.8v.8h-.8zM486.2 51.3h.8v.8h-.8zM464.7 51.4h.8v.8h-.8zM355.1 40.5h.8v.8h-.8zM424.1 46.2h.8v.8h-.8zM371.5 50.3h.8v.8h-.8zM501.4 48.0h.8v.8h-.8zM353.9 46.3h.8v.8h-.8zM432.0 49.4h.8v.8h-.8zM484.7 47.7h.8v.8h-.8zM509.4 46.8h.8v.8h-.8zM448.2 43.2h.8v.8h-.8zM307.5 48.1h.8v.8h-.8zM419.7 49.3h.8v.8h-.8zM436.8 43.9h.8v.8h-.8zM297.3 46.3h.8v.8h-.8zM422.0 48.6h.8v.8h-.8zM373.7 45.2h.8v.8h-.8zM417.5 49.2h.8v.8h-.8zM486.5 47.9h.8v.8h-.8zM325.2 50.3h.8v.8h-.8zM308.7 51.7h.8v.8h-.8zM311.8 43.6h.8v.8h-.8zM365.4 52.6h.8v.8h-.8zM506.7 45.4h.8v.8h-.8zM509.9 48.0h.8v.8h-.8zM340.1 49.2h.8v.8h-.8zM397.9 50.3h.8v.8h-.8zM391.1 48.5h.8v.8h-.8zM438.8 49.1h.8v.8h-.8zM358.5 49.4h.8v.8h-.8zM303.8 49.2h.8v.8h-.8zM465.8 49.1h.8v.8h-.8zM484.0 52.8h.8v.8h-.8zM475.8 49.5h.8v.8h-.8zM431.8 46.8h.8v.8h-.8zM301.6 52.9h.8v.8h-.8zM293.6 50.1h.8v.8h-.8zM492.2 47.8h.8v.8h-.8zM455.4 49.4h.8v.8h-.8zM430.7 48.6h.8v.8h-.8zM316.4 46.3h.8v.8h-.8zM335.9 44.9h.8v.8h-.8zM391.9 49.5h.8v.8h-.8zM427.2 53.4h.8v.8h-.8zM441.0 47.6h.8v.8h-.8zM485.6 47.7h.8v.8h-.8zM461.2 44.8h.8v.8h-.8zM395.5 48.0h.8v.8h-.8zM455.7 46.2h.8v.8h-.8zM401.0 47.9h.8v.8h-.8zM331.8 51.5h.8v.8h-.8zM482.0 48.4h.8v.8h-.8zM447.5 49.1h.8v.8h-.8zM416.4 51.3h.8v.8h-.8zM415.4 45.3h.8v.8h-.8zM440.3 49.1h.8v.8h-.8zM484.4 43.8h.8v.8h-.8zM438.5 47.9h.8v.8h-.8zM310.3 48.2h.8v.8h-.8zM364.0 50.6h.8v.8h-.8zM395.3 45.8h.8v.8h-.8zM450.8 57.1h.8v.8h-.8zM367.9 46.5h.8v.8h-.8zM319.5 42.7h.8v.8h-.8zM426.8 50.7h.8v.8h-.8zM483.6 47.7h.8v.8h-.8zM466.7 47.7h.8v.8h-.8zM467.3 49.6h.8v.8h-.8zM378.0 46.6h.8v.8h-.8zM449.5 50.6h.8v.8h-.8zM487.4 52.1h.8v.8h-.8zM323.2 46.1h.8v.8h-.8zM367.4 50.0h.8v.8h-.8zM360.8 48.4h.8v.8h-.8zM323.5 46.9h.8v.8h-.8zM432.3 48.5h.8v.8h-.8zM377.0 48.4h.8v.8h-.8zM358.0 52.3h.8v.8h-.8zM288.5 50.6h.8v.8h-.8zM483.8 44.6h.8v.8h-.8zM350.2 47.9h.8v.8h-.8zM316.5 52.3h.8v.8h-.8zM504.0 46.4h.8v.8h-.8zM294.8 45.6h.8v.8h-.8zM347.8 41.8h.8v.8h-.8zM316.1 51.7h.8v.8h-.8zM418.3 54.4h.8v.8h-.8zM453.8 51.6h.8v.8h-.8zM468.7 48.3h.8v.8h-.8zM338.2 46.7h.8v.8h-.8zM292.0 47.3h.8v.8h-.8zM326.1 48.0h.8v.8h-.8zM322.8 52.3h.8v.8h-.8zM348.3 46.1h.8v.8h-.8zM504.9 49.1h.8v.8h-.8zM370.2 49.5h.8v.8h-.8zM467.1 52.0h.8v.8h-.8zM407.4 51.0h.8v.8h-.8zM465.5 47.9h.8v.8h-.8zM305.6 49.0h.8v.8h-.8zM448.3 43.9h.8v.8h-.8zM328.4 48.1h.8v.8h-.8zM346.8 49.5h.8v.8h-.8zM443.7 53.2h.8v.8h-.8zM318.4 48.2h.8v.8h-.8zM389.6 47.6h.8v.8h-.8zM341.8 48.7h.8v.8h-.8zM439.3 44.2h.8v.8h-.8zM328.1 51.9h.8v.8h-.8zM441.8 49.3h.8v.8h-.8zM285.1 51.2h.8v.8h-.8zM365.6 43.6h.8v.8h-.8zM401.7 44.8h.8v.8h-.8zM431.5 43.5h.8v.8h-.8zM400.9 48.7h.8v.8h-.8zM290.5 45.3h.8v.8h-.8zM408.1 46.3h.8v.8h-.8zM373.1 49.5h.8v.8h-.8zM333.6 46.7h.8v.8h-.8zM485.4 52.3h.8v.8h-.8zM387.3 49.1h.8v.8h-.8zM400.9 47.2h.8v.8h-.8zM453.2 48.8h.8v.8h-.8zM321.4 45.8h.8v.8h-.8zM502.6 45.4h.8v.8h-.8zM362.1 45.9h.8v.8h-.8zM308.9 45.9h.8v.8h-.8zM486.5 47.2h.8v.8h-.8zM434.6 48.4h.8v.8h-.8zM455.1 44.9h.8v.8h-.8zM313.6 51.7h.8v.8h-.8zM419.6 48.2h.8v.8h-.8zM326.4 51.7h.8v.8h-.8zM449.0 50.5h.8v.8h-.8zM435.4 48.2h.8v.8h-.8zM458.6 51.3h.8v.8h-.8zM429.4 49.2h.8v.8h-.8zM460.2 47.7h.8v.8h-.8zM286.0 46.0h.8v.8h-.8zM299.9 46.0h.8v.8h-.8zM378.8 45.7h.8v.8h-.8zM300.6 43.8h.8v.8h-.8zM399.5 48.7h.8v.8h-.8zM487.0 47.1h.8v.8h-.8zM497.6 47.3h.8v.8h-.8zM316.2 49.8h.8v.8h-.8zM333.2 44.7h.8v.8h-.8zM497.2 50.3h.8v.8h-.8zM410.7 50.9h.8v.8h-.8zM433.3 47.5h.8v.8h-.8zM283.0 47.8h.8v.8h-.8zM313.2 48.6h.8v.8h-.8zM467.9 50.0h.8v.8h-.8zM403.2 49.7h.8v.8h-.8zM403.1 49.5h.8v.8h-.8zM437.7 48.5h.8v.8h-.8zM375.5 50.8h.8v.8h-.8zM368.1 49.9h.8v.8h-.8zM511.5 49.9h.8v.8h-.8zM300.1 48.8h.8v.8h-.8zM409.0 52.7h.8v.8h-.8zM308.6 47.2h.8v.8h-.8zM406.3 43.8h.8v.8h-.8zM444.6 53.9h.8v.8h-.8zM421.1 48.2h.8v.8h-.8zM403.4 51.1h.8v.8h-.8zM369.6 47.3h.8v.8h-.8zM379.2 47.9h.8v.8h-.8zM508.6 45.8h.8v.8h-.8zM455.3 50.1h.8v.8h-.8zM468.7 48.1h.8v.8h-.8zM445.7 45.8h.8v.8h-.8zM328.6 48.0h.8v.8h-.8zM327.0 48.0h.8v.8h-.8zM323.0 45.8h.8v.8h-.8zM287.8 51.7h.8v.8h-.8zM483.3 53.6h.8v.8h-.8zM499.9 51.8h.8v.8h-.8zM423.5 51.6h.8v.8h-.8zM385.4 43.1h.8v.8h-.8zM478.6 52.7h.8v.8h-.8zM431.2 49.3h.8v.8h-.8zM460.5 48.9h.8v.8h-.8zM402.6 49.2h.8v.8h-.8zM421.6 47.7h.8v.8h-.8zM412.8 46.8h.8v.8h-.8zM504.5 48.2h.8v.8h-.8zM502.6 53.1h.8v.8h-.8zM436.8 45.8h.8v.8h-.8zM389.9 49.3h.8v.8h-.8zM311.5 50.2h.8v.8h-.8zM322.7 49.3h.8v.8h-.8zM488.6 44.9h.8v.8h-.8zM411.7 52.3h.8v.8h-.8zM488.3 51.6h.8v.8h-.8zM385.5 45.8h.8v.8h-.8zM338.7 46.2h.8v.8h-.8zM472.4 47.4h.8v.8h-.8zM292.8 46.8h.8v.8h-.8zM379.0 46.5h.8v.8h-.8zM407.0 56.5h.8v.8h-.8zM364.7 47.4h.8v.8h-.8zM501.9 51.4h.8v.8h-.8zM411.8 47.4h.8v.8h-.8zM328.1 49.0h.8v.8h-.8zM457.2 45.4h.8v.8h-.8zM493.7 45.4h.8v.8h-.8zM408.5 45.5h.8v.8h-.8zM313.0 47.4h.8v.8h-.8zM324.3 48.5h.8v.8h-.8zM507.2 47.3h.8v.8h-.8zM382.5 49.3h.8v.8h-.8zM296.7 46.8h.8v.8h-.8zM332.7 47.1h.8v.8h-.8zM428.6 48.7h.8v.8h-.8zM446.5 48.1h.8v.8h-.8zM416.1 45.6h.8v.8h-.8zM285.5 48.5h.8v.8h-.8zM363.4 46.0h.8v.8h-.8zM510.2 48.0h.8v.8h-.8zM360.8 51.0h.8v.8h-.8zM464.6 44.4h.8v.8h-.8zM395.5 43.3h.8v.8h-.8zM309.9 48.3h.8v.8h-.8zM334.4 51.3h.8v.8h-.8zM386.6 48.5h.8v.8h-.8zM501.5 50.7h.8v.8h-.8zM396.4 47.2h.8v.8h-.8zM307.0 48.4h.8v.8h-.8zM321.4 45.2h.8v.8h-.8zM483.5 49.9h.8v.8h-.8zM392.1 48.7h.8v.8h-.8zM510.9 49.6h.8v.8h-.8zM463.9 49.9h.8v.8h-.8zM359.9 48.8h.8v.8h-.8zM337.4 48.1h.8v.8h-.8zM353.8 49.0h.8v.8h-.8zM437.1 47.3h.8v.8h-.8zM485.7 52.9h.8v.8h-.8zM294.6 47.5h.8v.8h-.8zM393.4 48.6h.8v.8h-.8zM338.6 49.6h.8v.8h-.8zM451.0 47.1h.8v.8h-.8zM348.3 47.7h.8v.8h-.8zM298.1 52.2h.8v.8h-.8zM391.0 46.4h.8v.8h-.8zM502.8 50.1h.8v.8h-.8zM341.1 48.1h.8v.8h-.8zM326.7 45.9h.8v.8h-.8zM401.5 45.8h.8v.8h-.8zM459.9 46.1h.8v.8h-.8zM435.8 47.9h.8v.8h-.8zM500.0 51.2h.8v.8h-.8zM314.9 49.2h.8v.8h-.8zM453.8 43.8h.8v.8h-.8zM436.1 50.4h.8v.8h-.8zM502.3 45.2h.8v.8h-.8zM505.7 46.6h.8v.8h-.8zM466.6 47.7h.8v.8h-.8zM493.7 49.3h.8v.8h-.8zM297.6 53.7h.8v.8h-.8zM434.2 45.5h.8v.8h-.8zM499.9 44.9h.8v.8h-.8zM419.2 45.6h.8v.8h-.8zM333.8 52.1h.8v.8h-.8zM386.2 50.3h.8v.8h-.8zM311.5 46.4h.8v.8h-.8zM343.0 47.6h.8v.8h-.8zM483.3 45.1h.8v.8h-.8zM469.8 45.4h.8v.8h-.8zM382.8 45.7h.8v.8h-.8zM364.7 49.1h.8v.8h-.8zM461.0 49.9h.8v.8h-.8zM445.6 46.8h.8v.8h-.8zM332.2 52.2h.8v.8h-.8zM460.5 48.5h.8v.8h-.8zM358.4 52.4h.8v.8h-.8zM356.4 48.2h.8v.8h-.8zM456.8 49.1h.8v.8h-.8zM491.4 47.1h.8v.8h-.8zM382.3 47.9h.8v.8h-.8zM403.8 50.8h.8v.8h-.8zM403.5 48.0h.8v.8h-.8zM427.2 49.2h.8v.8h-.8zM447.0 47.4h.8v.8h-.8zM479.1 45.8h.8v.8h-.8zM287.0 48.6h.8v.8h-.8zM409.7 48.7h.8v.8h-.8zM402.6 48.7h.8v.8h-.8zM283.8 51.4h.8v.8h-.8zM291.3 53.6h.8v.8h-.8zM298.9 47.0h.8v.8h-.8zM432.9 45.1h.8v.8h-.8zM475.2 48.1h.8v.8h-.8zM429.6 52.0h.8v.8h-.8zM492.2 46.9h.8v.8h-.8zM309.6 49.3h.8v.8h-.8zM493.5 46.2h.8v.8h-.8zM463.9 52.6h.8v.8h-.8zM372.3 47.4h.8v.8h-.8zM402.7 48.5h.8v.8h-.8zM406.3 47.4h.8v.8h-.8zM412.9 47.8h.8v.8h-.8zM421.6 46.0h.8v.8h-.8zM451.3 45.4h.8v.8h-.8zM489.5 51.0h.8v.8h-.8zM367.4 45.3h.8v.8h-.8zM474.7 47.8h.8v.8h-.8zM344.7 47.7h.8v.8h-.8zM432.1 50.8h.8v.8h-.8zM318.3 51.3h.8v.8h-.8zM450.0 47.9h.8v.8h-.8zM377.3 50.8h.8v.8h-.8zM413.6 48.7h.8v.8h-.8zM303.7 51.7h.8v.8h-.8zM387.9 47.9h.8v.8h-.8zM289.6 48.4h.8v.8h-.8zM431.5 50.7h.8v.8h-.8zM322.8 46.2h.8v.8h-.8zM412.1 48.5h.8v.8h-.8zM440.3 44.0h.8v.8h-.8zM425.4 47.8h.8v.8h-.8zM302.1 46.6h.8v.8h-.8zM456.5 45.8h.8v.8h-.8zM497.2 45.3h.8v.8h-.8zM335.6 52.4h.8v.8h-.8zM431.6 53.2h.8v.8h-.8zM385.0 48.5h.8v.8h-.8zM386.9 45.8h.8v.8h-.8zM335.6 48.3h.8v.8h-.8zM441.2 47.7h.8v.8h-.8zM344.8 47.7h.8v.8h-.8zM496.0 47.9h.8v.8h-.8zM415.2 50.4h.8v.8h-.8zM368.2 55.3h.8v.8h-.8zM312.5 45.9h.8v.8h-.8zM334.4 49.6h.8v.8h-.8zM347.9 50.8h.8v.8h-.8zM437.2 49.1h.8v.8h-.8zM289.0 47.6h.8v.8h-.8zM308.6 47.8h.8v.8h-.8zM381.7 49.6h.8v.8h-.8zM366.1 47.3h.8v.8h-.8zM506.5 41.6h.8v.8h-.8zM379.1 47.4h.8v.8h-.8zM422.6 47.2h.8v.8h-.8zM485.0 49.4h.8v.8h-.8zM321.0 47.4h.8v.8h-.8zM489.2 46.9h.8v.8h-.8zM298.4 44.1h.8v.8h-.8zM424.4 52.5h.8v.8h-.8zM464.7 48.9h.8v.8h-.8zM356.6 52.5h.8v.8h-.8zM511.2 48.4h.8v.8h-.8zM424.9 46.8h.8v.8h-.8zM468.6 50.0h.8v.8h-.8zM504.4 47.1h.8v.8h-.8zM510.8 49.7h.8v.8h-.8zM380.7 46.2h.8v.8h-.8zM448.7 49.1h.8v.8h-.8zM507.6 43.3h.8v.8h-.8zM374.5 49.3h.8v.8h-.8zM379.5 50.5h.8v.8h-.8zM455.6 41.8h.8v.8h-.8zM444.1 51.0h.8v.8h-.8zM500.9 43.1h.8v.8h-.8zM404.5 48.1h.8v.8h-.8zM403.4 48.5h.8v.8h-.8zM364.2 56.5h.8v.8h-.8zM353.3 48.3h.8v.8h-.8zM496.1 50.7h.8v.8h-.8zM462.2 48.5h.8v.8h-.8zM436.9 46.9h.8v.8h-.8zM303.9 45.6h.8v.8h-.8zM473.0 48.5h.8v.8h-.8zM411.5 45.3h.8v.8h-.8zM466.8 45.3h.8v.8h-.8zM393.8 48.4h.8v.8h-.8zM451.3 48.1h.8v.8h-.8zM460.5 46.0h.8v.8h-.8zM368.9 47.1h.8v.8h-.8zM488.6 46.1h.8v.8h-.8zM497.9 48.7h.8v.8h-.8zM363.3 45.8h.8v.8h-.8zM382.1 47.8h.8v.8h-.8zM407.7 47.9h.8v.8h-.8zM495.2 53.3h.8v.8h-.8zM413.8 50.4h.8v.8h-.8zM511.1 47.6h.8v.8h-.8zM455.1 44.2h.8v.8h-.8zM379.3 52.1h.8v.8h-.8zM483.5 51.7h.8v.8h-.8zM447.9 48.9h.8v.8h-.8zM400.6 51.3h.8v.8h-.8zM366.2 45.4h.8v.8h-.8zM507.2 48.5h.8v.8h-.8zM426.3 53.9h.8v.8h-.8zM323.6 47.5h.8v.8h-.8zM459.3 45.7h.8v.8h-.8zM411.7 50.7h.8v.8h-.8zM452.1 47.1h.8v.8h-.8zM367.5 52.0h.8v.8h-.8zM461.9 44.6h.8v.8h-.8zM510.8 48.5h.8v.8h-.8zM347.1 53.8h.8v.8h-.8zM403.0 48.5h.8v.8h-.8zM430.7 50.9h.8v.8h-.8zM371.2 43.5h.8v.8h-.8zM508.7 45.1h.8v.8h-.8zM473.2 51.0h.8v.8h-.8zM365.9 46.1h.8v.8h-.8zM361.2 49.5h.8v.8h-.8zM377.2 48.8h.8v.8h-.8zM509.2 47.5h.8v.8h-.8zM463.7 44.8h.8v.8h-.8zM351.5 46.9h.8v.8h-.8zM457.8 50.1h.8v.8h-.8zM397.1 46.5h.8v.8h-.8zM333.0 48.3h.8v.8h-.8zM429.8 53.4h.8v.8h-.8zM385.2 47.2h.8v.8h-.8zM283.9 47.0h.8v.8h-.8zM364.7 46.8h.8v.8h-.8zM406.9 47.5h.8v.8h-.8zM357.3 48.0h.8v.8h-.8zM365.5 52.6h.8v.8h-.8zM452.7 48.3h.8v.8h-.8zM290.2 45.8h.8v.8h-.8zM475.7 45.1h.8v.8h-.8zM439.7 47.2h.8v.8h-.8zM408.4 48.6h.8v.8h-.8zM504.4 48.1h.8v.8h-.8zM423.9 43.6h.8v.8h-.8zM487.7 51.4h.8v.8h-.8zM419.3 51.9h.8v.8h-.8zM377.2 48.5h.8v.8h-.8zM414.2 49.0h.8v.8h-.8zM476.0 47.1h.8v.8h-.8zM354.0 48.3h.8v.8h-.8zM307.4 49.0h.8v.8h-.8zM344.2 42.2h.8v.8h-.8zM322.3 47.2h.8v.8h-.8zM349.1 45.7h.8v.8h-.8zM363.9 51.0h.8v.8h-.8zM436.1 48.8h.8v.8h-.8zM415.5 48.9h.8v.8h-.8zM448.5 48.8h.8v.8h-.8zM435.9 48.9h.8v.8h-.8zM298.0 51.9h.8v.8h-.8zM319.7 46.5h.8v.8h-.8zM376.6 49.3h.8v.8h-.8zM363.4 48.7h.8v.8h-.8zM483.6 52.0h.8v.8h-.8zM428.7 46.0h.8v.8h-.8zM416.5 44.5h.8v.8h-.8zM396.5 48.0h.8v.8h-.8zM373.9 49.4h.8v.8h-.8zM375.8 46.4h.8v.8h-.8zM438.3 50.6h.8v.8h-.8zM382.0 47.8h.8v.8h-.8zM374.9 48.9h.8v.8h-.8zM463.5 50.7h.8v.8h-.8zM325.9 46.2h.8v.8h-.8zM415.2 48.6h.8v.8h-.8zM459.8 50.5h.8v.8h-.8zM325.9 50.3h.8v.8h-.8zM430.8 47.5h.8v.8h-.8zM335.7 46.6h.8v.8h-.8zM352.3 45.7h.8v.8h-.8zM482.8 53.1h.8v.8h-.8zM463.9 46.0h.8v.8h-.8zM329.0 50.1h.8v.8h-.8zM388.2 49.4h.8v.8h-.8zM373.1 48.0h.8v.8h-.8zM327.7 49.5h.8v.8h-.8zM394.4 46.5h.8v.8h-.8zM294.9 47.2h.8v.8h-.8zM466.1 45.4h.8v.8h-.8zM447.9 48.2h.8v.8h-.8zM340.4 46.3h.8v.8h-.8zM419.6 54.1h.8v.8h-.8zM447.7 50.2h.8v.8h-.8zM395.8 47.6h.8v.8h-.8zM409.7 49.1h.8v.8h-.8zM459.7 49.2h.8v.8h-.8zM439.7 49.1h.8v.8h-.8zM390.4 49.0h.8v.8h-.8zM507.5 45.7h.8v.8h-.8zM482.5 46.9h.8v.8h-.8zM417.2 51.2h.8v.8h-.8zM386.0 50.0h.8v.8h-.8zM470.1 44.6h.8v.8h-.8zM340.8 45.0h.8v.8h-.8zM416.4 48.2h.8v.8h-.8zM286.7 49.4h.8v.8h-.8zM319.3 45.7h.8v.8h-.8zM478.4 44.3h.8v.8h-.8zM452.1 46.8h.8v.8h-.8zM425.4 49.1h.8v.8h-.8zM359.2 47.8h.8v.8h-.8zM320.4 47.1h.8v.8h-.8zM289.5 46.9h.8v.8h-.8zM314.2 49.8h.8v.8h-.8zM387.1 51.2h.8v.8h-.8zM389.2 51.5h.8v.8h-.8zM341.0 48.5h.8v.8h-.8zM303.9 49.7h.8v.8h-.8zM374.6 48.8h.8v.8h-.8zM321.1 46.8h.8v.8h-.8zM451.0 48.7h.8v.8h-.8zM483.2 47.9h.8v.8h-.8zM503.6 49.2h.8v.8h-.8zM302.2 45.7h.8v.8h-.8zM393.4 44.8h.8v.8h-.8zM486.7 50.8h.8v.8h-.8zM490.4 51.6h.8v.8h-.8zM488.1 49.9h.8v.8h-.8zM400.0 46.0h.8v.8h-.8zM477.0 46.8h.8v.8h-.8zM290.2 49.7h.8v.8h-.8zM329.7 52.1h.8v.8h-.8zM353.7 52.9h.8v.8h-.8zM363.6 52.2h.8v.8h-.8zM382.2 47.7h.8v.8h-.8zM307.1 46.9h.8v.8h-.8zM499.8 49.9h.8v.8h-.8zM379.2 50.3h.8v.8h-.8zM293.8 47.9h.8v.8h-.8zM488.6 52.4h.8v.8h-.8zM419.1 50.4h.8v.8h-.8zM347.9 49.7h.8v.8h-.8zM507.8 45.9h.8v.8h-.8zM410.6 53.9h.8v.8h-.8zM369.0 46.2h.8v.8h-.8zM441.1 47.8h.8v.8h-.8zM288.3 44.5h.8v.8h-.8zM440.3 48.4h.8v.8h-.8zM304.8 46.6h.8v.8h-.8zM298.4 47.1h.8v.8h-.8zM476.8 48.0h.8v.8h-.8zM377.9 52.5h.8v.8h-.8zM380.9 48.2h.8v.8h-.8zM324.7 45.1h.8v.8h-.8zM479.9 49.9h.8v.8h-.8zM486.9 48.0h.8v.8h-.8zM434.9 48.8h.8v.8h-.8zM440.1 45.5h.8v.8h-.8zM468.6 44.6h.8v.8h-.8zM426.0 48.9h.8v.8h-.8zM499.3 47.1h.8v.8h-.8zM435.3 49.6h.8v.8h-.8zM429.6 49.2h.8v.8h-.8zM353.0 50.2h.8v.8h-.8zM394.1 47.5h.8v.8h-.8zM398.1 50.4h.8v.8h-.8zM486.9 47.5h.8v.8h-.8zM448.4 42.6h.8v.8h-.8zM485.0 45.7h.8v.8h-.8zM454.3 47.6h.8v.8h-.8zM333.4 48.1h.8v.8h-.8zM431.8 51.1h.8v.8h-.8zM362.3 50.8h.8v.8h-.8zM371.6 50.5h.8v.8h-.8zM453.9 43.8h.8v.8h-.8zM385.1 40.9h.8v.8h-.8zM494.7 46.6h.8v.8h-.8zM421.9 53.2h.8v.8h-.8zM293.4 51.0h.8v.8h-.8zM309.8 47.4h.8v.8h-.8zM455.3 46.9h.8v.8h-.8zM439.9 51.2h.8v.8h-.8zM511.2 53.2h.8v.8h-.8zM433.2 52.9h.8v.8h-.8zM391.2 47.8h.8v.8h-.8zM471.5 52.0h.8v.8h-.8zM302.1 46.8h.8v.8h-.8zM368.1 47.6h.8v.8h-.8zM321.1 45.9h.8v.8h-.8zM387.3 50.2h.8v.8h-.8zM305.6 50.6h.8v.8h-.8zM449.1 49.7h.8v.8h-.8zM307.5 54.2h.8v.8h-.8zM427.3 47.2h.8v.8h-.8zM426.4 46.9h.8v.8h-.8zM408.5 47.1h.8v.8h-.8zM392.0 47.2h.8v.8h-.8zM474.1 46.9h.8v.8h-.8zM359.4 47.0h.8v.8h-.8zM484.0 51.1h.8v.8h-.8zM400.3 49.3h.8v.8h-.8zM381.3 49.5h.8v.8h-.8zM475.5 48.3h.8v.8h-.8zM387.0 47.6h.8v.8h-.8zM295.0 51.1h.8v.8h-.8zM301.6 50.4h.8v.8h-.8zM328.0 44.4h.8v.8h-.8zM355.6 50.3h.8v.8h-.8zM402.1 49.4h.8v.8h-.8zM455.1 43.3h.8v.8h-.8zM511.2 48.1h.8v.8h-.8zM412.7 49.6h.8v.8h-.8zM436.8 48.7h.8v.8h-.8zM312.8 49.0h.8v.8h-.8zM295.7 47.8h.8v.8h-.8zM510.6 45.5h.8v.8h-.8zM419.3 50.1h.8v.8h-.8zM310.1 47.0h.8v.8h-.8zM451.7 50.4h.8v.8h-.8zM461.8 47.7h.8v.8h-.8zM388.5 46.8h.8v.8h-.8zM492.3 49.4h.8v.8h-.8zM423.8 50.4h.8v.8h-.8zM510.5 52.2h.8v.8h-.8zM388.5 48.9h.8v.8h-.8zM403.9 48.9h.8v.8h-.8zM419.8 47.3h.8v.8h-.8zM355.5 48.4h.8v.8h-.8zM378.0 44.2h.8v.8h-.8zM317.8 48.7h.8v.8h-.8zM411.8 44.3h.8v.8h-.8zM453.5 50.1h.8v.8h-.8zM440.6 47.7h.8v.8h-.8zM467.4 47.7h.8v.8h-.8zM354.7 53.9h.8v.8h-.8zM501.5 42.2h.8v.8h-.8zM485.2 44.8h.8v.8h-.8zM461.7 46.3h.8v.8h-.8zM417.2 50.4h.8v.8h-.8zM467.0 43.5h.8v.8h-.8zM332.5 51.1h.8v.8h-.8zM402.1 49.3h.8v.8h-.8zM349.5 49.6h.8v.8h-.8zM293.9 45.0h.8v.8h-.8zM373.5 46.8h.8v.8h-.8zM465.4 44.5h.8v.8h-.8zM302.5 47.2h.8v.8h-.8zM358.4 49.8h.8v.8h-.8zM477.3 48.5h.8v.8h-.8zM314.0 46.2h.8v.8h-.8zM436.7 46.9h.8v.8h-.8zM482.2 51.5h.8v.8h-.8zM503.8 42.4h.8v.8h-.8zM374.1 52.7h.8v.8h-.8zM346.5 48.0h.8v.8h-.8zM358.1 43.3h.8v.8h-.8zM305.7 47.6h.8v.8h-.8zM486.7 46.6h.8v.8h-.8zM376.0 45.2h.8v.8h-.8zM370.2 44.9h.8v.8h-.8zM384.2 50.6h.8v.8h-.8zM446.2 49.1h.8v.8h-.8zM287.3 47.5h.8v.8h-.8zM498.2 50.0h.8v.8h-.8zM375.5 52.8h.8v.8h-.8zM334.4 51.0h.8v.8h-.8zM420.1 48.5h.8v.8h-.8zM295.4 50.4h.8v.8h-.8zM484.4 48.5h.8v.8h-.8zM454.5 48.2h.8v.8h-.8zM378.2 50.9h.8v.8h-.8zM445.0 47.8h.8v.8h-.8zM398.2 50.7h.8v.8h-.8zM337.2 44.4h.8v.8h-.8zM398.4 50.2h.8v.8h-.8zM295.8 46.3h.8v.8h-.8zM336.0 51.0h.8v.8h-.8zM371.6 46.0h.8v.8h-.8zM324.8 47.4h.8v.8h-.8zM483.0 53.5h.8v.8h-.8zM304.7 50.6h.8v.8h-.8zM409.6 45.7h.8v.8h-.8zM426.1 47.6h.8v.8h-.8zM484.9 47.9h.8v.8h-.8zM328.7 49.1h.8v.8h-.8zM483.8 44.8h.8v.8h-.8zM372.0 45.8h.8v.8h-.8zM357.0 47.1h.8v.8h-.8zM491.8 45.2h.8v.8h-.8zM319.7 46.1h.8v.8h-.8zM490.3 51.6h.8v.8h-.8zM389.7 48.6h.8v.8h-.8zM429.2 47.1h.8v.8h-.8zM358.3 47.5h.8v.8h-.8zM325.7 46.3h.8v.8h-.8zM344.5 47.6h.8v.8h-.8zM491.7 44.3h.8v.8h-.8zM377.6 52.6h.8v.8h-.8zM341.6 50.2h.8v.8h-.8zM447.1 45.5h.8v.8h-.8zM290.0 48.5h.8v.8h-.8zM334.9 48.3h.8v.8h-.8zM484.6 45.4h.8v.8h-.8zM467.5 41.0h.8v.8h-.8zM283.6 46.7h.8v.8h-.8zM374.6 47.5h.8v.8h-.8zM482.1 48.1h.8v.8h-.8zM317.2 46.5h.8v.8h-.8zM370.3 47.3h.8v.8h-.8zM389.4 47.9h.8v.8h-.8zM435.5 49.8h.8v.8h-.8zM426.2 54.4h.8v.8h-.8zM307.3 51.7h.8v.8h-.8zM334.0 47.8h.8v.8h-.8zM395.1 50.7h.8v.8h-.8zM489.5 51.0h.8v.8h-.8zM425.7 50.3h.8v.8h-.8zM341.9 46.6h.8v.8h-.8zM485.8 50.5h.8v.8h-.8zM460.6 47.3h.8v.8h-.8zM364.8 48.4h.8v.8h-.8zM469.7 45.9h.8v.8h-.8zM429.0 49.3h.8v.8h-.8zM292.3 45.9h.8v.8h-.8zM308.8 45.1h.8v.8h-.8zM378.4 49.6h.8v.8h-.8zM404.2 46.7h.8v.8h-.8zM362.0 45.9h.8v.8h-.8zM361.7 47.5h.8v.8h-.8zM494.4 45.0h.8v.8h-.8zM359.5 39.4h.8v.8h-.8zM389.7 44.8h.8v.8h-.8zM366.9 52.2h.8v.8h-.8zM438.5 49.7h.8v.8h-.8zM344.7 51.2h.8v.8h-.8zM491.9 44.0h.8v.8h-.8zM412.6 53.1h.8v.8h-.8zM361.0 42.6h.8v.8h-.8zM441.5 46.4h.8v.8h-.8zM471.4 45.0h.8v.8h-.8zM315.0 46.8h.8v.8h-.8zM473.1 45.9h.8v.8h-.8zM352.5 45.4h.8v.8h-.8zM457.4 46.0h.8v.8h-.8zM509.7 47.9h.8v.8h-.8zM459.6 46.1h.8v.8h-.8zM442.1 43.8h.8v.8h-.8zM370.9 53.7h.8v.8h-.8zM436.5 46.7h.8v.8h-.8zM382.4 47.5h.8v.8h-.8zM486.2 48.3h.8v.8h-.8zM472.9 45.9h.8v.8h-.8zM466.7 46.7h.8v.8h-.8zM287.9 46.7h.8v.8h-.8zM422.0 49.5h.8v.8h-.8zM364.0 44.0h.8v.8h-.8zM376.9 44.8h.8v.8h-.8zM309.3 53.2h.8v.8h-.8zM390.1 48.7h.8v.8h-.8zM383.9 49.5h.8v.8h-.8zM283.1 48.5h.8v.8h-.8zM487.8 50.5h.8v.8h-.8zM391.2 49.0h.8v.8h-.8zM414.1 48.9h.8v.8h-.8zM429.1 52.0h.8v.8h-.8zM508.1 50.1h.8v.8h-.8zM306.5 49.5h.8v.8h-.8zM349.2 48.4h.8v.8h-.8zM467.5 48.9h.8v.8h-.8zM346.0 48.1h.8v.8h-.8zM465.0 43.5h.8v.8h-.8zM288.7 44.0h.8v.8h-.8zM427.5 45.7h.8v.8h-.8zM421.1 44.0h.8v.8h-.8zM405.0 50.5h.8v.8h-.8zM363.4 45.4h.8v.8h-.8zM325.8 48.4h.8v.8h-.8zM436.8 50.2h.8v.8h-.8zM285.4 45.0h.8v.8h-.8zM375.6 48.4h.8v.8h-.8zM398.5 46.9h.8v.8h-.8zM439.2 46.0h.8v.8h-.8zM286.9 47.8h.8v.8h-.8zM443.9 50.1h.8v.8h-.8zM402.9 51.4h.8v.8h-.8zM448.3 53.7h.8v.8h-.8zM454.0 52.8h.8v.8h-.8zM482.5 50.0h.8v.8h-.8zM369.5 52.1h.8v.8h-.8zM443.1 47.4h.8v.8h-.8zM499.6 45.8h.8v.8h-.8zM383.2 44.3h.8v.8h-.8zM317.6 49.1h.8v.8h-.8zM487.8 45.6h.8v.8h-.8zM316.1 53.0h.8v.8h-.8zM311.3 46.7h.8v.8h-.8zM383.6 47.3h.8v.8h-.8zM328.8 47.6h.8v.8h-.8zM439.9 44.1h.8v.8h-.8zM313.7 51.6h.8v.8h-.8zM301.6 49.3h.8v.8h-.8zM446.7 42.5h.8v.8h-.8zM470.0 46.5h.8v.8h-.8zM432.8 49.7h.8v.8h-.8zM349.5 45.6h.8v.8h-.8zM297.0 47.2h.8v.8h-.8zM427.6 44.6h.8v.8h-.8zM400.0 42.7h.8v.8h-.8zM369.0 49.9h.8v.8h-.8zM315.0 52.5h.8v.8h-.8zM487.9 47.0h.8v.8h-.8zM508.3 46.9h.8v.8h-.8zM395.6 48.9h.8v.8h-.8zM395.0 44.8h.8v.8h-.8zM340.2 51.3h.8v.8h-.8zM504.8 48.8h.8v.8h-.8zM472.7 50.4h.8v.8h-.8zM336.5 48.0h.8v.8h-.8zM376.5 46.2h.8v.8h-.8zM390.4 48.4h.8v.8h-.8zM498.1 53.1h.8v.8h-.8zM494.4 48.6h.8v.8h-.8zM383.6 48.8h.8v.8h-.8zM452.2 42.0h.8v.8h-.8zM508.8 46.4h.8v.8h-.8zM439.1 48.1h.8v.8h-.8zM297.9 50.9h.8v.8h-.8zM373.0 48.3h.8v.8h-.8zM325.3 46.0h.8v.8h-.8zM406.2 51.3h.8v.8h-.8zM308.1 46.0h.8v.8h-.8zM381.7 48.9h.8v.8h-.8zM378.6 53.0h.8v.8h-.8zM384.4 49.9h.8v.8h-.8zM385.6 46.8h.8v.8h-.8zM507.1 47.2h.8v.8h-.8zM431.2 51.3h.8v.8h-.8zM359.5 46.4h.8v.8h-.8zM473.0 46.3h.8v.8h-.8zM410.3 47.8h.8v.8h-.8zM442.4 44.9h.8v.8h-.8zM372.2 49.8h.8v.8h-.8zM357.4 50.3h.8v.8h-.8zM286.3 48.7h.8v.8h-.8zM392.8 45.2h.8v.8h-.8zM444.0 49.5h.8v.8h-.8zM446.9 48.8h.8v.8h-.8zM292.3 50.4h.8v.8h-.8zM504.0 46.0h.8v.8h-.8zM479.4 46.3h.8v.8h-.8zM382.2 49.6h.8v.8h-.8zM458.9 44.3h.8v.8h-.8zM509.6 49.3h.8v.8h-.8zM454.2 44.0h.8v.8h-.8zM395.9 47.9h.8v.8h-.8zM415.8 43.0h.8v.8h-.8zM508.7 51.2h.8v.8h-.8zM412.9 47.2h.8v.8h-.8zM412.3 47.9h.8v.8h-.8zM495.4 48.5h.8v.8h-.8zM341.2 52.8h.8v.8h-.8zM446.2 47.6h.8v.8h-.8zM460.2 51.7h.8v.8h-.8zM290.4 50.0h.8v.8h-.8zM338.8 45.6h.8v.8h-.8zM353.2 44.3h.8v.8h-.8zM323.7 46.9h.8v.8h-.8zM299.0 48.7h.8v.8h-.8zM375.1 52.0h.8v.8h-.8zM457.4 47.9h.8v.8h-.8zM417.8 45.8h.8v.8h-.8zM316.3 45.4h.8v.8h-.8zM337.1 45.9h.8v.8h-.8zM435.3 52.8h.8v.8h-.8zM408.2 53.6h.8v.8h-.8zM493.8 47.4h.8v.8h-.8zM450.4 46.7h.8v.8h-.8zM423.5 45.4h.8v.8h-.8zM456.8 51.1h.8v.8h-.8zM438.4 49.6h.8v.8h-.8zM490.9 54.9h.8v.8h-.8zM382.2 55.7h.8v.8h-.8zM361.8 44.6h.8v.8h-.8zM326.7 48.4h.8v.8h-.8zM316.0 51.3h.8v.8h-.8zM337.2 48.2h.8v.8h-.8zM422.9 47.8h.8v.8h-.8zM376.2 47.8h.8v.8h-.8zM392.4 46.4h.8v.8h-.8zM331.7 53.5h.8v.8h-.8zM366.8 48.8h.8v.8h-.8zM350.5 50.6h.8v.8h-.8zM406.7 47.3h.8v.8h-.8zM315.1 43.8h.8v.8h-.8zM471.5 51.1h.8v.8h-.8zM470.0 49.9h.8v.8h-.8zM295.0 47.3h.8v.8h-.8zM312.8 46.4h.8v.8h-.8zM367.4 45.7h.8v.8h-.8zM445.8 49.0h.8v.8h-.8zM378.4 51.8h.8v.8h-.8zM314.9 48.6h.8v.8h-.8zM465.9 46.7h.8v.8h-.8zM457.0 45.7h.8v.8h-.8zM329.9 49.4h.8v.8h-.8zM314.9 47.5h.8v.8h-.8zM411.6 45.9h.8v.8h-.8zM367.1 48.1h.8v.8h-.8zM457.3 49.8h.8v.8h-.8zM382.0 51.3h.8v.8h-.8zM318.2 52.6h.8v.8h-.8zM335.4 50.1h.8v.8h-.8zM460.8 51.1h.8v.8h-.8zM290.1 51.9h.8v.8h-.8zM473.0 46.5h.8v.8h-.8zM379.4 47.2h.8v.8h-.8zM343.0 48.7h.8v.8h-.8zM482.1 47.1h.8v.8h-.8zM473.5 53.8h.8v.8h-.8zM493.5 50.0h.8v.8h-.8zM473.6 50.4h.8v.8h-.8zM354.2 48.3h.8v.8h-.8zM404.9 48.8h.8v.8h-.8zM408.8 48.8h.8v.8h-.8zM427.7 50.3h.8v.8h-.8zM322.5 49.5h.8v.8h-.8zM379.0 43.2h.8v.8h-.8zM312.8 46.3h.8v.8h-.8zM307.0 47.4h.8v.8h-.8zM445.2 46.4h.8v.8h-.8zM339.5 47.5h.8v.8h-.8zM448.5 50.4h.8v.8h-.8zM416.8 47.1h.8v.8h-.8zM333.5 45.0h.8v.8h-.8zM352.8 49.0h.8v.8h-.8zM421.3 47.6h.8v.8h-.8zM310.1 48.1h.8v.8h-.8zM377.7 50.3h.8v.8h-.8zM418.6 50.9h.8v.8h-.8zM425.9 51.0h.8v.8h-.8zM459.4 46.0h.8v.8h-.8zM309.4 52.5h.8v.8h-.8zM418.2 44.0h.8v.8h-.8zM472.2 45.7h.8v.8h-.8zM319.7 47.4h.8v.8h-.8zM392.9 47.2h.8v.8h-.8zM487.3 43.8h.8v.8h-.8zM401.4 50.7h.8v.8h-.8zM287.3 47.5h.8v.8h-.8zM380.4 44.0h.8v.8h-.8zM336.4 47.2h.8v.8h-.8zM288.8 48.0h.8v.8h-.8zM477.7 46.6h.8v.8h-.8zM412.4 50.4h.8v.8h-.8zM459.5 50.7h.8v.8h-.8zM334.1 49.2h.8v.8h-.8zM316.9 48.1h.8v.8h-.8zM418.9 46.7h.8v.8h-.8zM494.1 45.1h.8v.8h-.8zM329.0 51.4h.8v.8h-.8zM363.3 49.2h.8v.8h-.8zM373.6 44.0h.8v.8h-.8zM348.2 51.6h.8v.8h-.8zM441.2 46.4h.8v.8h-.8zM491.5 47.4h.8v.8h-.8zM341.4 47.8h.8v.8h-.8zM443.2 49.9h.8v.8h-.8zM441.5 47.4h.8v.8h-.8zM419.1 49.3h.8v.8h-.8zM360.1 44.7h.8v.8h-.8zM283.3 47.1h.8v.8h-.8zM293.4 50.5h.8v.8h-.8zM303.0 43.6h.8v.8h-.8zM334.0 43.9h.8v.8h-.8zM353.6 50.5h.8v.8h-.8zM501.6 53.1h.8v.8h-.8zM296.0 51.4h.8v.8h-.8zM420.6 52.4h.8v.8h-.8zM491.9 47.6h.8v.8h-.8zM363.3 53.7h.8v.8h-.8zM345.7 46.7h.8v.8h-.8zM459.4 49.9h.8v.8h-.8zM372.5 47.4h.8v.8h-.8zM459.1 43.1h.8v.8h-.8zM382.1 45.7h.8v.8h-.8zM385.4 49.3h.8v.8h-.8zM483.0 50.1h.8v.8h-.8zM342.7 52.0h.8v.8h-.8zM413.4 45.5h.8v.8h-.8zM352.0 49.6h.8v.8h-.8zM472.3 48.3h.8v.8h-.8zM502.1 50.3h.8v.8h-.8zM497.1 47.8h.8v.8h-.8zM383.6 44.5h.8v.8h-.8zM470.4 52.5h.8v.8h-.8zM438.1 48.0h.8v.8h-.8zM324.8 49.5h.8v.8h-.8zM343.2 49.5h.8v.8h-.8zM354.9 51.5h.8v.8h-.8zM332.3 50.1h.8v.8h-.8zM283.7 46.6h.8v.8h-.8zM285.2 47.7h.8v.8h-.8zM410.4 48.1h.8v.8h-.8zM288.9 44.8h.8v.8h-.8zM406.4 49.0h.8v.8h-.8zM332.4 52.0h.8v.8h-.8zM469.0 42.4h.8v.8h-.8zM496.1 50.8h.8v.8h-.8zM407.2 47.9h.8v.8h-.8zM377.6 48.7h.8v.8h-.8zM334.8 46.8h.8v.8h-.8zM386.1 40.6h.8v.8h-.8zM359.8 46.1h.8v.8h-.8zM283.9 44.2h.8v.8h-.8zM304.9 51.7h.8v.8h-.8zM401.6 44.3h.8v.8h-.8zM357.8 45.4h.8v.8h-.8zM421.8 55.0h.8v.8h-.8zM412.1 46.3h.8v.8h-.8zM360.4 45.8h.8v.8h-.8zM438.5 44.9h.8v.8h-.8zM437.3 45.2h.8v.8h-.8zM363.4 51.0h.8v.8h-.8zM336.2 51.0h.8v.8h-.8zM321.9 50.2h.8v.8h-.8zM347.5 47.6h.8v.8h-.8zM378.2 50.7h.8v.8h-.8zM505.8 45.1h.8v.8h-.8zM374.6 47.8h.8v.8h-.8zM408.2 49.5h.8v.8h-.8zM400.1 45.4h.8v.8h-.8zM363.3 49.0h.8v.8h-.8zM303.4 50.0h.8v.8h-.8zM348.0 50.9h.8v.8h-.8zM414.0 49.0h.8v.8h-.8zM309.2 48.4h.8v.8h-.8zM425.6 45.5h.8v.8h-.8zM381.3 49.4h.8v.8h-.8zM310.6 44.5h.8v.8h-.8zM408.5 47.9h.8v.8h-.8zM367.7 52.6h.8v.8h-.8zM334.2 55.7h.8v.8h-.8zM310.2 49.9h.8v.8h-.8zM340.5 49.1h.8v.8h-.8zM376.9 47.9h.8v.8h-.8zM381.9 46.4h.8v.8h-.8zM505.8 44.2h.8v.8h-.8zM355.9 49.9h.8v.8h-.8zM284.1 49.2h.8v.8h-.8zM344.5 44.3h.8v.8h-.8zM305.7 44.5h.8v.8h-.8zM344.3 51.0h.8v.8h-.8zM374.3 46.1h.8v.8h-.8zM299.5 50.0h.8v.8h-.8zM423.9 48.9h.8v.8h-.8zM296.2 43.5h.8v.8h-.8zM283.5 48.2h.8v.8h-.8zM348.7 45.2h.8v.8h-.8zM451.2 50.1h.8v.8h-.8zM438.1 46.1h.8v.8h-.8zM426.2 49.3h.8v.8h-.8zM388.1 51.2h.8v.8h-.8zM416.9 46.9h.8v.8h-.8zM435.2 45.3h.8v.8h-.8zM434.7 48.6h.8v.8h-.8zM420.1 50.5h.8v.8h-.8zM396.0 48.3h.8v.8h-.8zM505.8 49.6h.8v.8h-.8zM352.6 45.3h.8v.8h-.8zM323.8 45.9h.8v.8h-.8zM381.8 49.7h.8v.8h-.8zM341.5 44.9h.8v.8h-.8zM306.3 48.7h.8v.8h-.8zM433.6 47.9h.8v.8h-.8zM339.9 46.6h.8v.8h-.8zM291.7 44.5h.8v.8h-.8zM377.1 49.0h.8v.8h-.8zM417.6 47.7h.8v.8h-.8zM295.3 47.8h.8v.8h-.8zM398.9 51.9h.8v.8h-.8zM384.9 46.4h.8v.8h-.8zM342.4 50.8h.8v.8h-.8zM457.8 51.1h.8v.8h-.8zM372.8 50.1h.8v.8h-.8zM444.7 49.4h.8v.8h-.8zM459.2 43.9h.8v.8h-.8zM372.1 51.5h.8v.8h-.8zM288.4 49.8h.8v.8h-.8zM444.3 53.5h.8v.8h-.8zM302.8 47.7h.8v.8h-.8zM393.0 50.8h.8v.8h-.8zM288.8 51.1h.8v.8h-.8zM343.3 46.8h.8v.8h-.8zM290.2 42.9h.8v.8h-.8zM447.3 45.7h.8v.8h-.8zM479.3 51.0h.8v.8h-.8zM296.1 45.6h.8v.8h-.8zM354.1 46.0h.8v.8h-.8zM332.6 47.0h.8v.8h-.8zM298.5 50.9h.8v.8h-.8zM351.3 45.4h.8v.8h-.8zM390.5 49.3h.8v.8h-.8zM426.8 47.3h.8v.8h-.8zM336.3 52.2h.8v.8h-.8zM499.7 45.7h.8v.8h-.8zM370.5 46.0h.8v.8h-.8zM363.3 48.2h.8v.8h-.8zM501.0 56.5h.8v.8h-.8zM490.6 46.7h.8v.8h-.8zM394.9 45.3h.8v.8h-.8zM381.5 43.5h.8v.8h-.8zM493.0 48.9h.8v.8h-.8zM365.2 46.3h.8v.8h-.8zM440.9 49.3h.8v.8h-.8zM327.3 50.0h.8v.8h-.8zM307.4 55.9h.8v.8h-.8zM470.5 43.4h.8v.8h-.8zM398.2 48.2h.8v.8h-.8zM383.9 44.3h.8v.8h-.8zM402.0 49.6h.8v.8h-.8zM361.6 49.7h.8v.8h-.8zM364.6 47.3h.8v.8h-.8zM337.3 46.7h.8v.8h-.8zM482.9 49.5h.8v.8h-.8zM461.1 42.4h.8v.8h-.8zM327.6 43.4h.8v.8h-.8zM467.3 48.7h.8v.8h-.8zM335.2 44.9h.8v.8h-.8zM285.5 48.7h.8v.8h-.8zM338.7 48.1h.8v.8h-.8zM385.2 44.5h.8v.8h-.8zM413.5 45.9h.8v.8h-.8zM302.5 47.9h.8v.8h-.8zM452.6 48.7h.8v.8h-.8zM458.9 45.6h.8v.8h-.8zM472.2 46.6h.8v.8h-.8zM503.9 43.9h.8v.8h-.8zM292.1 51.0h.8v.8h-.8zM460.8 47.3h.8v.8h-.8zM451.5 51.1h.8v.8h-.8zM303.4 50.3h.8v.8h-.8zM450.3 47.0h.8v.8h-.8zM345.4 50.4h.8v.8h-.8zM468.1 46.9h.8v.8h-.8zM452.4 46.6h.8v.8h-.8zM325.4 49.4h.8v.8h-.8zM458.1 44.9h.8v.8h-.8zM423.9 52.3h.8v.8h-.8zM389.0 47.9h.8v.8h-.8zM418.0 46.4h.8v.8h-.8zM353.0 47.4h.8v.8h-.8zM465.6 51.1h.8v.8h-.8zM439.9 42.2h.8v.8h-.8zM398.4 45.1h.8v.8h-.8zM431.4 50.8h.8v.8h-.8zM498.6 48.3h.8v.8h-.8zM346.7 45.7h.8v.8h-.8zM293.3 48.8h.8v.8h-.8zM373.1 45.6h.8v.8h-.8zM295.1 42.7h.8v.8h-.8zM346.4 48.5h.8v.8h-.8zM452.9 48.5h.8v.8h-.8zM419.2 44.5h.8v.8h-.8zM340.0 46.7h.8v.8h-.8zM504.0 45.2h.8v.8h-.8zM400.8 44.8h.8v.8h-.8zM425.8 52.8h.8v.8h-.8zM361.0 47.4h.8v.8h-.8zM326.1 47.1h.8v.8h-.8zM485.1 43.7h.8v.8h-.8zM332.1 49.4h.8v.8h-.8zM390.6 48.7h.8v.8h-.8zM419.5 53.0h.8v.8h-.8zM372.9 47.0h.8v.8h-.8zM331.1 49.5h.8v.8h-.8zM440.8 47.8h.8v.8h-.8zM371.2 49.4h.8v.8h-.8zM386.5 50.9h.8v.8h-.8zM375.2 48.1h.8v.8h-.8zM505.2 47.8h.8v.8h-.8zM374.0 45.5h.8v.8h-.8zM334.5 50.0h.8v.8h-.8zM429.4 50.7h.8v.8h-.8zM307.2 46.7h.8v.8h-.8zM420.6 48.5h.8v.8h-.8zM361.8 46.0h.8v.8h-.8zM375.5 44.4h.8v.8h-.8zM370.5 49.9h.8v.8h-.8zM425.1 49.2h.8v.8h-.8zM467.5 52.9h.8v.8h-.8zM492.0 53.7h.8v.8h-.8zM366.6 44.5h.8v.8h-.8zM358.3 47.4h.8v.8h-.8zM366.7 47.8h.8v.8h-.8zM382.9 45.4h.8v.8h-.8zM411.7 50.5h.8v.8h-.8zM350.3 50.3h.8v.8h-.8zM321.2 44.3h.8v.8h-.8zM403.2 47.7h.8v.8h-.8zM397.1 47.0h.8v.8h-.8zM507.4 45.9h.8v.8h-.8zM331.9 51.7h.8v.8h-.8zM441.9 48.5h.8v.8h-.8zM370.4 46.4h.8v.8h-.8zM338.6 49.7h.8v.8h-.8zM464.0 49.7h.8v.8h-.8zM412.1 46.7h.8v.8h-.8zM388.1 51.2h.8v.8h-.8zM404.6 51.4h.8v.8h-.8zM509.5 53.0h.8v.8h-.8zM342.9 45.3h.8v.8h-.8zM308.1 48.8h.8v.8h-.8zM440.1 47.1h.8v.8h-.8zM323.1 48.1h.8v.8h-.8zM303.0 47.5h.8v.8h-.8zM481.4 45.5h.8v.8h-.8zM505.2 48.0h.8v.8h-.8zM462.3 48.9h.8v.8h-.8zM371.1 52.3h.8v.8h-.8zM389.1 47.6h.8v.8h-.8zM352.2 50.0h.8v.8h-.8zM345.4 50.3h.8v.8h-.8zM369.6 53.2h.8v.8h-.8zM411.2 49.8h.8v.8h-.8zM318.8 44.7h.8v.8h-.8zM500.8 52.8h.8v.8h-.8zM358.3 46.2h.8v.8h-.8zM472.8 47.9h.8v.8h-.8zM369.3 47.8h.8v.8h-.8zM442.6 42.2h.8v.8h-.8zM463.7 46.6h.8v.8h-.8zM474.2 50.7h.8v.8h-.8zM490.5 48.0h.8v.8h-.8zM283.6 48.6h.8v.8h-.8zM397.2 47.2h.8v.8h-.8zM383.8 51.6h.8v.8h-.8zM463.0 49.9h.8v.8h-.8zM334.1 48.4h.8v.8h-.8zM403.8 52.8h.8v.8h-.8zM287.2 46.1h.8v.8h-.8zM346.1 54.1h.8v.8h-.8zM349.1 43.1h.8v.8h-.8zM468.0 49.9h.8v.8h-.8zM371.0 48.0h.8v.8h-.8zM297.8 47.8h.8v.8h-.8zM368.0 47.3h.8v.8h-.8zM292.8 47.2h.8v.8h-.8zM478.1 48.6h.8v.8h-.8zM302.6 49.1h.8v.8h-.8zM301.1 47.5h.8v.8h-.8zM433.1 51.6h.8v.8h-.8zM348.3 46.0h.8v.8h-.8zM415.6 48.1h.8v.8h-.8zM307.9 48.3h.8v.8h-.8zM493.9 48.3h.8v.8h-.8zM330.8 46.7h.8v.8h-.8zM384.6 47.7h.8v.8h-.8zM343.5 45.4h.8v.8h-.8zM476.1 44.8h.8v.8h-.8zM505.7 45.1h.8v.8h-.8zM363.3 49.2h.8v.8h-.8zM348.9 41.3h.8v.8h-.8zM295.7 47.9h.8v.8h-.8zM453.8 46.7h.8v.8h-.8zM343.7 51.4h.8v.8h-.8zM447.3 46.1h.8v.8h-.8zM385.4 48.4h.8v.8h-.8zM284.1 52.9h.8v.8h-.8zM301.8 51.6h.8v.8h-.8zM373.9 48.0h.8v.8h-.8zM495.8 47.7h.8v.8h-.8zM330.2 51.0h.8v.8h-.8zM417.0 47.6h.8v.8h-.8zM421.0 50.9h.8v.8h-.8zM454.3 49.9h.8v.8h-.8zM463.5 47.9h.8v.8h-.8zM312.3 44.4h.8v.8h-.8zM376.5 47.6h.8v.8h-.8zM458.1 48.3h.8v.8h-.8zM306.3 46.4h.8v.8h-.8zM320.3 47.5h.8v.8h-.8zM500.8 45.2h.8v.8h-.8zM421.6 45.4h.8v.8h-.8zM412.0 49.0h.8v.8h-.8zM369.5 47.6h.8v.8h-.8zM333.0 46.2h.8v.8h-.8zM493.5 46.8h.8v.8h-.8zM336.3 47.6h.8v.8h-.8zM447.8 54.1h.8v.8h-.8zM381.1 45.3h.8v.8h-.8zM317.0 51.3h.8v.8h-.8zM448.0 49.0h.8v.8h-.8zM299.9 53.0h.8v.8h-.8zM492.0 48.7h.8v.8h-.8zM319.5 47.9h.8v.8h-.8zM492.0 49.2h.8v.8h-.8zM466.1 46.3h.8v.8h-.8zM415.6 48.4h.8v.8h-.8zM377.8 52.3h.8v.8h-.8zM315.5 50.8h.8v.8h-.8zM338.7 45.0h.8v.8h-.8zM380.6 47.3h.8v.8h-.8zM341.9 46.0h.8v.8h-.8zM403.3 49.4h.8v.8h-.8zM340.6 47.9h.8v.8h-.8zM393.4 56.4h.8v.8h-.8zM284.9 47.5h.8v.8h-.8zM429.7 49.4h.8v.8h-.8zM314.0 49.7h.8v.8h-.8zM397.3 55.0h.8v.8h-.8zM366.9 48.0h.8v.8h-.8zM488.3 47.9h.8v.8h-.8zM488.9 47.4h.8v.8h-.8zM345.5 49.7h.8v.8h-.8zM488.7 48.1h.8v.8h-.8zM400.2 46.7h.8v.8h-.8zM394.6 48.1h.8v.8h-.8zM456.6 41.5h.8v.8h-.8zM405.2 45.8h.8v.8h-.8zM489.7 51.1h.8v.8h-.8zM420.1 51.5h.8v.8h-.8zM484.8 46.8h.8v.8h-.8zM468.8 50.8h.8v.8h-.8zM341.5 44.8h.8v.8h-.8zM431.2 51.9h.8v.8h-.8zM394.9 52.7h.8v.8h-.8zM377.9 48.7h.8v.8h-.8zM337.3 47.2h.8v.8h-.8zM475.2 49.2h.8v.8h-.8zM465.3 52.1h.8v.8h-.8zM319.8 47.5h.8v.8h-.8zM379.6 48.4h.8v.8h-.8zM361.2 48.3h.8v.8h-.8zM317.1 49.3h.8v.8h-.8zM424.5 50.1h.8v.8h-.8zM298.4 50.2h.8v.8h-.8zM322.6 46.3h.8v.8h-.8zM306.1 45.9h.8v.8h-.8zM397.5 47.9h.8v.8h-.8zM307.7 46.4h.8v.8h-.8zM302.3 50.7h.8v.8h-.8zM397.6 50.2h.8v.8h-.8zM312.5 45.4h.8v.8h-.8zM427.3 49.5h.8v.8h-.8zM285.2 49.0h.8v.8h-.8zM404.3 49.2h.8v.8h-.8zM310.6 50.2h.8v.8h-.8zM487.6 50.7h.8v.8h-.8zM467.3 51.4h.8v.8h-.8zM385.7 46.3h.8v.8h-.8zM470.1 47.1h.8v.8h-.8zM439.7 51.9h.8v.8h-.8zM315.2 50.2h.8v.8h-.8zM393.0 49.5h.8v.8h-.8zM432.8 51.0h.8v.8h-.8zM450.6 47.9h.8v.8h-.8zM385.9 49.1h.8v.8h-.8zM492.0 44.9h.8v.8h-.8zM458.0 47.1h.8v.8h-.8zM428.9 54.4h.8v.8h-.8zM451.8 46.3h.8v.8h-.8zM467.5 49.6h.8v.8h-.8zM445.5 49.9h.8v.8h-.8zM415.7 51.2h.8v.8h-.8zM358.8 44.9h.8v.8h-.8zM322.2 47.6h.8v.8h-.8zM396.1 47.2h.8v.8h-.8zM346.0 45.2h.8v.8h-.8zM427.8 50.5h.8v.8h-.8zM424.2 53.4h.8v.8h-.8zM444.1 50.3h.8v.8h-.8zM490.4 45.4h.8v.8h-.8zM486.1 45.9h.8v.8h-.8zM453.6 47.8h.8v.8h-.8zM288.5 47.7h.8v.8h-.8zM446.9 49.8h.8v.8h-.8zM331.1 46.2h.8v.8h-.8zM383.9 50.7h.8v.8h-.8zM312.8 44.6h.8v.8h-.8zM329.1 49.4h.8v.8h-.8zM340.3 52.5h.8v.8h-.8zM486.1 46.9h.8v.8h-.8zM378.0 49.2h.8v.8h-.8zM315.0 48.7h.8v.8h-.8zM378.3 47.9h.8v.8h-.8zM369.6 50.1h.8v.8h-.8zM509.1 48.7h.8v.8h-.8zM479.4 43.7h.8v.8h-.8zM490.6 50.8h.8v.8h-.8zM479.0 47.8h.8v.8h-.8zM399.9 45.0h.8v.8h-.8zM446.8 42.7h.8v.8h-.8zM324.2 44.1h.8v.8h-.8zM488.4 48.4h.8v.8h-.8zM476.9 45.5h.8v.8h-.8zM348.4 45.7h.8v.8h-.8zM504.7 50.5h.8v.8h-.8zM338.4 50.5h.8v.8h-.8zM493.3 45.2h.8v.8h-.8zM351.6 45.5h.8v.8h-.8zM485.1 43.6h.8v.8h-.8zM442.6 50.3h.8v.8h-.8zM409.3 45.2h.8v.8h-.8zM327.0 41.2h.8v.8h-.8zM499.3 47.5h.8v.8h-.8zM292.6 47.7h.8v.8h-.8zM475.5 50.1h.8v.8h-.8zM324.6 48.5h.8v.8h-.8zM360.7 46.6h.8v.8h-.8zM505.3 50.7h.8v.8h-.8zM345.8 50.7h.8v.8h-.8zM455.8 51.9h.8v.8h-.8zM341.9 49.9h.8v.8h-.8zM501.8 46.5h.8v.8h-.8zM289.6 51.7h.8v.8h-.8zM497.8 44.5h.8v.8h-.8zM453.0 44.0h.8v.8h-.8zM296.8 48.2h.8v.8h-.8zM328.9 45.8h.8v.8h-.8zM486.6 47.1h.8v.8h-.8zM299.4 46.2h.8v.8h-.8zM431.4 50.1h.8v.8h-.8zM294.1 49.0h.8v.8h-.8zM322.4 48.3h.8v.8h-.8zM508.4 46.2h.8v.8h-.8zM346.8 49.6h.8v.8h-.8zM430.1 44.3h.8v.8h-.8zM421.3 51.4h.8v.8h-.8zM493.9 52.1h.8v.8h-.8zM404.4 48.7h.8v.8h-.8zM341.5 49.3h.8v.8h-.8zM505.2 47.4h.8v.8h-.8zM403.1 50.2h.8v.8h-.8zM290.9 49.4h.8v.8h-.8zM353.3 43.9h.8v.8h-.8zM289.8 52.1h.8v.8h-.8zM457.6 45.5h.8v.8h-.8zM331.1 51.9h.8v.8h-.8zM290.3 47.2h.8v.8h-.8zM507.4 47.8h.8v.8h-.8zM486.6 46.7h.8v.8h-.8zM419.5 47.9h.8v.8h-.8zM331.8 47.8h.8v.8h-.8zM464.1 50.0h.8v.8h-.8zM298.9 48.4h.8v.8h-.8zM416.2 51.3h.8v.8h-.8zM386.3 51.8h.8v.8h-.8zM461.8 54.2h.8v.8h-.8zM326.8 44.7h.8v.8h-.8zM366.3 48.9h.8v.8h-.8zM497.4 46.1h.8v.8h-.8zM359.9 46.9h.8v.8h-.8zM448.3 46.9h.8v.8h-.8zM347.8 44.6h.8v.8h-.8zM472.3 50.3h.8v.8h-.8zM315.0 49.1h.8v.8h-.8zM458.4 49.9h.8v.8h-.8zM437.1 47.3h.8v.8h-.8zM336.5 43.7h.8v.8h-.8zM396.5 50.7h.8v.8h-.8zM420.4 48.4h.8v.8h-.8zM342.5 48.8h.8v.8h-.8zM384.0 46.6h.8v.8h-.8zM439.4 49.0h.8v.8h-.8zM374.5 52.1h.8v.8h-.8zM294.1 51.3h.8v.8h-.8zM471.0 50.6h.8v.8h-.8zM438.4 50.8h.8v.8h-.8zM461.0 45.4h.8v.8h-.8zM474.6 45.7h.8v.8h-.8zM319.9 46.5h.8v.8h-.8zM337.0 49.4h.8v.8h-.8zM372.6 48.9h.8v.8h-.8zM349.8 43.8h.8v.8h-.8zM344.5 46.4h.8v.8h-.8zM487.5 49.2h.8v.8h-.8zM417.8 46.8h.8v.8h-.8zM328.1 50.0h.8v.8h-.8zM329.7 49.0h.8v.8h-.8zM284.7 53.0h.8v.8h-.8zM480.8 49.1h.8v.8h-.8zM480.4 48.8h.8v.8h-.8zM479.0 48.6h.8v.8h-.8zM368.6 46.0h.8v.8h-.8zM404.3 51.6h.8v.8h-.8zM358.3 49.1h.8v.8h-.8zM445.8 49.3h.8v.8h-.8zM490.0 50.1h.8v.8h-.8zM403.0 48.7h.8v.8h-.8zM343.9 45.2h.8v.8h-.8zM343.3 48.5h.8v.8h-.8zM309.8 44.2h.8v.8h-.8zM314.6 50.6h.8v.8h-.8zM406.0 49.6h.8v.8h-.8zM362.3 45.2h.8v.8h-.8zM495.2 50.0h.8v.8h-.8zM351.5 39.6h.8v.8h-.8zM393.6 43.6h.8v.8h-.8zM424.7 49.8h.8v.8h-.8zM408.8 42.9h.8v.8h-.8zM363.7 47.8h.8v.8h-.8zM313.0 49.2h.8v.8h-.8zM304.9 50.0h.8v.8h-.8zM506.2 43.9h.8v.8h-.8zM386.8 46.7h.8v.8h-.8zM402.2 49.1h.8v.8h-.8zM379.1 53.7h.8v.8h-.8zM375.8 48.0h.8v.8h-.8zM511.0 43.1h.8v.8h-.8zM393.0 44.0h.8v.8h-.8zM380.1 50.5h.8v.8h-.8zM329.3 46.1h.8v.8h-.8zM341.9 48.6h.8v.8h-.8zM459.6 46.2h.8v.8h-.8zM352.2 51.3h.8v.8h-.8zM309.1 49.2h.8v.8h-.8zM444.1 43.9h.8v.8h-.8zM422.4 49.7h.8v.8h-.8zM473.4 51.0h.8v.8h-.8zM462.3 45.2h.8v.8h-.8zM322.0 46.3h.8v.8h-.8zM295.6 48.6h.8v.8h-.8zM341.0 47.9h.8v.8h-.8zM374.4 47.1h.8v.8h-.8zM481.1 44.5h.8v.8h-.8zM495.6 48.0h.8v.8h-.8zM310.9 50.2h.8v.8h-.8zM358.4 53.6h.8v.8h-.8zM414.4 52.3h.8v.8h-.8zM395.3 53.7h.8v.8h-.8zM339.0 50.3h.8v.8h-.8zM458.9 48.9h.8v.8h-.8zM314.3 50.3h.8v.8h-.8zM405.3 47.6h.8v.8h-.8zM446.5 51.6h.8v.8h-.8zM334.6 50.4h.8v.8h-.8zM374.4 50.6h.8v.8h-.8zM385.1 47.2h.8v.8h-.8zM311.0 49.4h.8v.8h-.8zM449.2 45.7h.8v.8h-.8zM429.0 45.3h.8v.8h-.8zM400.3 50.2h.8v.8h-.8zM404.8 53.7h.8v.8h-.8zM387.7 48.1h.8v.8h-.8zM507.2 50.8h.8v.8h-.8zM375.9 48.7h.8v.8h-.8zM420.0 47.0h.8v.8h-.8zM345.1 48.5h.8v.8h-.8zM373.6 50.5h.8v.8h-.8zM430.1 44.0h.8v.8h-.8zM318.4 51.1h.8v.8h-.8zM478.5 44.0h.8v.8h-.8zM373.2 50.1h.8v.8h-.8zM341.8 51.2h.8v.8h-.8zM448.1 46.0h.8v.8h-.8zM402.4 46.7h.8v.8h-.8zM452.3 42.0h.8v.8h-.8zM504.5 47.0h.8v.8h-.8zM484.9 50.1h.8v.8h-.8zM473.6 50.4h.8v.8h-.8zM377.6 46.5h.8v.8h-.8zM499.6 48.8h.8v.8h-.8zM322.3 49.8h.8v.8h-.8zM352.2 46.1h.8v.8h-.8zM388.2 49.6h.8v.8h-.8zM291.1 46.6h.8v.8h-.8zM295.4 50.9h.8v.8h-.8zM393.1 51.4h.8v.8h-.8zM499.3 46.2h.8v.8h-.8zM479.6 47.8h.8v.8h-.8zM296.6 48.3h.8v.8h-.8zM414.7 49.6h.8v.8h-.8zM313.1 46.4h.8v.8h-.8zM456.5 45.5h.8v.8h-.8zM312.2 47.6h.8v.8h-.8zM409.6 44.6h.8v.8h-.8zM489.2 46.5h.8v.8h-.8zM300.3 49.4h.8v.8h-.8zM378.0 46.3h.8v.8h-.8zM361.6 49.3h.8v.8h-.8zM299.3 45.7h.8v.8h-.8zM391.4 48.6h.8v.8h-.8zM294.6 48.7h.8v.8h-.8zM370.0 48.2h.8v.8h-.8zM314.3 48.3h.8v.8h-.8zM489.2 41.3h.8v.8h-.8zM407.0 46.3h.8v.8h-.8zM501.1 47.4h.8v.8h-.8zM294.5 45.9h.8v.8h-.8zM316.8 49.3h.8v.8h-.8zM351.0 44.6h.8v.8h-.8zM320.3 44.5h.8v.8h-.8zM339.8 43.7h.8v.8h-.8zM510.9 46.6h.8v.8h-.8zM324.7 47.9h.8v.8h-.8zM445.7 49.9h.8v.8h-.8zM337.4 47.5h.8v.8h-.8zM315.7 48.8h.8v.8h-.8zM378.4 50.1h.8v.8h-.8zM337.4 47.3h.8v.8h-.8zM343.9 46.7h.8v.8h-.8zM378.7 48.7h.8v.8h-.8zM303.7 49.0h.8v.8h-.8zM284.1 47.9h.8v.8h-.8zM392.6 47.6h.8v.8h-.8zM486.2 46.6h.8v.8h-.8zM374.9 46.8h.8v.8h-.8zM380.7 47.9h.8v.8h-.8zM318.8 49.1h.8v.8h-.8zM315.7 48.9h.8v.8h-.8zM306.5 50.5h.8v.8h-.8zM423.8 49.3h.8v.8h-.8zM441.5 51.3h.8v.8h-.8zM396.7 48.0h.8v.8h-.8zM385.3 43.8h.8v.8h-.8zM331.5 52.2h.8v.8h-.8zM367.0 49.4h.8v.8h-.8zM349.5 49.7h.8v.8h-.8zM486.8 49.1h.8v.8h-.8zM390.9 51.2h.8v.8h-.8zM339.7 44.2h.8v.8h-.8zM334.7 49.7h.8v.8h-.8zM419.8 47.1h.8v.8h-.8zM497.1 45.6h.8v.8h-.8zM501.9 48.9h.8v.8h-.8zM480.3 52.0h.8v.8h-.8zM334.2 46.5h.8v.8h-.8zM294.0 54.1h.8v.8h-.8zM407.1 49.1h.8v.8h-.8zM484.9 50.1h.8v.8h-.8zM504.8 47.8h.8v.8h-.8zM345.6 49.2h.8v.8h-.8zM510.6 50.2h.8v.8h-.8zM497.8 46.5h.8v.8h-.8zM471.3 50.7h.8v.8h-.8zM466.8 50.3h.8v.8h-.8zM336.1 46.8h.8v.8h-.8zM400.2 51.6h.8v.8h-.8zM482.3 46.9h.8v.8h-.8zM327.9 42.5h.8v.8h-.8zM413.5 48.0h.8v.8h-.8zM464.5 49.3h.8v.8h-.8zM440.6 45.7h.8v.8h-.8zM441.2 45.4h.8v.8h-.8zM468.2 49.5h.8v.8h-.8zM484.5 50.8h.8v.8h-.8zM437.6 48.1h.8v.8h-.8zM408.9 49.5h.8v.8h-.8zM389.7 46.8h.8v.8h-.8zM341.6 49.6h.8v.8h-.8zM284.5 44.4h.8v.8h-.8zM307.8 50.5h.8v.8h-.8zM460.2 51.0h.8v.8h-.8zM361.6 51.3h.8v.8h-.8zM423.5 50.0h.8v.8h-.8zM381.4 48.0h.8v.8h-.8zM336.1 50.7h.8v.8h-.8zM468.8 45.3h.8v.8h-.8zM408.5 51.1h.8v.8h-.8zM335.4 47.6h.8v.8h-.8zM480.3 52.1h.8v.8h-.8zM492.7 49.4h.8v.8h-.8zM305.7 50.0h.8v.8h-.8zM326.3 45.2h.8v.8h-.8zM492.4 51.0h.8v.8h-.8zM418.1 49.8h.8v.8h-.8zM315.8 50.3h.8v.8h-.8zM346.9 45.6h.8v.8h-.8zM322.3 46.9h.8v.8h-.8zM346.1 51.2h.8v.8h-.8zM420.5 46.1h.8v.8h-.8zM356.6 47.0h.8v.8h-.8zM286.4 52.5h.8v.8h-.8zM432.5 51.9h.8v.8h-.8zM294.0 47.3h.8v.8h-.8zM290.7 48.7h.8v.8h-.8zM379.5 46.7h.8v.8h-.8zM431.9 47.3h.8v.8h-.8zM439.0 46.4h.8v.8h-.8zM491.9 45.7h.8v.8h-.8zM439.7 48.8h.8v.8h-.8zM482.6 46.0h.8v.8h-.8zM461.7 42.8h.8v.8h-.8zM501.7 48.3h.8v.8h-.8zM330.9 52.2h.8v.8h-.8zM309.8 44.9h.8v.8h-.8zM350.3 53.6h.8v.8h-.8zM353.6 54.9h.8v.8h-.8zM456.2 45.0h.8v.8h-.8zM363.6 48.7h.8v.8h-.8zM285.3 47.4h.8v.8h-.8zM297.4 47.3h.8v.8h-.8zM479.4 50.0h.8v.8h-.8zM385.1 50.1h.8v.8h-.8zM368.1 45.9h.8v.8h-.8zM360.6 51.0h.8v.8h-.8zM500.4 49.1h.8v.8h-.8zM505.1 49.4h.8v.8h-.8zM384.1 47.8h.8v.8h-.8zM473.6 48.8h.8v.8h-.8zM330.0 49.1h.8v.8h-.8zM302.2 48.0h.8v.8h-.8zM509.0 44.2h.8v.8h-.8zM294.6 46.9h.8v.8h-.8zM323.8 43.9h.8v.8h-.8zM301.1 52.9h.8v.8h-.8zM298.8 47.7h.8v.8h-.8zM325.8 47.4h.8v.8h-.8zM382.7 47.0h.8v.8h-.8zM317.3 50.8h.8v.8h-.8zM407.0 49.9h.8v.8h-.8zM476.6 50.7h.8v.8h-.8zM299.5 48.4h.8v.8h-.8zM409.3 49.5h.8v.8h-.8zM504.6 50.3h.8v.8h-.8zM431.5 46.6h.8v.8h-.8zM329.1 45.2h.8v.8h-.8zM439.5 49.4h.8v.8h-.8zM474.8 48.1h.8v.8h-.8zM361.6 49.4h.8v.8h-.8zM477.5 51.9h.8v.8h-.8zM321.2 49.3h.8v.8h-.8zM329.8 51.2h.8v.8h-.8zM398.9 48.9h.8v.8h-.8zM380.8 48.3h.8v.8h-.8zM329.2 50.0h.8v.8h-.8zM499.6 51.3h.8v.8h-.8zM390.4 44.5h.8v.8h-.8zM479.4 46.9h.8v.8h-.8zM504.0 47.5h.8v.8h-.8zM492.5 49.7h.8v.8h-.8zM421.3 49.4h.8v.8h-.8zM463.4 47.3h.8v.8h-.8zM310.0 49.2h.8v.8h-.8zM365.7 49.3h.8v.8h-.8zM377.9 44.9h.8v.8h-.8zM381.2 43.2h.8v.8h-.8zM415.2 46.1h.8v.8h-.8zM343.6 49.7h.8v.8h-.8zM284.2 48.1h.8v.8h-.8zM465.6 52.5h.8v.8h-.8zM439.8 45.8h.8v.8h-.8zM326.2 49.3h.8v.8h-.8zM338.5 51.8h.8v.8h-.8zM375.4 48.3h.8v.8h-.8zM405.3 46.1h.8v.8h-.8zM378.5 48.4h.8v.8h-.8zM381.4 52.7h.8v.8h-.8zM348.9 45.0h.8v.8h-.8zM387.1 49.4h.8v.8h-.8zM314.1 54.6h.8v.8h-.8zM393.1 51.2h.8v.8h-.8zM388.1 48.5h.8v.8h-.8zM286.3 50.1h.8v.8h-.8zM391.3 50.8h.8v.8h-.8zM352.4 50.5h.8v.8h-.8zM362.5 49.1h.8v.8h-.8zM306.7 46.8h.8v.8h-.8zM404.6 47.2h.8v.8h-.8zM445.3 51.3h.8v.8h-.8zM428.6 48.6h.8v.8h-.8zM487.4 46.5h.8v.8h-.8zM434.5 43.7h.8v.8h-.8zM334.3 50.0h.8v.8h-.8zM394.3 44.3h.8v.8h-.8zM494.5 53.7h.8v.8h-.8zM364.7 50.0h.8v.8h-.8zM407.0 48.8h.8v.8h-.8zM396.4 46.8h.8v.8h-.8zM286.5 54.6h.8v.8h-.8zM333.2 49.8h.8v.8h-.8zM380.6 52.7h.8v.8h-.8zM398.9 52.4h.8v.8h-.8zM478.5 47.9h.8v.8h-.8zM339.5 51.2h.8v.8h-.8zM417.8 47.4h.8v.8h-.8zM416.6 45.0h.8v.8h-.8zM353.9 48.8h.8v.8h-.8zM321.1 48.1h.8v.8h-.8zM435.6 53.3h.8v.8h-.8zM339.3 47.4h.8v.8h-.8zM498.6 45.0h.8v.8h-.8zM431.0 49.2h.8v.8h-.8zM424.2 52.3h.8v.8h-.8zM355.2 44.5h.8v.8h-.8zM486.9 46.7h.8v.8h-.8zM319.1 51.9h.8v.8h-.8zM428.8 45.7h.8v.8h-.8zM435.0 56.3h.8v.8h-.8zM371.5 49.6h.8v.8h-.8zM453.7 48.0h.8v.8h-.8zM431.2 51.2h.8v.8h-.8zM309.6 48.6h.8v.8h-.8zM511.6 51.3h.8v.8h-.8zM407.2 50.5h.8v.8h-.8zM311.6 51.4h.8v.8h-.8zM424.3 46.9h.8v.8h-.8zM343.2 49.6h.8v.8h-.8zM290.9 50.2h.8v.8h-.8zM329.0 45.7h.8v.8h-.8zM456.8 48.4h.8v.8h-.8zM315.4 49.2h.8v.8h-.8zM440.1 51.3h.8v.8h-.8zM354.9 48.7h.8v.8h-.8zM366.1 49.6h.8v.8h-.8zM369.7 48.9h.8v.8h-.8zM360.8 46.5h.8v.8h-.8zM453.4 48.5h.8v.8h-.8zM505.3 49.0h.8v.8h-.8zM492.1 47.4h.8v.8h-.8zM388.2 50.2h.8v.8h-.8zM331.1 49.5h.8v.8h-.8zM445.8 43.0h.8v.8h-.8zM374.3 51.6h.8v.8h-.8zM325.0 43.1h.8v.8h-.8zM435.8 51.9h.8v.8h-.8zM464.9 55.0h.8v.8h-.8zM376.7 48.2h.8v.8h-.8zM297.5 46.1h.8v.8h-.8zM400.4 50.9h.8v.8h-.8zM478.0 49.6h.8v.8h-.8zM414.9 48.1h.8v.8h-.8zM410.6 50.1h.8v.8h-.8zM399.4 49.6h.8v.8h-.8zM389.5 47.4h.8v.8h-.8zM385.4 47.1h.8v.8h-.8zM370.6 49.5h.8v.8h-.8zM407.1 49.1h.8v.8h-.8zM403.4 50.4h.8v.8h-.8zM497.9 45.9h.8v.8h-.8zM290.9 48.6h.8v.8h-.8zM401.4 47.6h.8v.8h-.8zM391.4 49.4h.8v.8h-.8zM423.8 45.8h.8v.8h-.8zM427.5 51.7h.8v.8h-.8zM297.3 51.3h.8v.8h-.8zM421.4 49.3h.8v.8h-.8zM410.3 48.6h.8v.8h-.8zM447.1 50.7h.8v.8h-.8zM373.7 46.5h.8v.8h-.8zM426.8 48.0h.8v.8h-.8zM392.6 52.7h.8v.8h-.8zM466.6 48.4h.8v.8h-.8zM508.6 52.1h.8v.8h-.8zM389.7 46.9h.8v.8h-.8zM343.7 47.5h.8v.8h-.8zM356.8 45.7h.8v.8h-.8zM309.7 45.1h.8v.8h-.8zM458.9 45.8h.8v.8h-.8zM317.9 49.3h.8v.8h-.8zM312.6 51.9h.8v.8h-.8zM485.6 51.6h.8v.8h-.8zM342.8 46.7h.8v.8h-.8zM411.6 48.5h.8v.8h-.8zM431.5 45.9h.8v.8h-.8zM420.5 52.1h.8v.8h-.8zM436.0 45.9h.8v.8h-.8zM407.6 51.0h.8v.8h-.8zM440.5 46.0h.8v.8h-.8zM354.0 50.9h.8v.8h-.8zM333.8 50.4h.8v.8h-.8zM504.7 49.3h.8v.8h-.8zM359.2 53.7h.8v.8h-.8zM326.8 46.3h.8v.8h-.8zM510.2 47.2h.8v.8h-.8zM424.2 50.1h.8v.8h-.8zM308.6 49.6h.8v.8h-.8zM395.8 46.1h.8v.8h-.8zM436.8 47.9h.8v.8h-.8zM384.7 50.0h.8v.8h-.8zM342.1 44.8h.8v.8h-.8zM472.7 50.2h.8v.8h-.8zM289.5 48.7h.8v.8h-.8zM500.5 43.4h.8v.8h-.8zM509.3 47.2h.8v.8h-.8zM303.9 48.7h.8v.8h-.8zM443.2 48.0h.8v.8h-.8zM464.3 44.2h.8v.8h-.8zM458.3 51.9h.8v.8h-.8zM396.7 48.0h.8v.8h-.8zM300.4 49.8h.8v.8h-.8zM406.8 46.6h.8v.8h-.8zM404.3 48.0h.8v.8h-.8zM301.1 47.1h.8v.8h-.8zM317.6 52.0h.8v.8h-.8zM402.5 51.9h.8v.8h-.8zM331.3 52.3h.8v.8h-.8zM495.9 54.2h.8v.8h-.8zM347.5 45.0h.8v.8h-.8zM438.8 54.6h.8v.8h-.8zM441.2 51.3h.8v.8h-.8zM291.4 49.1h.8v.8h-.8zM362.5 49.2h.8v.8h-.8zM497.2 48.9h.8v.8h-.8zM468.1 46.1h.8v.8h-.8zM285.4 45.8h.8v.8h-.8zM300.3 47.6h.8v.8h-.8zM493.2 43.6h.8v.8h-.8zM429.3 41.1h.8v.8h-.8zM425.0 50.4h.8v.8h-.8zM488.0 50.4h.8v.8h-.8zM410.7 46.4h.8v.8h-.8zM364.9 46.1h.8v.8h-.8zM285.7 48.6h.8v.8h-.8zM303.9 49.9h.8v.8h-.8zM295.4 48.6h.8v.8h-.8zM442.5 39.8h.8v.8h-.8zM472.9 49.6h.8v.8h-.8zM370.0 53.2h.8v.8h-.8zM478.4 48.5h.8v.8h-.8zM403.4 50.5h.8v.8h-.8zM334.1 48.1h.8v.8h-.8zM463.4 52.5h.8v.8h-.8zM507.7 46.9h.8v.8h-.8zM390.2 46.3h.8v.8h-.8zM416.9 43.4h.8v.8h-.8zM412.6 45.1h.8v.8h-.8zM502.8 45.5h.8v.8h-.8zM289.6 48.7h.8v.8h-.8zM357.1 47.9h.8v.8h-.8zM383.5 48.3h.8v.8h-.8zM309.5 47.7h.8v.8h-.8zM492.3 53.7h.8v.8h-.8zM309.2 45.7h.8v.8h-.8zM295.3 46.7h.8v.8h-.8zM351.0 45.6h.8v.8h-.8zM413.2 47.7h.8v.8h-.8zM298.1 45.6h.8v.8h-.8zM326.4 46.0h.8v.8h-.8zM412.6 53.3h.8v.8h-.8zM424.0 46.1h.8v.8h-.8zM402.0 48.3h.8v.8h-.8zM444.6 45.4h.8v.8h-.8zM368.2 44.3h.8v.8h-.8zM416.8 46.9h.8v.8h-.8zM420.8 46.5h.8v.8h-.8zM432.8 49.9h.8v.8h-.8zM384.9 45.9h.8v.8h-.8zM349.4 49.2h.8v.8h-.8zM426.1 49.5h.8v.8h-.8zM431.5 47.1h.8v.8h-.8zM404.5 45.8h.8v.8h-.8zM374.5 45.4h.8v.8h-.8zM285.4 46.2h.8v.8h-.8zM426.9 50.7h.8v.8h-.8zM494.9 46.2h.8v.8h-.8zM363.1 45.1h.8v.8h-.8zM464.6 52.0h.8v.8h-.8zM394.9 52.2h.8v.8h-.8zM386.7 47.1h.8v.8h-.8zM510.6 45.3h.8v.8h-.8zM310.6 51.5h.8v.8h-.8zM334.7 49.7h.8v.8h-.8zM335.0 51.5h.8v.8h-.8zM350.0 48.3h.8v.8h-.8zM366.4 48.6h.8v.8h-.8zM313.8 50.3h.8v.8h-.8zM506.2 48.1h.8v.8h-.8zM307.9 45.9h.8v.8h-.8zM506.0 49.2h.8v.8h-.8zM481.7 47.6h.8v.8h-.8zM409.0 51.1h.8v.8h-.8zM382.6 48.0h.8v.8h-.8zM284.9 46.6h.8v.8h-.8zM484.4 47.4h.8v.8h-.8zM334.2 50.0h.8v.8h-.8zM467.4 46.7h.8v.8h-.8zM446.2 51.4h.8v.8h-.8zM365.4 46.9h.8v.8h-.8zM343.1 48.4h.8v.8h-.8zM351.4 49.5h.8v.8h-.8zM355.5 48.4h.8v.8h-.8zM397.8 48.0h.8v.8h-.8zM399.0 50.5h.8v.8h-.8zM330.4 51.7h.8v.8h-.8zM452.9 50.9h.8v.8h-.8zM354.3 53.0h.8v.8h-.8zM304.6 49.3h.8v.8h-.8zM313.2 49.7h.8v.8h-.8zM354.8 50.8h.8v.8h-.8zM373.0 47.8h.8v.8h-.8zM455.1 49.3h.8v.8h-.8zM481.9 48.8h.8v.8h-.8zM357.8 49.1h.8v.8h-.8zM453.0 49.8h.8v.8h-.8zM506.5 45.0h.8v.8h-.8zM388.6 50.7h.8v.8h-.8zM329.6 47.4h.8v.8h-.8zM340.2 50.5h.8v.8h-.8zM464.4 50.5h.8v.8h-.8zM451.0 49.7h.8v.8h-.8zM290.6 51.8h.8v.8h-.8zM432.1 47.5h.8v.8h-.8zM327.0 49.7h.8v.8h-.8zM505.9 53.1h.8v.8h-.8zM286.4 49.0h.8v.8h-.8zM300.6 46.7h.8v.8h-.8zM419.4 52.4h.8v.8h-.8zM476.0 51.1h.8v.8h-.8zM348.4 50.2h.8v.8h-.8zM454.3 50.8h.8v.8h-.8zM291.7 47.9h.8v.8h-.8zM369.4 47.0h.8v.8h-.8zM320.7 51.1h.8v.8h-.8zM351.5 49.9h.8v.8h-.8zM491.3 51.7h.8v.8h-.8zM400.0 45.9h.8v.8h-.8zM430.8 46.8h.8v.8h-.8zM408.2 50.8h.8v.8h-.8zM379.3 43.5h.8v.8h-.8zM509.1 50.0h.8v.8h-.8zM451.2 49.7h.8v.8h-.8zM300.0 46.6h.8v.8h-.8zM333.9 43.9h.8v.8h-.8zM450.8 48.3h.8v.8h-.8zM492.2 48.7h.8v.8h-.8zM295.6 46.1h.8v.8h-.8zM393.2 45.8h.8v.8h-.8zM490.0 52.9h.8v.8h-.8zM406.0 48.9h.8v.8h-.8zM401.8 44.2h.8v.8h-.8zM384.0 52.7h.8v.8h-.8zM413.6 47.0h.8v.8h-.8zM508.6 50.9h.8v.8h-.8zM408.8 51.9h.8v.8h-.8zM356.5 50.7h.8v.8h-.8zM481.7 50.8h.8v.8h-.8zM323.2 54.4h.8v.8h-.8zM327.4 43.7h.8v.8h-.8zM409.3 46.0h.8v.8h-.8zM310.3 48.5h.8v.8h-.8zM344.1 52.9h.8v.8h-.8zM500.5 46.5h.8v.8h-.8zM397.0 47.4h.8v.8h-.8zM380.6 48.3h.8v.8h-.8zM415.9 49.2h.8v.8h-.8zM433.1 48.3h.8v.8h-.8zM293.7 50.0h.8v.8h-.8zM441.6 48.0h.8v.8h-.8zM428.0 49.1h.8v.8h-.8zM379.7 51.1h.8v.8h-.8zM323.9 47.6h.8v.8h-.8zM444.8 48.9h.8v.8h-.8zM505.0 45.8h.8v.8h-.8zM400.6 47.6h.8v.8h-.8zM316.0 48.0h.8v.8h-.8zM306.7 44.3h.8v.8h-.8zM369.4 51.2h.8v.8h-.8zM286.4 51.1h.8v.8h-.8zM482.0 52.8h.8v.8h-.8zM326.9 50.3h.8v.8h-.8zM403.9 46.8h.8v.8h-.8zM483.0 42.3h.8v.8h-.8zM317.8 47.7h.8v.8h-.8zM321.3 45.6h.8v.8h-.8zM388.6 48.8h.8v.8h-.8zM442.8 48.1h.8v.8h-.8zM407.0 50.5h.8v.8h-.8zM339.9 46.3h.8v.8h-.8zM477.6 51.4h.8v.8h-.8zM350.1 50.8h.8v.8h-.8zM295.3 50.8h.8v.8h-.8zM318.9 52.7h.8v.8h-.8zM493.0 51.9h.8v.8h-.8zM295.0 53.1h.8v.8h-.8zM433.7 44.9h.8v.8h-.8zM494.5 47.6h.8v.8h-.8zM334.8 51.7h.8v.8h-.8zM467.9 48.2h.8v.8h-.8zM340.3 52.5h.8v.8h-.8zM390.7 48.2h.8v.8h-.8zM332.7 50.7h.8v.8h-.8zM509.2 46.0h.8v.8h-.8zM485.1 48.3h.8v.8h-.8zM321.4 44.1h.8v.8h-.8zM472.7 48.0h.8v.8h-.8zM298.8 47.1h.8v.8h-.8zM306.2 49.2h.8v.8h-.8zM458.4 52.6h.8v.8h-.8zM441.8 44.1h.8v.8h-.8zM317.6 52.8h.8v.8h-.8zM335.0 46.4h.8v.8h-.8zM451.2 49.0h.8v.8h-.8zM473.8 48.2h.8v.8h-.8zM415.6 46.0h.8v.8h-.8zM355.0 45.3h.8v.8h-.8zM317.9 47.3h.8v.8h-.8zM476.2 50.0h.8v.8h-.8zM303.9 44.1h.8v.8h-.8zM336.5 48.3h.8v.8h-.8zM424.2 43.6h.8v.8h-.8zM496.3 46.6h.8v.8h-.8zM391.4 49.1h.8v.8h-.8zM351.9 45.0h.8v.8h-.8zM356.9 51.4h.8v.8h-.8zM445.9 47.8h.8v.8h-.8zM399.7 48.0h.8v.8h-.8zM481.2 45.3h.8v.8h-.8zM429.1 44.2h.8v.8h-.8zM510.4 51.0h.8v.8h-.8zM328.2 49.0h.8v.8h-.8zM455.9 47.2h.8v.8h-.8zM432.8 52.0h.8v.8h-.8zM286.9 46.6h.8v.8h-.8zM340.8 46.8h.8v.8h-.8zM430.6 47.1h.8v.8h-.8zM445.5 47.0h.8v.8h-.8zM300.2 53.4h.8v.8h-.8zM495.2 50.1h.8v.8h-.8zM499.5 52.6h.8v.8h-.8zM413.0 48.2h.8v.8h-.8zM404.1 42.2h.8v.8h-.8zM504.0 46.9h.8v.8h-.8zM382.6 49.3h.8v.8h-.8zM379.7 51.4h.8v.8h-.8zM468.0 51.5h.8v.8h-.8zM301.7 46.6h.8v.8h-.8zM405.2 50.5h.8v.8h-.8zM470.2 50.6h.8v.8h-.8zM436.9 46.8h.8v.8h-.8zM495.9 48.6h.8v.8h-.8zM482.2 47.5h.8v.8h-.8zM437.7 48.4h.8v.8h-.8zM374.7 46.3h.8v.8h-.8zM345.9 49.8h.8v.8h-.8zM315.1 46.5h.8v.8h-.8zM381.5 45.8h.8v.8h-.8zM454.5 46.8h.8v.8h-.8zM344.3 48.3h.8v.8h-.8zM410.7 46.5h.8v.8h-.8zM453.5 45.1h.8v.8h-.8zM364.7 48.7h.8v.8h-.8zM341.1 44.9h.8v.8h-.8zM311.7 44.8h.8v.8h-.8zM500.3 44.7h.8v.8h-.8zM469.7 49.8h.8v.8h-.8zM339.1 45.2h.8v.8h-.8zM350.7 49.6h.8v.8h-.8zM393.7 46.7h.8v.8h-.8zM408.5 49.6h.8v.8h-.8zM328.7 48.4h.8v.8h-.8zM465.0 48.5h.8v.8h-.8zM320.1 47.2h.8v.8h-.8zM508.5 50.7h.8v.8h-.8zM417.1 52.3h.8v.8h-.8zM482.3 48.2h.8v.8h-.8zM458.9 47.1h.8v.8h-.8zM446.5 54.3h.8v.8h-.8zM349.8 49.9h.8v.8h-.8zM389.2 45.0h.8v.8h-.8zM413.3 47.8h.8v.8h-.8zM298.0 50.2h.8v.8h-.8zM305.5 45.8h.8v.8h-.8zM397.9 49.3h.8v.8h-.8zM447.4 50.9h.8v.8h-.8zM455.3 49.4h.8v.8h-.8zM504.4 50.1h.8v.8h-.8zM426.7 49.7h.8v.8h-.8zM339.7 51.6h.8v.8h-.8zM300.0 47.6h.8v.8h-.8zM315.1 47.2h.8v.8h-.8zM438.0 49.3h.8v.8h-.8zM454.2 48.1h.8v.8h-.8zM315.6 48.7h.8v.8h-.8zM287.6 48.5h.8v.8h-.8zM450.1 48.7h.8v.8h-.8zM317.4 48.1h.8v.8h-.8zM293.8 46.4h.8v.8h-.8zM326.9 49.6h.8v.8h-.8zM469.4 51.2h.8v.8h-.8zM315.8 50.5h.8v.8h-.8zM432.5 49.5h.8v.8h-.8zM509.1 49.6h.8v.8h-.8zM343.9 44.7h.8v.8h-.8zM511.4 49.5h.8v.8h-.8zM408.5 51.2h.8v.8h-.8zM439.3 50.9h.8v.8h-.8zM416.6 44.7h.8v.8h-.8zM297.5 51.5h.8v.8h-.8zM407.9 42.7h.8v.8h-.8zM461.2 46.7h.8v.8h-.8zM337.7 45.7h.8v.8h-.8zM369.9 50.6h.8v.8h-.8zM297.3 51.2h.8v.8h-.8zM315.0 48.2h.8v.8h-.8zM317.9 54.0h.8v.8h-.8zM315.0 48.8h.8v.8h-.8zM411.8 52.5h.8v.8h-.8zM418.2 46.8h.8v.8h-.8zM348.1 46.1h.8v.8h-.8zM330.3 44.1h.8v.8h-.8zM335.2 45.3h.8v.8h-.8zM486.4 50.2h.8v.8h-.8zM418.1 47.9h.8v.8h-.8zM317.4 52.5h.8v.8h-.8zM307.5 51.7h.8v.8h-.8zM415.2 48.5h.8v.8h-.8zM389.2 46.7h.8v.8h-.8zM331.1 47.7h.8v.8h-.8zM416.7 45.8h.8v.8h-.8zM492.1 50.0h.8v.8h-.8zM389.8 48.3h.8v.8h-.8zM395.2 47.4h.8v.8h-.8zM295.3 48.8h.8v.8h-.8zM370.8 49.9h.8v.8h-.8zM319.4 50.3h.8v.8h-.8zM352.6 47.4h.8v.8h-.8zM299.2 45.2h.8v.8h-.8zM407.9 51.6h.8v.8h-.8zM487.3 45.5h.8v.8h-.8zM380.6 45.8h.8v.8h-.8zM474.0 46.9h.8v.8h-.8zM334.3 48.7h.8v.8h-.8zM465.2 49.8h.8v.8h-.8zM426.3 48.9h.8v.8h-.8zM439.0 44.6h.8v.8h-.8zM379.0 49.1h.8v.8h-.8zM417.8 50.9h.8v.8h-.8zM505.6 48.9h.8v.8h-.8zM414.5 46.3h.8v.8h-.8zM506.2 51.4h.8v.8h-.8zM389.4 44.1h.8v.8h-.8zM477.5 50.7h.8v.8h-.8zM334.7 47.2h.8v.8h-.8zM363.8 46.4h.8v.8h-.8zM466.6 44.6h.8v.8h-.8zM394.2 52.7h.8v.8h-.8zM481.3 50.1h.8v.8h-.8zM290.7 50.2h.8v.8h-.8zM479.2 50.6h.8v.8h-.8zM389.3 46.4h.8v.8h-.8zM504.8 46.6h.8v.8h-.8zM314.4 49.8h.8v.8h-.8zM493.1 49.3h.8v.8h-.8zM449.8 45.3h.8v.8h-.8zM474.1 47.7h.8v.8h-.8zM431.3 47.2h.8v.8h-.8zM482.3 45.6h.8v.8h-.8zM430.3 48.7h.8v.8h-.8zM326.6 48.9h.8v.8h-.8zM510.1 52.2h.8v.8h-.8zM309.0 46.7h.8v.8h-.8zM291.6 45.7h.8v.8h-.8zM319.9 46.9h.8v.8h-.8zM313.3 52.1h.8v.8h-.8zM368.4 45.1h.8v.8h-.8zM510.6 45.3h.8v.8h-.8zM474.5 49.5h.8v.8h-.8zM421.5 51.4h.8v.8h-.8zM409.3 46.2h.8v.8h-.8zM337.4 46.8h.8v.8h-.8zM435.5 51.1h.8v.8h-.8zM433.4 45.5h.8v.8h-.8zM502.0 48.2h.8v.8h-.8zM472.1 51.7h.8v.8h-.8zM432.2 51.4h.8v.8h-.8zM469.7 48.3h.8v.8h-.8zM329.3 42.5h.8v.8h-.8zM386.8 52.9h.8v.8h-.8zM407.2 44.2h.8v.8h-.8zM387.2 45.4h.8v.8h-.8zM488.4 47.6h.8v.8h-.8zM423.6 45.8h.8v.8h-.8zM351.7 51.1h.8v.8h-.8zM293.5 49.3h.8v.8h-.8zM351.4 52.1h.8v.8h-.8zM328.3 42.5h.8v.8h-.8zM320.9 46.6h.8v.8h-.8zM315.4 50.6h.8v.8h-.8zM467.4 50.1h.8v.8h-.8zM345.2 51.0h.8v.8h-.8zM430.8 50.6h.8v.8h-.8zM476.8 50.3h.8v.8h-.8zM286.8 48.7h.8v.8h-.8zM474.1 49.2h.8v.8h-.8zM436.3 48.6h.8v.8h-.8zM322.5 53.9h.8v.8h-.8zM394.7 47.9h.8v.8h-.8zM298.0 44.8h.8v.8h-.8zM293.8 50.8h.8v.8h-.8zM488.5 54.0h.8v.8h-.8zM351.7 51.8h.8v.8h-.8zM328.3 49.4h.8v.8h-.8zM486.9 52.3h.8v.8h-.8zM460.6 46.1h.8v.8h-.8zM461.0 49.6h.8v.8h-.8zM448.0 46.1h.8v.8h-.8zM285.9 47.3h.8v.8h-.8zM508.0 45.6h.8v.8h-.8zM462.6 44.4h.8v.8h-.8zM416.8 49.5h.8v.8h-.8zM424.0 50.2h.8v.8h-.8zM341.9 48.4h.8v.8h-.8zM443.8 51.5h.8v.8h-.8zM456.3 46.5h.8v.8h-.8zM428.4 49.5h.8v.8h-.8zM416.0 49.9h.8v.8h-.8zM455.4 44.8h.8v.8h-.8zM359.4 50.2h.8v.8h-.8zM355.0 49.6h.8v.8h-.8zM415.5 50.6h.8v.8h-.8zM308.1 48.6h.8v.8h-.8zM450.2 48.2h.8v.8h-.8zM362.3 50.3h.8v.8h-.8zM288.9 47.5h.8v.8h-.8zM440.9 44.8h.8v.8h-.8zM435.4 51.6h.8v.8h-.8zM383.9 46.2h.8v.8h-.8zM358.1 45.0h.8v.8h-.8zM327.5 46.4h.8v.8h-.8zM293.9 45.5h.8v.8h-.8zM320.0 47.3h.8v.8h-.8zM402.9 48.8h.8v.8h-.8zM373.4 47.1h.8v.8h-.8zM451.7 52.5h.8v.8h-.8zM298.3 41.6h.8v.8h-.8zM421.6 43.6h.8v.8h-.8zM508.1 48.5h.8v.8h-.8zM357.8 50.1h.8v.8h-.8zM336.6 49.4h.8v.8h-.8zM397.5 50.0h.8v.8h-.8zM468.5 48.4h.8v.8h-.8zM458.2 47.6h.8v.8h-.8zM428.9 48.3h.8v.8h-.8zM479.5 48.6h.8v.8h-.8zM313.8 48.2h.8v.8h-.8zM465.1 50.5h.8v.8h-.8zM499.1 52.7h.8v.8h-.8zM476.3 45.7h.8v.8h-.8zM390.9 50.1h.8v.8h-.8zM315.1 49.0h.8v.8h-.8zM309.5 49.8h.8v.8h-.8zM294.5 50.0h.8v.8h-.8zM350.5 49.5h.8v.8h-.8zM399.3 46.8h.8v.8h-.8zM477.5 52.5h.8v.8h-.8zM407.1 48.7h.8v.8h-.8zM289.9 51.9h.8v.8h-.8zM306.2 45.4h.8v.8h-.8zM502.8 45.0h.8v.8h-.8zM331.6 46.6h.8v.8h-.8zM290.0 47.2h.8v.8h-.8zM324.4 44.4h.8v.8h-.8zM290.8 46.3h.8v.8h-.8zM361.8 47.3h.8v.8h-.8zM481.4 47.1h.8v.8h-.8zM442.8 47.8h.8v.8h-.8zM447.7 42.4h.8v.8h-.8zM391.8 45.6h.8v.8h-.8zM431.6 50.4h.8v.8h-.8zM351.6 49.1h.8v.8h-.8zM381.2 47.0h.8v.8h-.8zM441.0 48.2h.8v.8h-.8zM295.5 48.3h.8v.8h-.8zM288.5 51.7h.8v.8h-.8zM358.2 49.8h.8v.8h-.8zM368.9 44.4h.8v.8h-.8zM321.2 48.3h.8v.8h-.8zM301.6 43.1h.8v.8h-.8zM378.6 44.5h.8v.8h-.8zM329.3 47.1h.8v.8h-.8zM471.0 44.7h.8v.8h-.8zM499.7 45.4h.8v.8h-.8zM439.2 47.3h.8v.8h-.8zM345.4 46.4h.8v.8h-.8zM368.4 49.6h.8v.8h-.8zM346.6 45.0h.8v.8h-.8zM489.3 41.1h.8v.8h-.8zM432.3 47.5h.8v.8h-.8zM451.0 43.8h.8v.8h-.8zM392.6 55.0h.8v.8h-.8zM437.0 45.7h.8v.8h-.8zM323.4 50.1h.8v.8h-.8zM367.2 44.6h.8v.8h-.8zM319.2 50.5h.8v.8h-.8zM328.2 46.5h.8v.8h-.8zM484.6 46.0h.8v.8h-.8zM287.5 43.7h.8v.8h-.8zM455.6 50.0h.8v.8h-.8zM363.7 45.7h.8v.8h-.8zM284.1 48.0h.8v.8h-.8zM301.6 49.0h.8v.8h-.8zM326.9 53.5h.8v.8h-.8zM348.3 44.5h.8v.8h-.8zM431.2 46.9h.8v.8h-.8zM353.7 48.1h.8v.8h-.8zM464.6 48.7h.8v.8h-.8zM369.2 47.8h.8v.8h-.8zM395.8 50.0h.8v.8h-.8zM317.3 47.7h.8v.8h-.8zM326.5 49.4h.8v.8h-.8zM403.6 47.7h.8v.8h-.8zM482.3 49.4h.8v.8h-.8zM296.6 46.5h.8v.8h-.8zM296.2 49.4h.8v.8h-.8zM350.6 44.6h.8v.8h-.8zM342.2 49.7h.8v.8h-.8zM369.7 51.3h.8v.8h-.8zM384.8 46.1h.8v.8h-.8zM331.5 49.6h.8v.8h-.8zM337.8 42.4h.8v.8h-.8zM477.5 46.2h.8v.8h-.8zM288.9 50.4h.8v.8h-.8zM338.5 48.4h.8v.8h-.8zM471.8 50.0h.8v.8h-.8zM500.4 46.3h.8v.8h-.8zM351.9 52.6h.8v.8h-.8zM415.8 50.2h.8v.8h-.8zM400.8 53.7h.8v.8h-.8zM418.0 49.2h.8v.8h-.8zM395.0 45.3h.8v.8h-.8zM445.7 44.9h.8v.8h-.8zM351.3 48.8h.8v.8h-.8zM317.9 49.5h.8v.8h-.8zM418.0 55.1h.8v.8h-.8zM287.2 49.6h.8v.8h-.8zM399.9 51.5h.8v.8h-.8zM509.1 49.1h.8v.8h-.8zM467.3 47.7h.8v.8h-.8zM507.7 48.1h.8v.8h-.8zM370.1 41.9h.8v.8h-.8zM426.8 46.5h.8v.8h-.8zM446.8 44.0h.8v.8h-.8zM470.5 45.9h.8v.8h-.8zM419.5 52.2h.8v.8h-.8zM502.7 46.7h.8v.8h-.8zM479.8 51.5h.8v.8h-.8zM456.7 47.8h.8v.8h-.8zM318.5 46.9h.8v.8h-.8zM355.7 47.9h.8v.8h-.8zM433.8 47.8h.8v.8h-.8zM310.4 49.0h.8v.8h-.8zM408.4 50.3h.8v.8h-.8zM447.2 50.1h.8v.8h-.8zM302.6 47.7h.8v.8h-.8zM479.1 43.4h.8v.8h-.8zM446.6 45.2h.8v.8h-.8zM312.7 47.1h.8v.8h-.8zM385.9 49.7h.8v.8h-.8zM348.3 51.9h.8v.8h-.8zM326.3 44.1h.8v.8h-.8zM511.5 50.8h.8v.8h-.8zM482.8 47.7h.8v.8h-.8zM499.2 48.1h.8v.8h-.8zM426.9 45.8h.8v.8h-.8zM458.3 46.7h.8v.8h-.8zM303.4 50.8h.8v.8h-.8zM318.7 48.9h.8v.8h-.8zM443.6 46.2h.8v.8h-.8zM381.2 47.8h.8v.8h-.8zM302.9 46.2h.8v.8h-.8zM435.6 48.2h.8v.8h-.8zM388.9 50.1h.8v.8h-.8zM396.4 51.4h.8v.8h-.8zM382.6 45.7h.8v.8h-.8zM383.8 47.2h.8v.8h-.8zM351.2 47.5h.8v.8h-.8zM421.0 51.6h.8v.8h-.8zM331.0 47.0h.8v.8h-.8zM504.2 48.8h.8v.8h-.8zM367.2 46.5h.8v.8h-.8zM290.7 48.4h.8v.8h-.8zM471.9 46.5h.8v.8h-.8zM447.1 48.9h.8v.8h-.8zM338.5 45.0h.8v.8h-.8zM291.2 47.9h.8v.8h-.8zM401.7 48.1h.8v.8h-.8zM459.9 50.1h.8v.8h-.8zM406.7 50.5h.8v.8h-.8zM317.5 49.4h.8v.8h-.8zM322.7 51.7h.8v.8h-.8zM317.8 49.4h.8v.8h-.8zM488.1 54.3h.8v.8h-.8zM308.5 45.9h.8v.8h-.8zM290.1 47.1h.8v.8h-.8zM340.5 48.0h.8v.8h-.8zM502.1 47.9h.8v.8h-.8zM348.3 44.6h.8v.8h-.8zM314.9 53.5h.8v.8h-.8zM312.9 46.1h.8v.8h-.8zM355.9 48.7h.8v.8h-.8zM416.2 50.9h.8v.8h-.8zM293.0 47.5h.8v.8h-.8zM368.3 50.0h.8v.8h-.8zM296.9 46.1h.8v.8h-.8zM340.1 48.7h.8v.8h-.8zM355.7 50.7h.8v.8h-.8zM436.4 48.1h.8v.8h-.8zM316.3 47.5h.8v.8h-.8zM470.9 51.6h.8v.8h-.8zM323.5 45.1h.8v.8h-.8zM441.4 51.8h.8v.8h-.8zM333.6 50.1h.8v.8h-.8zM475.0 49.9h.8v.8h-.8zM448.9 45.9h.8v.8h-.8zM498.9 51.2h.8v.8h-.8zM423.8 46.0h.8v.8h-.8z" fill="#e02828" fill-opacity="0.3"/>
<path d="M283.0 98.99 L283.5 100.37 L284.0 100.06 L284.5 100.16 L285.0 99.85 L285.5 99.75 L286.0 99.26 L286.5 99.00 L287.0 100.02 L287.5 101.13 L288.0 99.40 L288.5 100.38 L289.0 99.19 L289.5 99.63 L290.0 100.69 L290.5 99.56 L291.0 100.03 L291.5 99.26 L292.0 100.81 L292.5 98.84 L293.0 99.98 L293.5 99.45 L294.0 99.75 L294.5 99.82 L295.0 100.45 L295.5 100.14 L296.0 100.29 L296.5 99.83 L297.0 98.96 L297.5 100.43 L298.0 100.59 L298.5 99.90 L299.0 100.13 L299.5 99.46 L300.0 98.72 L300.5 100.21 L301.0 99.17 L301.5 100.78 L302.0 100.06 L302.5 99.59 L303.0 99.24 L303.5 99.67 L304.0 98.99 L304.5 99.37 L305.0 100.63 L305.5 99.42 L306.0 100.78 L306.5 99.54 L307.0 99.89 L307.5 99.03 L308.0 99.44 L308.5 99.33 L309.0 98.75 L309.5 100.80 L310.0 100.00 L310.5 99.55 L311.0 98.94 L311.5 99.62 L312.0 98.96 L312.5 99.00 L313.0 99.51 L313.5 100.94 L314.0 98.53 L314.5 99.95 L315.0 99.28 L315.5 97.81 L316.0 98.74 L316.5 99.52 L317.0 99.66 L317.5 99.14 L318.0 100.74 L318.5 99.93 L319.0 99.23 L319.5 98.58 L320.0 99.74 L320.5 99.19 L321.0 100.27 L321.5 98.96 L322.0 100.38 L322.5 99.32 L323.0 99.75 L323.5 99.43 L324.0 100.02 L324.5 100.31 L325.0 99.28 L325.5 99.04 L326.0 100.82 L326.5 100.19 L327.0 100.83 L327.5 100.19 L328.0 99.71 L328.5 100.61 L329.0 99.20 L329.5 99.34 L330.0 99.37 L330.5 100.03 L331.0 99.09 L331.5 99.49 L332.0 99.09 L332.5 99.46 L333.0 100.33 L333.5 100.29 L334.0 99.48 L334.5 101.18 L335.0 99.18 L335.5 99.88 L336.0 99.32 L336.5 98.23 L337.0 98.88 L337.5 100.37 L338.0 98.58 L338.5 101.41 L339.0 99.54 L339.5 99.77 L340.0 100.41 L340.5 99.62 L341.0 99.22 L341.5 99.22 L342.0 99.03 L342.5 99.94 L343.0 99.32 L343.5 99.92 L344.0 98.67 L344.5 99.33 L345.0 100.92 L345.5 99.83 L346.0 99.56 L346.5 100.34 L347.0 99.80 L347.5 100.55 L348.0 98.89 L348.5 100.08 L349.0 98.95 L349.5 100.02 L350.0 101.17 L350.5 100.55 L351.0 99.08 L351.5 99.86 L352.0 99.91 L352.5 99.15 L353.0 99.77 L353.5 98.94 L354.0 100.23 L354.5 100.17 L355.0 99.52 L355.5 100.03 L356.0 101.13 L356.5 99.50 L357.0 98.44 L357.5 99.81 L358.0 99.33 L358.5 99.12 L359.0 100.19 L359.5 100.22 L360.0 100.00 L360.5 100.62 L361.0 99.22 L361.5 99.34 L362.0 99.88 L362.5 97.92 L363.0 97.89 L363.5 99.82 L364.0 99.48 L364.5 99.64 L365.0 99.01 L365.5 99.74 L366.0 100.29 L366.5 99.21 L367.0 99.98 L367.5 99.51 L368.0 99.52 L368.5 99.67 L369.0 100.57 L369.5 99.93 L370.0 100.05 L370.5 99.69 L371.0 98.26 L371.5 100.19 L372.0 99.61 L372.5 99.66 L373.0 99.30 L373.5 98.64 L374.0 100.56 L374.5 100.74 L375.0 100.61 L375.5 98.46 L376.0 99.97 L376.5 98.87 L377.0 99.50 L377.5 99.28 L378.0 99.22 L378.5 99.12 L379.0 99.31 L379.5 100.08 L380.0 100.64 L380.5 100.18 L381.0 99.61 L381.5 99.51 L382.0 99.46 L382.5 99.59 L383.0 99.22 L383.5 99.49 L384.0 100.15 L384.5 99.46 L385.0 99.10 L385.5 99.53 L386.0 99.67 L386.5 99.55 L387.0 99.45 L387.5 100.04 L388.0 99.59 L388.5 98.97 L389.0 99.97 L389.5 99.16 L390.0 100.10 L390.5 100.11 L391.0 99.92 L391.5 99.79 L392.0 98.76 L392.5 99.48 L393.0 99.69 L393.5 100.00 L394.0 98.90 L394.5 99.51 L395.0 98.64 L395.5 99.71 L396.0 99.66 L396.5 99.68 L397.0 100.66 L397.5 100.06 L398.0 99.49 L398.5 99.24 L399.0 99.33 L399.5 100.09 L400.0 100.19 L400.5 99.29 L401.0 99.54 L401.5 99.33 L402.0 100.05 L402.5 99.72 L403.0 99.15 L403.5 99.05 L404.0 100.44 L404.5 98.73 L405.0 98.46 L405.5 97.69 L406.0 100.90 L406.5 99.27 L407.0 100.16 L407.5 99.95 L408.0 100.15 L408.5 100.31 L409.0 99.31 L409.5 99.59 L410.0 100.24 L410.5 99.95 L411.0 99.13 L411.5 99.13 L412.0 98.69 L412.5 99.76 L413.0 99.27 L413.5 98.63 L414.0 99.26 L414.5 99.80 L415.0 99.73 L415.5 99.46 L416.0 99.72 L416.5 100.01 L417.0 98.85 L417.5 99.09 L418.0 100.23 L418.5 100.06 L419.0 98.72 L419.5 99.15 L420.0 100.54 L420.5 100.07 L421.0 99.52 L421.5 100.24 L422.0 100.49 L422.5 100.48 L423.0 98.72 L423.5 98.80 L424.0 99.29 L424.5 99.57 L425.0 99.39 L425.5 99.75 L426.0 100.56 L426.5 100.28 L427.0 100.25 L427.5 99.60 L428.0 100.67 L428.5 99.89 L429.0 99.77 L429.5 99.59 L430.0 98.44 L430.5 100.94 L431.0 99.60 L431.5 100.16 L432.0 101.06 L432.5 99.48 L433.0 98.87 L433.5 100.23 L434.0 99.77 L434.5 99.01 L435.0 100.23 L435.5 99.61 L436.0 99.01 L436.5 98.03 L437.0 98.98 L437.5 99.84 L438.0 98.95 L438.5 100.21 L439.0 101.02 L439.5 99.80 L440.0 99.76 L440.5 99.55 L441.0 100.16 L441.5 99.62 L442.0 100.28 L442.5 100.48 L443.0 100.16 L443.5 99.00 L444.0 100.04 L444.5 99.44 L445.0 99.81 L445.5 100.20 L446.0 99.19 L446.5 99.73 L447.0 100.55 L447.5 99.08 L448.0 99.49 L448.5 100.05 L449.0 99.46 L449.5 100.24 L450.0 98.96 L450.5 98.67 L451.0 99.85 L451.5 99.52 L452.0 99.81 L452.5 100.20 L453.0 100.29 L453.5 99.39 L454.0 99.36 L454.5 98.40 L455.0 98.99 L455.5 99.75 L456.0 99.75 L456.5 98.68 L457.0 100.12 L457.5 99.58 L458.0 100.32 L458.5 99.38 L459.0 100.23 L459.5 98.92 L460.0 98.42 L460.5 99.10 L461.0 100.06 L461.5 99.86 L462.0 98.40 L462.5 99.69 L463.0 100.04 L463.5 100.64 L464.0 100.11 L464.5 99.92 L465.0 98.60 L465.5 99.83 L466.0 98.35 L466.5 99.42 L467.0 99.37 L467.5 99.00 L468.0 98.96 L468.5 99.52 L469.0 99.99 L469.5 99.20 L470.0 99.81 L470.5 100.04 L471.0 99.60 L471.5 100.78 L472.0 99.41 L472.5 99.15 L473.0 98.39 L473.5 100.26 L474.0 100.05 L474.5 99.49 L475.0 99.81 L475.5 99.52 L476.0 100.17 L476.5 99.60 L477.0 99.76 L477.5 99.55 L478.0 99.04 L478.5 98.23 L479.0 99.96 L479.5 98.83 L480.0 99.87 L480.5 100.00 L481.0 100.82 L481.5 99.14 L482.0 99.71 L482.5 100.19 L483.0 99.18 L483.5 99.24 L484.0 99.90 L484.5 100.88 L485.0 100.30 L485.5 100.19 L486.0 98.99 L486.5 100.01 L487.0 100.34 L487.5 98.82 L488.0 99.62 L488.5 99.48 L489.0 100.03 L489.5 98.53 L490.0 100.06 L490.5 99.60 L491.0 99.44 L491.5 98.30 L492.0 98.28 L492.5 99.27 L493.0 100.03 L493.5 99.86 L494.0 100.09 L494.5 98.56 L495.0 99.74 L495.5 100.43 L496.0 98.61 L496.5 100.00 L497.0 99.14 L497.5 99.94 L498.0 99.67 L498.5 98.60 L499.0 98.94 L499.5 100.39 L500.0 99.54 L500.5 100.36 L501.0 99.83 L501.5 100.15 L502.0 99.36 L502.5 99.74 L503.0 99.37 L503.5 100.16 L504.0 99.24 L504.5 100.28 L505.0 100.62 L505.5 98.85 L506.0 99.50 L506.5 99.94 L507.0 100.75 L507.5 100.31 L508.0 99.67 L508.5 98.54 L509.0 100.15 L509.5 99.24 L510.0 99.73 L510.5 99.85 L511.0 98.70 L511.5 100.26" fill="none" stroke="#2222c4" stroke-width="1.45"/>
<text x="7.4" y="29" font-size="9" font-weight="400" fill="#111" text-anchor="start" >Ch 7</text>
<text x="282.3" y="29" font-size="9" font-weight="400" fill="#111" text-anchor="start" >Ch 7</text>
<rect x="8.20" y="134.00" width="228.20" height="11.60" fill="#fff" stroke="#999" stroke-width="0.8"/>
<rect x="9.00" y="134.00" width="2.50" height="11.60" fill="#bcbcbc" />
<rect x="14.40" y="134.00" width="14.60" height="11.60" fill="#000" />
<rect x="33.90" y="134.00" width="12.10" height="11.60" fill="#000" />
<rect x="55.00" y="134.00" width="2.80" height="11.60" fill="#8a8a8a" />
<rect x="64.30" y="134.00" width="7.50" height="11.60" fill="#454545" />
<rect x="75.50" y="134.00" width="10.30" height="11.60" fill="#454545" />
<rect x="92.00" y="134.00" width="4.00" height="11.60" fill="#454545" />
<rect x="98.80" y="134.00" width="6.20" height="11.60" fill="#454545" />
<rect x="109.60" y="134.00" width="0.80" height="11.60" fill="#9d9" />
<rect x="113.20" y="134.00" width="6.40" height="11.60" fill="#8a8a8a" />
<rect x="122.60" y="134.00" width="16.50" height="11.60" fill="#000" />
<rect x="141.40" y="134.00" width="4.70" height="11.60" fill="#454545" />
<rect x="148.20" y="134.00" width="7.40" height="11.60" fill="#454545" />
<rect x="160.40" y="134.00" width="1.20" height="11.60" fill="#777" />
<rect x="165.80" y="134.00" width="10.00" height="11.60" fill="#454545" />
<rect x="180.00" y="134.00" width="4.30" height="11.60" fill="#454545" />
<rect x="188.00" y="134.00" width="5.00" height="11.60" fill="#454545" />
<rect x="200.80" y="134.00" width="8.10" height="11.60" fill="#8a8a8a" />
<rect x="216.20" y="134.00" width="6.80" height="11.60" fill="#454545" />
<rect x="227.70" y="134.00" width="4.30" height="11.60" fill="#bcbcbc" />
<rect x="8.20" y="151.00" width="228.20" height="4.80" fill="#0b6a12" />
<rect x="282.80" y="134.00" width="228.20" height="11.60" fill="#fff" stroke="#999" stroke-width="0.8"/>
<rect x="283.60" y="134.00" width="2.50" height="11.60" fill="#bcbcbc" />
<rect x="289.00" y="134.00" width="14.60" height="11.60" fill="#000" />
<rect x="308.50" y="134.00" width="12.10" height="11.60" fill="#000" />
<rect x="329.60" y="134.00" width="2.80" height="11.60" fill="#8a8a8a" />
<rect x="338.90" y="134.00" width="7.50" height="11.60" fill="#454545" />
<rect x="350.10" y="134.00" width="10.30" height="11.60" fill="#454545" />
<rect x="366.60" y="134.00" width="4.00" height="11.60" fill="#454545" />
<rect x="373.40" y="134.00" width="6.20" height="11.60" fill="#454545" />
<rect x="384.20" y="134.00" width="0.80" height="11.60" fill="#9d9" />
<rect x="387.80" y="134.00" width="6.40" height="11.60" fill="#8a8a8a" />
<rect x="397.20" y="134.00" width="16.50" height="11.60" fill="#000" />
<rect x="416.00" y="134.00" width="4.70" height="11.60" fill="#454545" />
<rect x="422.80" y="134.00" width="7.40" height="11.60" fill="#454545" />
<rect x="435.00" y="134.00" width="1.20" height="11.60" fill="#777" />
<rect x="440.40" y="134.00" width="10.00" height="11.60" fill="#454545" />
<rect x="454.60" y="134.00" width="4.30" height="11.60" fill="#454545" />
<rect x="462.60" y="134.00" width="5.00" height="11.60" fill="#454545" />
<rect x="475.40" y="134.00" width="8.10" height="11.60" fill="#8a8a8a" />
<rect x="490.80" y="134.00" width="6.80" height="11.60" fill="#454545" />
<rect x="502.30" y="134.00" width="4.30" height="11.60" fill="#bcbcbc" />
<rect x="282.80" y="151.00" width="228.20" height="4.80" fill="#0b6a12" />
<rect x="9.70" y="151.00" width="0.80" height="4.80" fill="#b8e4b8" />
<rect x="10.50" y="151.00" width="4.63" height="4.80" fill="#0e5a14" />
<rect x="15.13" y="151.00" width="1.20" height="4.80" fill="#9ad69a" />
<rect x="16.33" y="151.00" width="4.72" height="4.80" fill="#1c7a22" />
<rect x="21.04" y="151.00" width="1.20" height="4.80" fill="#9ad69a" />
<rect x="26.88" y="151.00" width="1.00" height="4.80" fill="#b8e4b8" />
<rect x="27.88" y="151.00" width="3.99" height="4.80" fill="#0e5a14" />
<rect x="31.87" y="151.00" width="2.04" height="4.80" fill="#e8f6e8" />
<rect x="33.91" y="151.00" width="5.27" height="4.80" fill="#1c7a22" />
<rect x="39.19" y="151.00" width="1.72" height="4.80" fill="#e8f6e8" />
<rect x="44.33" y="151.00" width="0.80" height="4.80" fill="#9ad69a" />
<rect x="47.74" y="151.00" width="1.00" height="4.80" fill="#86cc86" />
<rect x="53.93" y="151.00" width="0.60" height="4.80" fill="#86cc86" />
<rect x="54.53" y="151.00" width="4.48" height="4.80" fill="#2a8a30" />
<rect x="59.01" y="151.00" width="1.00" height="4.80" fill="#b8e4b8" />
<rect x="63.66" y="151.00" width="0.80" height="4.80" fill="#9ad69a" />
<rect x="69.86" y="151.00" width="1.20" height="4.80" fill="#b8e4b8" />
<rect x="74.64" y="151.00" width="1.20" height="4.80" fill="#9ad69a" />
<rect x="79.00" y="151.00" width="1.00" height="4.80" fill="#86cc86" />
<rect x="83.68" y="151.00" width="1.20" height="4.80" fill="#9ad69a" />
<rect x="84.88" y="151.00" width="1.91" height="4.80" fill="#2a8a30" />
<rect x="86.79" y="151.00" width="1.20" height="4.80" fill="#b8e4b8" />
<rect x="91.64" y="151.00" width="0.80" height="4.80" fill="#b8e4b8" />
<rect x="96.27" y="151.00" width="1.00" height="4.80" fill="#b8e4b8" />
<rect x="102.44" y="151.00" width="0.60" height="4.80" fill="#9ad69a" />
<rect x="107.87" y="151.00" width="0.80" height="4.80" fill="#b8e4b8" />
<rect x="111.24" y="151.00" width="1.20" height="4.80" fill="#9ad69a" />
<rect x="114.97" y="151.00" width="1.20" height="4.80" fill="#9ad69a" />
<rect x="117.98" y="151.00" width="1.00" height="4.80" fill="#9ad69a" />
<rect x="123.76" y="151.00" width="0.80" height="4.80" fill="#86cc86" />
<rect x="129.31" y="151.00" width="1.00" height="4.80" fill="#86cc86" />
<rect x="130.31" y="151.00" width="4.29" height="4.80" fill="#1c7a22" />
<rect x="134.60" y="151.00" width="1.20" height="4.80" fill="#86cc86" />
<rect x="135.80" y="151.00" width="2.84" height="4.80" fill="#2a8a30" />
<rect x="138.64" y="151.00" width="0.80" height="4.80" fill="#9ad69a" />
<rect x="139.44" y="151.00" width="2.42" height="4.80" fill="#1c7a22" />
<rect x="141.86" y="151.00" width="1.00" height="4.80" fill="#b8e4b8" />
<rect x="142.86" y="151.00" width="3.48" height="4.80" fill="#0e5a14" />
<rect x="146.34" y="151.00" width="0.60" height="4.80" fill="#86cc86" />
<rect x="150.01" y="151.00" width="1.00" height="4.80" fill="#86cc86" />
<rect x="155.51" y="151.00" width="1.20" height="4.80" fill="#86cc86" />
<rect x="156.71" y="151.00" width="3.27" height="4.80" fill="#1c7a22" />
<rect x="159.98" y="151.00" width="1.20" height="4.80" fill="#b8e4b8" />
<rect x="164.56" y="151.00" width="1.20" height="4.80" fill="#86cc86" />
<rect x="167.67" y="151.00" width="1.00" height="4.80" fill="#b8e4b8" />
<rect x="168.67" y="151.00" width="2.02" height="4.80" fill="#1c7a22" />
<rect x="170.69" y="151.00" width="0.60" height="4.80" fill="#9ad69a" />
<rect x="173.37" y="151.00" width="1.00" height="4.80" fill="#b8e4b8" />
<rect x="174.37" y="151.00" width="3.89" height="4.80" fill="#2a8a30" />
<rect x="178.26" y="151.00" width="0.60" height="4.80" fill="#b8e4b8" />
<rect x="184.22" y="151.00" width="0.80" height="4.80" fill="#b8e4b8" />
<rect x="185.02" y="151.00" width="1.94" height="4.80" fill="#1c7a22" />
<rect x="186.96" y="151.00" width="0.80" height="4.80" fill="#b8e4b8" />
<rect x="187.76" y="151.00" width="3.40" height="4.80" fill="#1c7a22" />
<rect x="191.16" y="151.00" width="1.20" height="4.80" fill="#9ad69a" />
<rect x="194.23" y="151.00" width="1.70" height="4.80" fill="#e8f6e8" />
<rect x="198.94" y="151.00" width="0.80" height="4.80" fill="#9ad69a" />
<rect x="199.74" y="151.00" width="2.79" height="4.80" fill="#0e5a14" />
<rect x="202.53" y="151.00" width="1.00" height="4.80" fill="#b8e4b8" />
<rect x="208.17" y="151.00" width="1.63" height="4.80" fill="#e8f6e8" />
<rect x="212.22" y="151.00" width="1.00" height="4.80" fill="#9ad69a" />
<rect x="213.22" y="151.00" width="4.91" height="4.80" fill="#0e5a14" />
<rect x="218.13" y="151.00" width="0.60" height="4.80" fill="#9ad69a" />
<rect x="224.02" y="151.00" width="1.20" height="4.80" fill="#86cc86" />
<rect x="225.22" y="151.00" width="4.65" height="4.80" fill="#0e5a14" />
<rect x="229.87" y="151.00" width="0.60" height="4.80" fill="#9ad69a" />
<rect x="235.19" y="151.00" width="1.00" height="4.80" fill="#86cc86" />
<rect x="236.19" y="151.00" width="0.21" height="4.80" fill="#2a8a30" />
<rect x="284.30" y="151.00" width="0.60" height="4.80" fill="#86cc86" />
<rect x="294.83" y="151.00" width="1.00" height="4.80" fill="#9ad69a" />
<rect x="304.27" y="151.00" width="0.80" height="4.80" fill="#9ad69a" />
<rect x="314.80" y="151.00" width="1.00" height="4.80" fill="#b8e4b8" />
<rect x="323.56" y="151.00" width="0.60" height="4.80" fill="#9ad69a" />
<rect x="324.16" y="151.00" width="6.57" height="4.80" fill="#2a8a30" />
<rect x="330.73" y="151.00" width="0.80" height="4.80" fill="#b8e4b8" />
<rect x="331.53" y="151.00" width="6.00" height="4.80" fill="#1c7a22" />
<rect x="337.53" y="151.00" width="0.80" height="4.80" fill="#b8e4b8" />
<rect x="349.32" y="151.00" width="0.80" height="4.80" fill="#9ad69a" />
<rect x="359.40" y="151.00" width="1.00" height="4.80" fill="#b8e4b8" />
<rect x="371.27" y="151.00" width="0.80" height="4.80" fill="#9ad69a" />
<rect x="379.57" y="151.00" width="1.20" height="4.80" fill="#9ad69a" />
<rect x="388.53" y="151.00" width="1.00" height="4.80" fill="#b8e4b8" />
<rect x="394.60" y="151.00" width="117.40" height="4.80" fill="#f4fbf4" />
<rect x="397.30" y="151.00" width="1.00" height="4.80" fill="#9fd09f" />
<rect x="399.60" y="151.00" width="1.00" height="4.80" fill="#9fd09f" />
<rect x="401.70" y="151.00" width="1.00" height="4.80" fill="#9fd09f" />
<rect x="409.00" y="151.00" width="1.00" height="4.80" fill="#1f5a1f" />
<rect x="418.10" y="151.00" width="1.00" height="4.80" fill="#9fd09f" />
<rect x="419.80" y="151.00" width="1.00" height="4.80" fill="#9fd09f" />
<rect x="422.90" y="151.00" width="1.00" height="4.80" fill="#9fd09f" />
<rect x="428.20" y="151.00" width="1.00" height="4.80" fill="#1f5a1f" />
<rect x="439.70" y="151.00" width="1.00" height="4.80" fill="#9fd09f" />
<rect x="442.10" y="151.00" width="1.00" height="4.80" fill="#9fd09f" />
<rect x="446.10" y="151.00" width="1.00" height="4.80" fill="#9fd09f" />
<rect x="451.50" y="151.00" width="1.00" height="4.80" fill="#5a9a5a" />
<rect x="454.60" y="151.00" width="1.00" height="4.80" fill="#1f5a1f" />
<rect x="456.20" y="151.00" width="1.00" height="4.80" fill="#5a9a5a" />
<rect x="458.00" y="151.00" width="1.00" height="4.80" fill="#5a9a5a" />
<rect x="460.00" y="151.00" width="1.00" height="4.80" fill="#5a9a5a" />
<rect x="462.30" y="151.00" width="1.00" height="4.80" fill="#1f5a1f" />
<rect x="464.30" y="151.00" width="1.00" height="4.80" fill="#5a9a5a" />
<rect x="465.30" y="151.00" width="1.00" height="4.80" fill="#5a9a5a" />
<rect x="466.30" y="151.00" width="1.00" height="4.80" fill="#5a9a5a" />
<rect x="467.10" y="151.00" width="1.00" height="4.80" fill="#5a9a5a" />
<rect x="469.70" y="151.00" width="1.00" height="4.80" fill="#5a9a5a" />
<rect x="473.70" y="151.00" width="1.00" height="4.80" fill="#9fd09f" />
<rect x="477.10" y="151.00" width="1.00" height="4.80" fill="#1f5a1f" />
<rect x="485.80" y="151.00" width="1.00" height="4.80" fill="#5a9a5a" />
<rect x="488.50" y="151.00" width="1.00" height="4.80" fill="#9fd09f" />
<rect x="492.60" y="151.00" width="1.00" height="4.80" fill="#1f5a1f" />
<rect x="496.60" y="151.00" width="1.00" height="4.80" fill="#9fd09f" />
<rect x="500.00" y="151.00" width="1.00" height="4.80" fill="#1f5a1f" />
<rect x="504.90" y="151.00" width="1.00" height="4.80" fill="#5a9a5a" />
<rect x="506.00" y="151.00" width="1.00" height="4.80" fill="#5a9a5a" />
<rect x="507.10" y="151.00" width="1.00" height="4.80" fill="#5a9a5a" />
<rect x="508.20" y="151.00" width="1.00" height="4.80" fill="#5a9a5a" />
<rect x="509.30" y="151.00" width="1.00" height="4.80" fill="#5a9a5a" />
<rect x="510.30" y="151.00" width="1.00" height="4.80" fill="#5a9a5a" />
<rect x="397.00" y="156.00" width="115.00" height="4.30" fill="#f29ac2" />
<rect x="396.60" y="167.60" width="115.20" height="5.80" fill="#0a0aee" />
<g filter="url(#bl)">
<path d="M30.4 176.2 C26.6 176.2 26.6 178.5 26.6 181.5 L26.9 186.1 Q27.8 188.6 26.9 191.1 L26.6 205.8 C26.6 209.6 27.7 211.1 30.4 211.1 C33.1 211.1 34.2 209.6 34.2 205.8 L33.9 191.1 Q33.0 188.6 33.9 186.1 L34.2 181.5 C34.2 178.5 34.2 176.2 30.4 176.2 Z" fill="#505050"/>
<path d="M37.4 175.2 C33.6 175.2 33.6 177.5 33.6 180.5 L33.9 186.1 Q34.8 188.6 33.9 191.1 L33.6 205.8 C33.6 209.6 34.7 211.1 37.4 211.1 C40.1 211.1 41.2 209.6 41.2 205.8 L40.9 191.1 Q40.0 188.6 40.9 186.1 L41.2 180.5 C41.2 177.5 41.2 175.2 37.4 175.2 Z" fill="#505050"/>
<rect x="29.5" y="186.1" width="8.8" height="5" fill="#505050"/>
<ellipse cx="29.8" cy="179.5" rx="3.1" ry="1.0" fill="#888" opacity="0.5"/>
<ellipse cx="37.2" cy="178.7" rx="2.9" ry="1.4" fill="#888" opacity="0.5"/>
<ellipse cx="29.7" cy="182.2" rx="3.2" ry="1.1" fill="#999" opacity="0.5"/>
<ellipse cx="37.8" cy="182.1" rx="2.5" ry="1.4" fill="#999" opacity="0.5"/>
<ellipse cx="30.0" cy="191.2" rx="3.3" ry="0.8" fill="#222" opacity="0.6"/>
<ellipse cx="36.3" cy="190.4" rx="3.4" ry="1.1" fill="#222" opacity="0.6"/>
<ellipse cx="30.0" cy="193.7" rx="1.8" ry="1.0" fill="#aaa" opacity="0.5"/>
<ellipse cx="37.1" cy="193.9" rx="2.2" ry="1.0" fill="#aaa" opacity="0.5"/>
<ellipse cx="30.0" cy="197.4" rx="2.3" ry="0.8" fill="#222" opacity="0.6"/>
<ellipse cx="37.9" cy="197.6" rx="2.9" ry="0.9" fill="#222" opacity="0.6"/>
<ellipse cx="31.5" cy="202.5" rx="2.0" ry="1.1" fill="#aaa" opacity="0.5"/>
<ellipse cx="37.7" cy="202.2" rx="3.4" ry="1.1" fill="#aaa" opacity="0.5"/>
<ellipse cx="31.2" cy="207.1" rx="2.3" ry="1.3" fill="#999" opacity="0.5"/>
<ellipse cx="38.0" cy="207.5" rx="2.6" ry="1.3" fill="#999" opacity="0.5"/>
</g>
<g filter="url(#bl)">
<path d="M48.8 180.2 C45.2 180.2 45.2 182.3 45.2 185.2 L45.5 189.1 Q46.4 191.6 45.5 194.1 L45.2 200.5 C45.2 204.1 46.3 205.5 48.8 205.5 C51.3 205.5 52.3 204.1 52.3 200.5 L52.0 194.1 Q51.1 191.6 52.0 189.1 L52.3 185.2 C52.3 182.3 52.3 180.2 48.8 180.2 Z" fill="#6a6a6a"/>
<path d="M55.3 178.7 C51.8 178.7 51.8 180.8 51.8 183.7 L52.0 189.1 Q53.0 191.6 52.0 194.1 L51.8 200.5 C51.8 204.1 52.8 205.5 55.3 205.5 C57.8 205.5 58.9 204.1 58.9 200.5 L58.6 194.1 Q57.7 191.6 58.6 189.1 L58.9 183.7 C58.9 180.8 58.9 178.7 55.3 178.7 Z" fill="#6a6a6a"/>
<rect x="47.9" y="189.1" width="8.2" height="5" fill="#6a6a6a"/>
<ellipse cx="49.8" cy="183.6" rx="1.7" ry="0.9" fill="#999" opacity="0.5"/>
<ellipse cx="55.9" cy="183.2" rx="2.7" ry="1.0" fill="#999" opacity="0.5"/>
<ellipse cx="49.1" cy="188.3" rx="2.6" ry="0.9" fill="#aaa" opacity="0.4"/>
<ellipse cx="55.1" cy="187.9" rx="2.8" ry="1.6" fill="#aaa" opacity="0.4"/>
<ellipse cx="49.8" cy="194.9" rx="2.4" ry="1.0" fill="#aaa" opacity="0.5"/>
<ellipse cx="54.3" cy="193.8" rx="2.4" ry="1.1" fill="#aaa" opacity="0.5"/>
<ellipse cx="48.7" cy="200.9" rx="2.5" ry="1.2" fill="#999" opacity="0.5"/>
<ellipse cx="54.7" cy="199.2" rx="2.2" ry="0.9" fill="#999" opacity="0.5"/>
</g>
<g filter="url(#bl)">
<path d="M294.5 177.0 C291.0 177.0 291.0 179.1 291.0 181.9 L291.3 189.1 Q292.2 191.6 291.3 194.1 L291.0 208.4 C291.0 211.9 292.1 213.3 294.5 213.3 C297.0 213.3 298.1 211.9 298.1 208.4 L297.8 194.1 Q296.9 191.6 297.8 189.1 L298.1 181.9 C298.1 179.1 298.1 177.0 294.5 177.0 Z" fill="#303030"/>
<path d="M301.0 176.0 C297.4 176.0 297.4 178.1 297.4 180.9 L297.8 189.1 Q298.6 191.6 297.8 194.1 L297.4 208.4 C297.4 211.9 298.5 213.3 301.0 213.3 C303.4 213.3 304.5 211.9 304.5 208.4 L304.2 194.1 Q303.3 191.6 304.2 189.1 L304.5 180.9 C304.5 178.1 304.5 176.0 301.0 176.0 Z" fill="#303030"/>
<rect x="293.7" y="189.1" width="8.1" height="5" fill="#303030"/>
<ellipse cx="294.1" cy="179.8" rx="2.2" ry="1.3" fill="#ccc" opacity="0.6"/>
<ellipse cx="301.1" cy="178.9" rx="1.6" ry="1.5" fill="#ccc" opacity="0.6"/>
<ellipse cx="294.2" cy="183.7" rx="3.2" ry="1.2" fill="#bbb" opacity="0.5"/>
<ellipse cx="301.5" cy="184.2" rx="2.7" ry="0.9" fill="#bbb" opacity="0.5"/>
<ellipse cx="294.9" cy="191.7" rx="2.5" ry="1.4" fill="#111" opacity="0.8"/>
<ellipse cx="301.2" cy="190.0" rx="2.8" ry="1.3" fill="#111" opacity="0.8"/>
<ellipse cx="294.2" cy="193.7" rx="3.0" ry="1.2" fill="#ddd" opacity="0.8"/>
<ellipse cx="301.3" cy="195.4" rx="2.8" ry="1.5" fill="#ddd" opacity="0.8"/>
<ellipse cx="294.4" cy="199.7" rx="2.3" ry="1.5" fill="#111" opacity="0.8"/>
<ellipse cx="301.6" cy="198.3" rx="1.8" ry="1.0" fill="#111" opacity="0.8"/>
<ellipse cx="295.6" cy="202.7" rx="2.6" ry="1.0" fill="#ddd" opacity="0.8"/>
<ellipse cx="300.9" cy="202.6" rx="2.2" ry="1.3" fill="#ddd" opacity="0.8"/>
<ellipse cx="294.8" cy="208.5" rx="2.7" ry="1.5" fill="#eee" opacity="0.7"/>
<ellipse cx="301.6" cy="208.7" rx="2.7" ry="0.9" fill="#eee" opacity="0.7"/>
<ellipse cx="295.4" cy="212.4" rx="3.1" ry="1.3" fill="#ccc" opacity="0.6"/>
<ellipse cx="301.3" cy="210.9" rx="3.0" ry="1.3" fill="#ccc" opacity="0.6"/>
</g>
<g filter="url(#bl)">
<path d="M316.4 174.8 C313.1 174.8 313.1 176.8 313.1 179.4 L313.4 187.8 Q314.3 190.3 313.4 192.8 L313.1 208.7 C313.1 212.0 314.1 213.3 316.4 213.3 C318.7 213.3 319.7 212.0 319.7 208.7 L319.4 192.8 Q318.5 190.3 319.4 187.8 L319.7 179.4 C319.7 176.8 319.7 174.8 316.4 174.8 Z" fill="#303030"/>
<path d="M322.4 175.8 C319.1 175.8 319.1 177.8 319.1 180.4 L319.4 187.8 Q320.3 190.3 319.4 192.8 L319.1 208.7 C319.1 212.0 320.1 213.3 322.4 213.3 C324.7 213.3 325.7 212.0 325.7 208.7 L325.4 192.8 Q324.5 190.3 325.4 187.8 L325.7 180.4 C325.7 177.8 325.7 175.8 322.4 175.8 Z" fill="#303030"/>
<rect x="315.6" y="187.8" width="7.6" height="5" fill="#303030"/>
<ellipse cx="316.0" cy="177.9" rx="2.1" ry="0.9" fill="#ccc" opacity="0.6"/>
<ellipse cx="321.4" cy="178.5" rx="2.9" ry="1.4" fill="#ccc" opacity="0.6"/>
<ellipse cx="317.0" cy="182.7" rx="2.3" ry="1.0" fill="#bbb" opacity="0.5"/>
<ellipse cx="321.6" cy="182.5" rx="1.8" ry="1.5" fill="#bbb" opacity="0.5"/>
<ellipse cx="317.2" cy="190.8" rx="2.7" ry="1.0" fill="#111" opacity="0.8"/>
<ellipse cx="321.9" cy="190.5" rx="2.6" ry="1.5" fill="#111" opacity="0.8"/>
<ellipse cx="317.3" cy="193.2" rx="2.4" ry="1.3" fill="#ddd" opacity="0.8"/>
<ellipse cx="322.3" cy="193.4" rx="2.2" ry="0.9" fill="#ddd" opacity="0.8"/>
<ellipse cx="317.4" cy="199.4" rx="2.3" ry="1.0" fill="#111" opacity="0.8"/>
<ellipse cx="323.1" cy="198.8" rx="2.8" ry="1.5" fill="#111" opacity="0.8"/>
<ellipse cx="316.5" cy="202.3" rx="2.4" ry="1.1" fill="#ddd" opacity="0.8"/>
<ellipse cx="321.6" cy="202.1" rx="2.7" ry="0.8" fill="#ddd" opacity="0.8"/>
<ellipse cx="315.6" cy="207.8" rx="1.9" ry="1.2" fill="#eee" opacity="0.7"/>
<ellipse cx="322.2" cy="207.2" rx="3.0" ry="1.0" fill="#eee" opacity="0.7"/>
<ellipse cx="316.3" cy="210.8" rx="2.5" ry="1.0" fill="#ccc" opacity="0.6"/>
<ellipse cx="322.0" cy="211.9" rx="2.0" ry="1.2" fill="#ccc" opacity="0.6"/>
</g>
<line x1="52.3" y1="214" x2="52.3" y2="236" stroke="#111" stroke-width="1.2" />
<path d="M49.199999999999996 220 L52.3 213.7 L55.4 220 Z" fill="#000"/>
<line x1="373.4" y1="180" x2="373.4" y2="202.5" stroke="#111" stroke-width="1.2" />
<path d="M370.29999999999995 196.5 L373.4 202.8 L376.5 196.5 Z" fill="#000"/>
<line x1="475.6" y1="180" x2="475.6" y2="202.5" stroke="#111" stroke-width="1.2" />
<path d="M472.5 196.5 L475.6 202.8 L478.70000000000005 196.5 Z" fill="#000"/>
<path d="M351.2 249.2 L362 249 L364.2 247.6 L366.4 249 L369.6 249 L371 244 L371.9 231 L372.7 232 L374.2 206.2 L375.4 231 L376.6 249 L390 249 L392 247.6 L394 249 L398.8 249 L400 241 L400.8 231 L401.4 232.5 L402.2 208 L403.4 232 L404.7 249 L421.9 249.2" fill="none" stroke="#a2b6e6" stroke-width="0.8"/>
<path d="M461.9 248.8 L466 248.8 L469 248 L472.5 246.8 L475.5 248.8 L479 248.8 L482 248.8 L486 248.8 L489.5 247.5 L491.9 246.8 L494.5 248.8 L498.1 248.8 L499.5 236 L500.2 223 L501 225 L502.2 208 L503.4 232 L505 248.8 L506.9 248.8" fill="none" stroke="#a2b6e6" stroke-width="0.8"/>
<line x1="519.3" y1="205" x2="519.3" y2="249" stroke="#8aa4dc" stroke-width="1.4" />
<text x="0" y="0" transform="translate(369 268) scale(1 1.15)" font-size="9.1" font-weight="400" fill="#111" text-anchor="start" >CD3+</text>
<text x="420" y="226.6" font-size="9" font-weight="400" fill="#111" text-anchor="start" >D7S1842</text>
<text x="0" y="0" transform="translate(462.3 267.9) scale(1 1.08)" font-size="9.1" font-weight="400" fill="#111" text-anchor="start" >Bone Marrow</text>
<text x="0.4" y="292.5" font-size="16" font-weight="700" fill="#111" text-anchor="start" >B</text>
<text x="0" y="0" transform="translate(9.0 319.6) scale(1 1.12)" font-size="9.3" font-weight="400" fill="#111" text-anchor="start" >Chromosome 7</text>
<text x="8.9" y="329.9" font-size="9" font-weight="400" fill="#111" text-anchor="start" >p</text>
<text x="223.6" y="329.9" font-size="9" font-weight="400" fill="#111" text-anchor="start" >q</text>
<rect x="9.4" y="333.5" width="220.0" height="12.5" fill="#fff" stroke="#aaa" stroke-width="0.7" rx="1"/>
<rect x="19.10" y="333.50" width="17.90" height="12.50" fill="#000" />
<rect x="44.30" y="333.50" width="1.30" height="12.50" fill="#000" />
<rect x="52.10" y="333.50" width="11.00" height="12.50" fill="#000" />
<rect x="71.00" y="333.50" width="8.80" height="12.50" fill="#000" />
<rect x="96.60" y="333.50" width="5.40" height="12.50" fill="#000" />
<rect x="116.80" y="333.50" width="13.60" height="12.50" fill="#000" />
<rect x="132.40" y="333.50" width="9.40" height="12.50" fill="#000" />
<rect x="157.30" y="333.50" width="7.40" height="12.50" fill="#000" />
<rect x="167.80" y="333.50" width="17.80" height="12.50" fill="#000" />
<rect x="197.10" y="333.50" width="5.70" height="12.50" fill="#000" />
<rect x="208.30" y="333.50" width="6.90" height="12.50" fill="#000" />
<rect x="84.20" y="333.50" width="6.90" height="12.50" fill="#000" />
<g><clipPath id="cc"><rect x="84.9" y="334.3" width="5.5" height="10.9"/></clipPath><g clip-path="url(#cc)" stroke="#fff" stroke-width="1.7"><line x1="84" y1="335.0" x2="91.3" y2="338.0"/><line x1="84" y1="337.9" x2="91.3" y2="340.9"/><line x1="84" y1="340.8" x2="91.3" y2="343.8"/></g></g>
<path d="M86.8 333.5 L88.1 335.1 L89.4 333.5 Z M86.8 346.0 L88.1 344.4 L89.4 346.0 Z" fill="#fff"/>
<line x1="9.7" y1="351.75" x2="228" y2="351.75" stroke="#c9c9c9" stroke-width="0.9" />
<line x1="9.7" y1="358.89" x2="228" y2="358.89" stroke="#c9c9c9" stroke-width="0.9" />
<line x1="9.7" y1="366.03" x2="228" y2="366.03" stroke="#c9c9c9" stroke-width="0.9" />
<line x1="9.7" y1="373.17" x2="228" y2="373.17" stroke="#c9c9c9" stroke-width="0.9" />
<line x1="9.7" y1="380.31" x2="228" y2="380.31" stroke="#c9c9c9" stroke-width="0.9" />
<line x1="9.7" y1="387.45" x2="228" y2="387.45" stroke="#c9c9c9" stroke-width="0.9" />
<line x1="9.7" y1="394.59" x2="228" y2="394.59" stroke="#c9c9c9" stroke-width="0.9" />
<line x1="9.7" y1="401.73" x2="228" y2="401.73" stroke="#c9c9c9" stroke-width="0.9" />
<line x1="9.7" y1="408.87" x2="228" y2="408.87" stroke="#c9c9c9" stroke-width="0.9" />
<line x1="9.7" y1="416.01" x2="228" y2="416.01" stroke="#c9c9c9" stroke-width="0.9" />
<line x1="9.7" y1="423.15" x2="228" y2="423.15" stroke="#c9c9c9" stroke-width="0.9" />
<line x1="9.7" y1="430.28999999999996" x2="228" y2="430.28999999999996" stroke="#c9c9c9" stroke-width="0.9" />
<line x1="9.7" y1="437.43" x2="228" y2="437.43" stroke="#c9c9c9" stroke-width="0.9" />
<line x1="9.7" y1="444.57" x2="228" y2="444.57" stroke="#c9c9c9" stroke-width="0.9" />
<line x1="9.7" y1="451.71" x2="228" y2="451.71" stroke="#c9c9c9" stroke-width="0.9" />
<line x1="9.7" y1="458.85" x2="228" y2="458.85" stroke="#c9c9c9" stroke-width="0.9" />
<line x1="9.7" y1="465.99" x2="228" y2="465.99" stroke="#c9c9c9" stroke-width="0.9" />
<line x1="9.7" y1="473.13" x2="228" y2="473.13" stroke="#c9c9c9" stroke-width="0.9" />
<line x1="9.7" y1="480.27" x2="228" y2="480.27" stroke="#c9c9c9" stroke-width="0.9" />
<line x1="9.7" y1="487.40999999999997" x2="228" y2="487.40999999999997" stroke="#c9c9c9" stroke-width="0.9" />
<line x1="9.7" y1="494.54999999999995" x2="228" y2="494.54999999999995" stroke="#c9c9c9" stroke-width="0.9" />
<line x1="9.7" y1="501.69" x2="228" y2="501.69" stroke="#c9c9c9" stroke-width="0.9" />
<line x1="9.7" y1="508.83" x2="228" y2="508.83" stroke="#c9c9c9" stroke-width="0.9" />
<line x1="9.7" y1="515.97" x2="228" y2="515.97" stroke="#c9c9c9" stroke-width="0.9" />
<line x1="9.7" y1="523.11" x2="228" y2="523.11" stroke="#c9c9c9" stroke-width="0.9" />
<line x1="9.7" y1="530.25" x2="228" y2="530.25" stroke="#c9c9c9" stroke-width="0.9" />
<line x1="9.7" y1="537.39" x2="228" y2="537.39" stroke="#c9c9c9" stroke-width="0.9" />
<line x1="9.7" y1="544.53" x2="228" y2="544.53" stroke="#c9c9c9" stroke-width="0.9" />
<line x1="9.7" y1="551.67" x2="228" y2="551.67" stroke="#c9c9c9" stroke-width="0.9" />
<line x1="88.4" y1="391" x2="88.4" y2="555" stroke="#c4c4c4" stroke-width="0.8" />
<rect x="9.40" y="349.60" width="218.60" height="4.30" fill="#9a9a9a" />
<rect x="9.40" y="356.74" width="218.60" height="4.30" fill="#9a9a9a" />
<rect x="9.40" y="363.88" width="218.60" height="4.30" fill="#9a9a9a" />
<rect x="9.40" y="371.02" width="218.60" height="4.30" fill="#9a9a9a" />
<rect x="9.40" y="378.16" width="218.60" height="4.30" fill="#9a9a9a" />
<rect x="44.00" y="385.30" width="184.00" height="4.30" fill="#9a9a9a" />
<rect x="10.00" y="392.44" width="50.00" height="4.30" fill="#f0680c" />
<rect x="104.00" y="392.44" width="124.00" height="4.30" fill="#9a9a9a" />
<rect x="62.50" y="399.58" width="11.50" height="4.30" fill="#9a9a9a" />
<rect x="108.00" y="399.58" width="120.00" height="4.30" fill="#9a9a9a" />
<rect x="111.60" y="406.72" width="116.40" height="4.30" fill="#9a9a9a" />
<rect x="100.00" y="413.86" width="128.00" height="4.30" fill="#2e5ff0" />
<rect x="115.60" y="421.00" width="112.40" height="4.30" fill="#2e5ff0" />
<rect x="115.60" y="428.14" width="112.40" height="4.30" fill="#2e5ff0" />
<rect x="115.60" y="435.28" width="112.40" height="4.30" fill="#2e5ff0" />
<rect x="176.70" y="442.42" width="51.30" height="4.30" fill="#2e5ff0" />
<rect x="129.60" y="449.56" width="3.80" height="4.30" fill="#9a9a9a" />
<rect x="135.00" y="449.56" width="83.50" height="4.30" fill="#9a9a9a" />
<rect x="169.20" y="456.70" width="58.80" height="4.30" fill="#9a9a9a" />
<rect x="127.00" y="463.84" width="57.80" height="4.30" fill="#9a9a9a" />
<rect x="196.40" y="470.98" width="7.30" height="4.30" fill="#9a9a9a" />
<rect x="16.00" y="477.92" width="1.60" height="4.70" fill="#9a9a9a" />
<rect x="144.40" y="478.12" width="5.60" height="4.30" fill="#9a9a9a" />
<rect x="152.45" y="477.92" width="1.10" height="4.70" fill="#9a9a9a" />
<rect x="155.95" y="477.92" width="1.10" height="4.70" fill="#f0680c" />
<rect x="159.75" y="477.92" width="1.10" height="4.70" fill="#f0680c" />
<rect x="148.45" y="485.06" width="1.10" height="4.70" fill="#9a9a9a" />
<rect x="147.30" y="492.20" width="1.40" height="4.70" fill="#9a9a9a" />
<rect x="205.85" y="499.34" width="1.10" height="4.70" fill="#9a9a9a" />
<rect x="205.25" y="506.48" width="1.10" height="4.70" fill="#9a9a9a" />
<rect x="125.45" y="513.62" width="1.10" height="4.70" fill="#9a9a9a" />
<rect x="21.20" y="520.76" width="1.40" height="4.70" fill="#9a9a9a" />
<rect x="48.05" y="527.90" width="0.90" height="4.70" fill="#9a9a9a" />
<rect x="112.45" y="535.04" width="1.10" height="4.70" fill="#f0680c" />
<rect x="130.45" y="535.04" width="1.10" height="4.70" fill="#f0680c" />
<rect x="105.30" y="542.18" width="1.40" height="4.70" fill="#f0680c" />
<rect x="193.45" y="549.32" width="1.10" height="4.70" fill="#f0680c" />
<polygon points="231.40,414.36 231.91,415.40 233.06,415.57 232.23,416.38 232.43,417.53 231.40,416.99 230.37,417.53 230.57,416.38 229.74,415.57 230.89,415.40" fill="#000"/>
<polygon points="231.40,421.50 231.91,422.54 233.06,422.71 232.23,423.52 232.43,424.67 231.40,424.12 230.37,424.67 230.57,423.52 229.74,422.71 230.89,422.54" fill="#000"/>
<polygon points="231.40,428.64 231.91,429.68 233.06,429.85 232.23,430.66 232.43,431.81 231.40,431.26 230.37,431.81 230.57,430.66 229.74,429.85 230.89,429.68" fill="#000"/>
<polygon points="231.40,435.78 231.91,436.82 233.06,436.99 232.23,437.80 232.43,438.95 231.40,438.41 230.37,438.95 230.57,437.80 229.74,436.99 230.89,436.82" fill="#000"/>
<polygon points="231.40,442.92 231.91,443.96 233.06,444.13 232.23,444.94 232.43,446.09 231.40,445.55 230.37,446.09 230.57,444.94 229.74,444.13 230.89,443.96" fill="#000"/>
<polygon points="231.40,478.62 231.91,479.66 233.06,479.83 232.23,480.64 232.43,481.79 231.40,481.25 230.37,481.79 230.57,480.64 229.74,479.83 230.89,479.66" fill="#000"/>
<polygon points="231.40,485.76 231.91,486.80 233.06,486.97 232.23,487.78 232.43,488.93 231.40,488.38 230.37,488.93 230.57,487.78 229.74,486.97 230.89,486.80" fill="#000"/>
<polygon points="231.40,492.90 231.91,493.94 233.06,494.11 232.23,494.92 232.43,496.07 231.40,495.52 230.37,496.07 230.57,494.92 229.74,494.11 230.89,493.94" fill="#000"/>
<polygon points="231.40,500.04 231.91,501.08 233.06,501.25 232.23,502.06 232.43,503.21 231.40,502.67 230.37,503.21 230.57,502.06 229.74,501.25 230.89,501.08" fill="#000"/>
<polygon points="231.40,507.18 231.91,508.22 233.06,508.39 232.23,509.20 232.43,510.35 231.40,509.81 230.37,510.35 230.57,509.20 229.74,508.39 230.89,508.22" fill="#000"/>
<polygon points="231.40,514.32 231.91,515.36 233.06,515.53 232.23,516.34 232.43,517.49 231.40,516.95 230.37,517.49 230.57,516.34 229.74,515.53 230.89,515.36" fill="#000"/>
<polygon points="231.40,521.46 231.91,522.50 233.06,522.67 232.23,523.48 232.43,524.63 231.40,524.09 230.37,524.63 230.57,523.48 229.74,522.67 230.89,522.50" fill="#000"/>
<polygon points="231.40,528.60 231.91,529.64 233.06,529.81 232.23,530.62 232.43,531.77 231.40,531.23 230.37,531.77 230.57,530.62 229.74,529.81 230.89,529.64" fill="#000"/>
<polygon points="231.40,535.74 231.91,536.78 233.06,536.95 232.23,537.76 232.43,538.91 231.40,538.37 230.37,538.91 230.57,537.76 229.74,536.95 230.89,536.78" fill="#000"/>
<polygon points="231.40,542.88 231.91,543.92 233.06,544.09 232.23,544.90 232.43,546.05 231.40,545.50 230.37,546.05 230.57,544.90 229.74,544.09 230.89,543.92" fill="#000"/>
<polygon points="231.40,550.02 231.91,551.06 233.06,551.23 232.23,552.04 232.43,553.19 231.40,552.64 230.37,553.19 230.57,552.04 229.74,551.23 230.89,551.06" fill="#000"/>
<polygon points="14.40,560.30 15.19,561.91 16.97,562.17 15.68,563.42 15.99,565.18 14.40,564.35 12.81,565.18 13.12,563.42 11.83,562.17 13.61,561.91" fill="#000"/>
<text x="25.6" y="566.6" font-size="9.15" font-weight="400" fill="#111" text-anchor="start" >- not previously detected by MC</text>
<rect x="11.20" y="572.40" width="7.50" height="7.50" fill="#999" />
<text x="27.0" y="580.2" font-size="9.15" font-weight="400" fill="#111" text-anchor="start" >loss</text>
<rect x="58.00" y="572.40" width="8.00" height="7.50" fill="#f0680c" />
<text x="73.6" y="580.2" font-size="9.15" font-weight="400" fill="#111" text-anchor="start" >gain</text>
<rect x="105.10" y="572.80" width="7.80" height="7.50" fill="#2e5ff0" />
<text x="120.5" y="580.2" font-size="9.15" font-weight="400" fill="#111" text-anchor="start" >UPD</text>
<text x="251.0" y="292" font-size="16" font-weight="700" fill="#111" text-anchor="start" >C</text>
<rect x="282.3" y="335.8" width="235.3" height="168.0" fill="none" stroke="#444" stroke-width="1"/>
<line x1="278.4" y1="503.8" x2="282.3" y2="503.8" stroke="#444" stroke-width="0.9" />
<line x1="278.4" y1="487.0" x2="282.3" y2="487.0" stroke="#444" stroke-width="0.9" />
<line x1="278.4" y1="470.2" x2="282.3" y2="470.2" stroke="#444" stroke-width="0.9" />
<line x1="278.4" y1="453.40000000000003" x2="282.3" y2="453.40000000000003" stroke="#444" stroke-width="0.9" />
<line x1="278.4" y1="436.6" x2="282.3" y2="436.6" stroke="#444" stroke-width="0.9" />
<line x1="278.4" y1="419.8" x2="282.3" y2="419.8" stroke="#444" stroke-width="0.9" />
<line x1="278.4" y1="403.0" x2="282.3" y2="403.0" stroke="#444" stroke-width="0.9" />
<line x1="278.4" y1="386.20000000000005" x2="282.3" y2="386.20000000000005" stroke="#444" stroke-width="0.9" />
<line x1="278.4" y1="369.4" x2="282.3" y2="369.4" stroke="#444" stroke-width="0.9" />
<line x1="278.4" y1="352.6" x2="282.3" y2="352.6" stroke="#444" stroke-width="0.9" />
<line x1="278.4" y1="335.8" x2="282.3" y2="335.8" stroke="#444" stroke-width="0.9" />
<text x="0" y="0" transform="translate(275.6 506.6) scale(1 1.1)" font-size="9" font-weight="400" fill="#111" text-anchor="end" >0.0</text>
<text x="0" y="0" transform="translate(275.6 473.0) scale(1 1.1)" font-size="9" font-weight="400" fill="#111" text-anchor="end" >0.2</text>
<text x="0" y="0" transform="translate(275.6 439.40000000000003) scale(1 1.1)" font-size="9" font-weight="400" fill="#111" text-anchor="end" >0.4</text>
<text x="0" y="0" transform="translate(275.6 405.8) scale(1 1.1)" font-size="9" font-weight="400" fill="#111" text-anchor="end" >0.6</text>
<text x="0" y="0" transform="translate(275.6 372.2) scale(1 1.1)" font-size="9" font-weight="400" fill="#111" text-anchor="end" >0.8</text>
<text x="0" y="0" transform="translate(275.6 338.6) scale(1 1.1)" font-size="9" font-weight="400" fill="#111" text-anchor="end" >1.0</text>
<line x1="282.2" y1="503.8" x2="282.2" y2="506.6" stroke="#444" stroke-width="0.9" />
<line x1="303.59999999999997" y1="503.8" x2="303.59999999999997" y2="506.6" stroke="#444" stroke-width="0.9" />
<line x1="325.0" y1="503.8" x2="325.0" y2="506.6" stroke="#444" stroke-width="0.9" />
<line x1="346.4" y1="503.8" x2="346.4" y2="506.6" stroke="#444" stroke-width="0.9" />
<line x1="367.8" y1="503.8" x2="367.8" y2="506.6" stroke="#444" stroke-width="0.9" />
<line x1="389.2" y1="503.8" x2="389.2" y2="506.6" stroke="#444" stroke-width="0.9" />
<line x1="410.6" y1="503.8" x2="410.6" y2="506.6" stroke="#444" stroke-width="0.9" />
<line x1="432.0" y1="503.8" x2="432.0" y2="506.6" stroke="#444" stroke-width="0.9" />
<line x1="453.4" y1="503.8" x2="453.4" y2="506.6" stroke="#444" stroke-width="0.9" />
<line x1="474.8" y1="503.8" x2="474.8" y2="506.6" stroke="#444" stroke-width="0.9" />
<line x1="496.2" y1="503.8" x2="496.2" y2="506.6" stroke="#444" stroke-width="0.9" />
<line x1="517.6" y1="503.8" x2="517.6" y2="506.6" stroke="#444" stroke-width="0.9" />
<text x="0" y="0" transform="translate(325.1 520.8) scale(1 1.05)" font-size="9" font-weight="400" fill="#111" text-anchor="middle" >10</text>
<text x="0" y="0" transform="translate(367.90000000000003 520.8) scale(1 1.05)" font-size="9" font-weight="400" fill="#111" text-anchor="middle" >20</text>
<text x="0" y="0" transform="translate(410.70000000000005 520.8) scale(1 1.05)" font-size="9" font-weight="400" fill="#111" text-anchor="middle" >30</text>
<text x="0" y="0" transform="translate(453.5 520.8) scale(1 1.05)" font-size="9" font-weight="400" fill="#111" text-anchor="middle" >40</text>
<text x="0" y="0" transform="translate(496.3 520.8) scale(1 1.05)" font-size="9" font-weight="400" fill="#111" text-anchor="middle" >50</text>
<text x="0" y="0" transform="translate(404.5 534.9) scale(1 1.06)" font-size="9" font-weight="400" fill="#111" text-anchor="middle" >Months</text>
<text x="0" y="0" font-size="9.5" fill="#111" text-anchor="middle" transform="translate(260.4 418.9) rotate(-90)">Survival</text>
<text x="0" y="0" transform="translate(291.0 496.1) scale(1 1.06)" font-size="7.5" font-weight="400" fill="#111" text-anchor="start" style="stroke:none">p=0.002</text>
<path d="M282.3 335.8 H290 V348 H294.6 V362.3 H295.3 V375.4 H296.4 V390.8 H301.3 V405.3 H302.4 V419.2 H306 V433.1 H311 V474.8 H347.5 V489.5 H406.3" fill="none" stroke="#c4c4c4" stroke-width="1"/>
<path d="M282.3 335.8 H288.7 V382.9 H295.6 V407.6 H316.5 V431.7 H350.5 V456.2 H465" fill="none" stroke="#6a6a6a" stroke-width="1"/>
<path d="M282.3 335.8 H295.7 V340.7 H296.3 V347.1 H300.9 V352.4 H302.9 V357.2 H304.5 V363.7 H311.4 V369.4 H314.6 V374.6 H327.4 V387.8 H341.3 V394.2 H369.4 V405 H373.6 V416.4 H448.8 V433.8 H454.5 V451.3 H500 V503.8" fill="none" stroke="#2a2a2a" stroke-width="1.2"/>
<line x1="418" y1="347.8" x2="429.6" y2="347.8" stroke="#000" stroke-width="1.6" />
<line x1="418" y1="357.3" x2="429.6" y2="357.3" stroke="#c8c8c8" stroke-width="1.3" />
<line x1="418" y1="367.6" x2="429.6" y2="367.6" stroke="#666" stroke-width="1.3" />
<text x="436.9" y="349.6" font-size="6.5" font-weight="400" fill="#222" text-anchor="start" style="stroke:none">normal by SNP-A/MC</text>
<text x="436.9" y="359.5" font-size="6.5" font-weight="400" fill="#222" text-anchor="start" style="stroke:none">del7/7q by MC</text>
<text x="436.9" y="369.9" font-size="6.5" font-weight="400" fill="#222" text-anchor="start" style="stroke:none">del7/7q, upd7q by SNP-A</text>
<text x="436.9" y="378.3" font-size="6.5" font-weight="400" fill="#222" text-anchor="start" style="stroke:none">normal by MC</text>
</svg></body></html>
